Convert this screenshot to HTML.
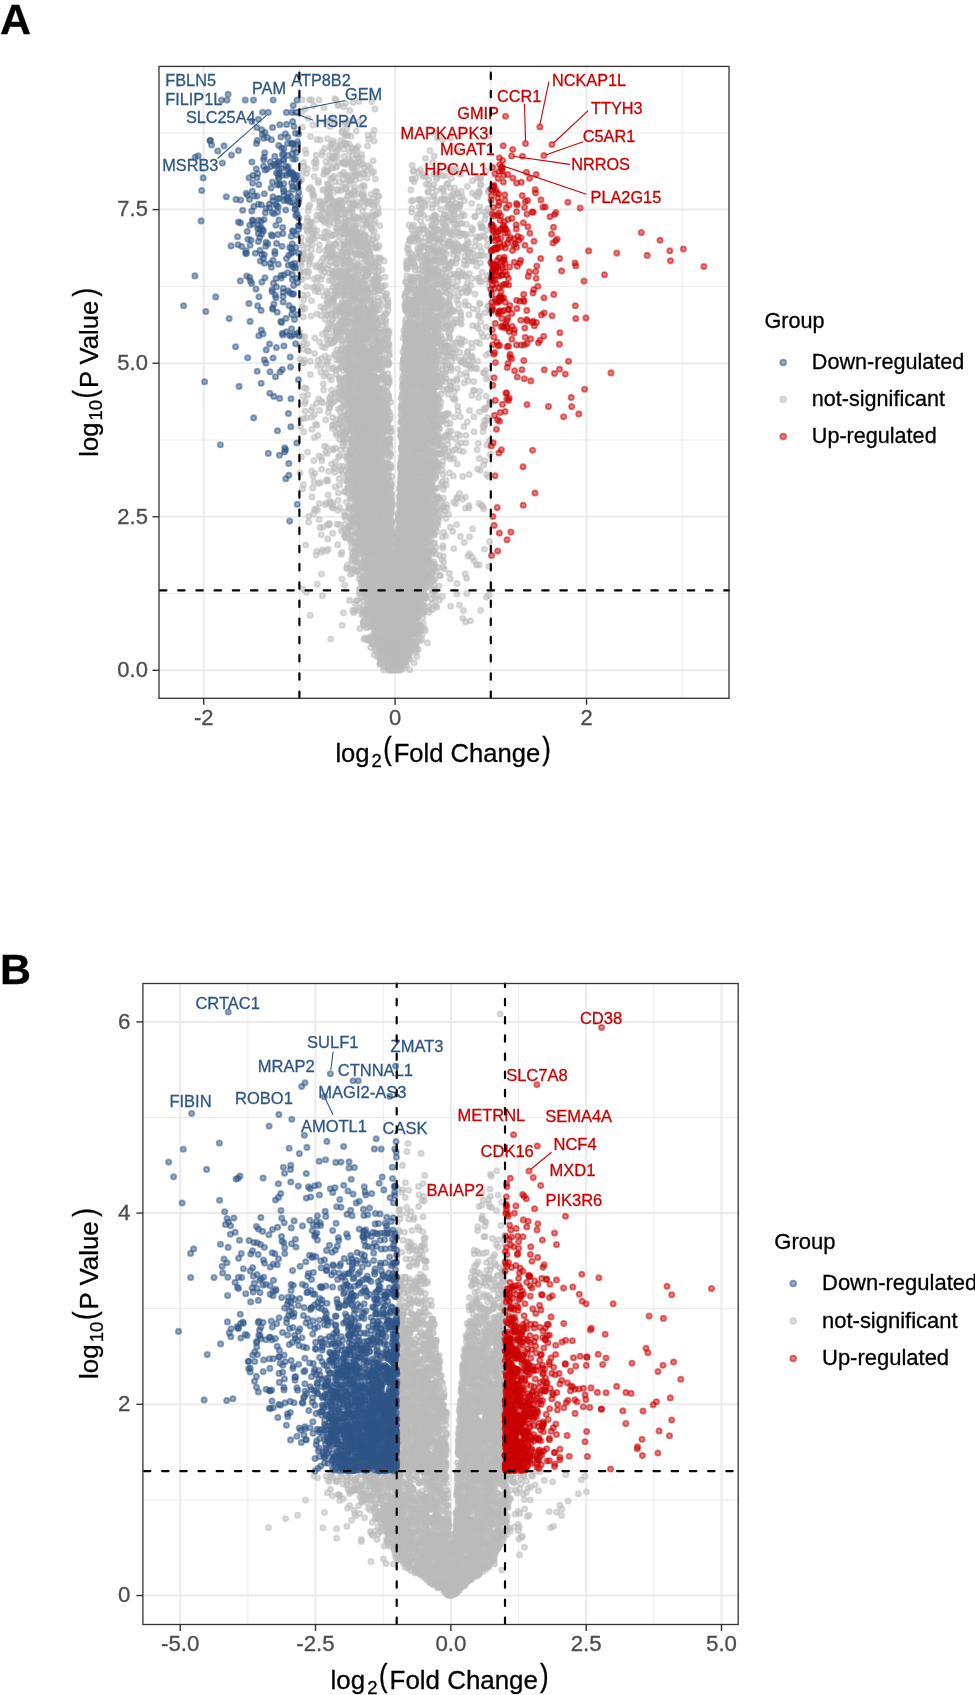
<!DOCTYPE html><html><head><meta charset="utf-8"><title>Volcano plots</title><style>html,body{margin:0;padding:0;background:#fff;}svg{display:block;will-change:transform;}text{font-family:"Liberation Sans", sans-serif;stroke-width:0.3px;}</style></head><body>
<svg width="975" height="1695" viewBox="0 0 975 1695">
<defs>
<marker id="mb" markerUnits="userSpaceOnUse" markerWidth="10" markerHeight="10" refX="5" refY="5" viewBox="0 0 10 10" overflow="visible"><circle cx="5" cy="5" r="2.65" fill="#2f5688" fill-opacity="0.5" stroke="#2f5688" stroke-opacity="0.5" stroke-width="1.8"/></marker>
<marker id="mg" markerUnits="userSpaceOnUse" markerWidth="10" markerHeight="10" refX="5" refY="5" viewBox="0 0 10 10" overflow="visible"><circle cx="5" cy="5" r="2.65" fill="#BBBBBB" fill-opacity="0.5" stroke="#BBBBBB" stroke-opacity="0.5" stroke-width="1.8"/></marker>
<marker id="mr" markerUnits="userSpaceOnUse" markerWidth="10" markerHeight="10" refX="5" refY="5" viewBox="0 0 10 10" overflow="visible"><circle cx="5" cy="5" r="2.65" fill="#CC0000" fill-opacity="0.5" stroke="#CC0000" stroke-opacity="0.5" stroke-width="1.8"/></marker>
</defs>
<clipPath id="ca"><rect x="159.0" y="66.4" width="570" height="631.9"/></clipPath>
<clipPath id="cb"><rect x="142.9" y="983.45" width="595.3" height="641"/></clipPath>
<line x1="299.4" y1="66.4" x2="299.4" y2="698.3" stroke="#EBEBEB" stroke-width="1"/>
<line x1="490.8" y1="66.4" x2="490.8" y2="698.3" stroke="#EBEBEB" stroke-width="1"/>
<line x1="682.2" y1="66.4" x2="682.2" y2="698.3" stroke="#EBEBEB" stroke-width="1"/>
<line x1="159" y1="593.5" x2="729" y2="593.5" stroke="#EBEBEB" stroke-width="1"/>
<line x1="159" y1="440" x2="729" y2="440" stroke="#EBEBEB" stroke-width="1"/>
<line x1="159" y1="286.4" x2="729" y2="286.4" stroke="#EBEBEB" stroke-width="1"/>
<line x1="159" y1="132.9" x2="729" y2="132.9" stroke="#EBEBEB" stroke-width="1"/>
<line x1="203.7" y1="66.4" x2="203.7" y2="698.3" stroke="#EBEBEB" stroke-width="2"/>
<line x1="395.1" y1="66.4" x2="395.1" y2="698.3" stroke="#EBEBEB" stroke-width="2"/>
<line x1="586.5" y1="66.4" x2="586.5" y2="698.3" stroke="#EBEBEB" stroke-width="2"/>
<line x1="159" y1="670.3" x2="729" y2="670.3" stroke="#EBEBEB" stroke-width="2"/>
<line x1="159" y1="516.8" x2="729" y2="516.8" stroke="#EBEBEB" stroke-width="2"/>
<line x1="159" y1="363.2" x2="729" y2="363.2" stroke="#EBEBEB" stroke-width="2"/>
<line x1="159" y1="209.6" x2="729" y2="209.6" stroke="#EBEBEB" stroke-width="2"/>
<g clip-path="url(#ca)"><path d="M334.8 98.7l-32.8 1.1 7.5 0 2.3 0 7.3 0 17.1 0.4 2.3 4.1 7.2-1 7.3-0.8 5.7-1 13 0.1 -66.6 7.3 8.7-3.3 10.1 2.1 14-2 6 1 5.7 3.7 25.3-1.5 -73.1 3.7 6.2 5.6 17.8 3.2 4.3-0.8 3-2.1 1.6 2.8 9.6 1.6 1.7-0.3 4.8-2.3 1.9 0.2 5.8 1 -56.1 5.8 10.5-2.4 17.1 1.5 16.4-2.3 0.5 4.1 -5.1 4 0.6-1.6 3.1 3.9 2.1 0.1 8.6-3.6 16.7 4 1.3-4.8 60.4 2 -124.1 4.4 6.4 3 3.3 0.3 7.5-1.1 5.7 2.1 7.4-0.4 4.4-5.4 2.1 0.6 3.7 0.5 17-1.1 0.7 4.1 68.7-1.3 5.3 1.8 8-1.6 38.6-2.5 -158.3 8.6 1.7-1 5.1 2.3 2.9-0.2 3.2-3.2 1.1 1.6 1.3 0.1 0.3 1.7 2.4-1.8 9.1 2.6 9.4-0.4 6.6-4.9 -68.9 9 17.4 1.8 2.1-3.4 5.9-1.3 1.1 2.1 4.6 2.5 1.3-1.9 1.3-2.6 4.7 2.1 5.8 2.6 2.6-2.3 0.4-1.8 3.5 0.8 0.9 1.9 73.1 0.1 27.6-0.2 -151.5 3.1 10.3 1.5 5.6 0.1 7.4 0.3 2.9 2.1 0.2 1 0-2 1.4 1.7 1.1-1.7 2.3-0.5 7 0.6 4.6 2.1 3.8-3.5 3.7-0.1 1.4 3.3 1-1.6 2.9-2.4 0.2 3.3 63.7 0.6 8.7-2.2 -130.7 6.4 10.6-0.1 1.6-2.2 0.5 2.7 9.7-1.5 4.9 0.2 7.3 0.6 4.3 0.8 0.8-0.8 0.7 1.1 0.4-0.2 1.5 1.4 1.8-1.3 2.8-2.7 0.1 2.1 1.7 0.6 2.9 0.6 0.8-1.6 2.9-0.4 2.4 2.7 1.9-0.8 10-2.9 59.5 1.5 -128.5 4 3.2 2.4 8-0.6 9 2 2.7-3.7 5.3 1.7 0.2-0.3 3.7-0.6 0.6-1.3 14.9 1.3 0.7 1.7 1.8-0.8 3.1-1.5 7.1 1.4 2.5 2.6 1.2-4.9 2 1.8 42-2.2 1.9 5.3 6.4-0.8 28.3-0.9 1.6 1.4 1.2-0.5 4.7-0.4 30 1.6 -183.6 1.3 3.9 1.3 7.6 3 9.6-2.2 1.6-1.6 1.3-1.7 0.1 0.4 0.9 0 6.4 4.9 6-1.7 2.8-0.4 0.9-2.1 2.7 3.4 2.7-0.4 4.5 0.9 0.9-3.1 0.9 1.8 1.5-0.5 1.6-1.4 4 0.3 1.8 1 7.7-1.1 1.6-1.3 39.3-0.6 5.3 1 4 2 1.3 2.3 2.3-0.2 7.9-2 3.6 2.4 1.2-2.8 3.9 1.7 2.8 0.1 11.3-3.8 4 2.4 -161 4.2 0.5 3.1 1.6-2.2 16.7 3.3 0.2-1.9 12.1-2.5 2-0.4 2.2 3.7 4.3 0.4 4.2-2.2 2 3.2 2.3-5.7 2.1 3.8 0.9-1 1-0.3 3.4 0.6 5.3-2 6.7-0.5 8.4 1.1 36.8 0.3 0.1-0.6 1.7 3.1 1.8-3.8 13.1 1.7 7.7-0.7 14.8-0.7 21.1 2.5 4.9-2.5 2-0.2 1.6 0.2 -170.6 9.1 16.9-3.7 1 0.3 0.9 2.5 2.2 0.7 11.4-0.1 2.8 1.3 0.6 0.3 3.6-4.4 5 2.8 6.3-0.2 2.1-1.4 1.1 0.7 61.9-2.1 2.5 1.1 3.6 2.7 1.4-3.1 7.7 3.6 2 0.4 3.4-4.8 1.2-0.4 2.2 4.4 4.6 0 12.6-1.6 13.2-2.2 0.5 1.1 -172.3 3.8 3.3 0.1 0.4 2.4 0.2 3.1 10-4.8 1.3-0.2 2.8 3.6 0.7 1 0.4-5.2 0.8 0.7 0.4 3.7 1-4.1 3.7 2.5 3-2.7 1.8 1.4 2.6-0.3 6.8 2 2.2 1.8 2.1 0.7 1.5-3.1 0.6-1.2 0.7 4.4 3.2-1.5 3.4 1.1 0.9 0.4 0.8-2.3 7.6 1.8 4.2-2.7 1.5-0.4 34.2-1.4 17 2.1 0.4 0 8.2-1 6.7 0 10.5 2.8 3-0.3 0.8-0.2 3.7-2.1 11.3 1.9 6 0.6 0.3-2.3 0.8 1.2 8.8-2.6 0.1 2 -188.4 4.3 13.5 2.7 0.3-3.5 11.2 5.3 1.8-1 0.7-1.1 1.5-2.3 1.2 1.7 0.6 0 1.8 2.8 6.7-0.4 0.5 0 5.8-1 2-3.5 4.1 4.8 11.2-1.7 1.1-2.1 0.5 2.7 8.6-1.2 4.6-2.2 1.1-0.1 34.1 4.2 5.7-0.7 0.8-0.2 1.5-0.1 6.2 0.5 5.7-2.7 1.1-1.2 2.5 4.9 4.6-1.9 0.7 1.1 2.5-5 0.2 4.1 2.7 1.7 0.2-0.6 3.9-4.8 0.8 1.5 0.4 2.7 7.1-2.8 2.6 0.2 2.1 3.8 11.2-5.7 2.2 1.8 -169.2 9.8 1.4-1.7 9.6-4 0.4 0.9 0.6 3 1.2-0.8 1 0.1 6-0.3 1.2 2.5 2.6-1.3 0.7-2.2 1.3 2.3 0.5-0.4 0.8-1.6 0.7-1.8 0.3 5.2 0.4-0.7 0.3-1.6 0.1 0.5 0.3 1.4 0.5-2.2 0.9-1.1 1.6 1.1 1.3-0.9 2.4-2.1 5 2.4 2.4-0.3 0.4 2 1.6-0.3 0.9-1 1.8 1.2 0.4-3.2 1.3 4 4.2-4.6 1.4 5.1 4.1-2.8 0.9-2.2 0.3 0.5 2.8 2.8 1.9 1 0.7-3.4 2.1-0.7 34.4-0.5 7.7 5.6 2.3-5 2.9 1.8 1.5 2.1 6.8-1.1 4.3-0.8 12.9 0.3 0.5 0.7 4 1.4 1.9-2.9 0 3.5 3.3-0.3 0.3-1.7 0.6 0.2 11.5-1.4 8 3.2 -171.6 4.3 11.1-3.6 2.9 2.5 1.7 1.8 1.7-2.8 3.7 3.7 2.1-5 3.1 2.3 1.2 0.3 0.2 1 1.6-0.7 1-1.6 0.1-1.8 2.9 1.8 0-1.1 1.9 0.6 1.8 3.5 0.4-1.7 4 2.3 0.3-3.1 1.3-1.1 0.8 3.7 0.3-2.7 10.4 1.9 10.2 1.1 5.3-4.6 33.6 4.6 0.1-3.9 9.3 1 0.6-1.5 10.6 0.2 8.5 1.2 6-2.1 1.7 0 2.9 0 0.3 3.1 0.2 2 1.2-4.2 0.9 1.1 0.4 2.2 4.1-2.6 20 2.8 6.1 0.8 3.4-3.9 2.7 2.7 -183.3 6.5 9.5-2.7 2.5 0.2 1.4 1.6 0.5 2.2 0.7-1.2 5.7-1.6 1.5-2.7 0.3 0.3 4 2.9 1.3 0.5 1.2-3.7 0.9 4.6 0.5 0.1 0.4-2.5 0.3-1.7 3.4 0.4 2.9 3.6 0.3-4.3 1.6 4.9 5.7-0.9 0.8 1 1.1-2.8 1.9 1.1 2.8 0.6 3.7-0.6 3.2 0 1.5-1.7 5.5 0.5 0.2 0.1 2.6-0.4 1.6-1.7 1.8-0.6 37.9 4.3 1.8-3.6 2.2-0.4 2.9 1.6 4.6 3.2 5.2-1.8 1.1-0.8 0.2-0.6 1.2 0.4 3.1 2.9 4.5 0.1 0.9-4.5 0.1 1.4 1.6 2 0.8-0.4 3.2-3.6 2.4 5.4 2.1-4 1.7 3 4.8-1.3 1.1-2.4 2.2 1.3 10.4 1.4 0.4-0.6 11.1-1.3 -178.9 6.1 2.7 2.9 0.4-2.2 1 1 4.6-2.6 6.6-0.4 0.8 1 1.6 2.1 0.1-3.7 3.9 5.7 0-5.6 0.3 2.8 5.2 1 2.6-1.6 3.2 2.2 2.2-0.6 3.3 0.5 2-2.8 0.5 3.3 0.8-3.6 5.2-1.1 1.2 4.8 3.7-5 2.6 5.2 2.1-4.7 3 4.4 0.1-4.6 1 4.1 1.4-2.4 4.7 2.8 0.7-2.7 38.8 3.8 7-3.9 11.9-1.1 2-0.9 1.6 1.9 0 1.7 6.5-0.5 0.8 2.2 0.4-0.8 4.9-1.9 1.6-1.4 3.3-0.6 1 4.5 2.2-0.2 3-0.2 1.9-0.5 4.5 0.9 13.9-0.5 4.8-4.3 -182.3 7 4.6 3.6 1.5-3.9 1.6 3.1 3-1.3 3.5 2.5 19.2-2.3 1 0.3 1.1 1.6 4.8-2.2 0.2-0.1 1.8-2.5 0.1 2.5 0.1 0.7 1.2 0.7 1.7 1.7 1.1-3.7 2.4 2.5 1.1 0.5 0.6-4.5 0.2 3.1 1.3-0.3 1.1-2.6 0.2 4.9 6.6-1.1 3.8-4 4.1 0.7 0.9 2.1 0.4 1.6 2.3 1 5.8-5.2 29.1-0.7 2.6 4.7 0.5-2.8 5.8 3.6 0.5-0.7 1.2-1.1 3.2 0.4 0.2-3.1 0.9 3 2.8 1.4 4.5-5 0.8-0.1 0.8 1.3 1 1.7 0.3-1 2.5 1.9 1.7-0.2 2.7 1.6 4.5-3.2 0.2-1.2 1.1 2.1 7.5 0.3 3-0.8 14.4-0.1 1.1 2 8.4-2.1 0.5-1.7 0.7 1.7 4.1 2.6 -179 1.7 4.8 0.5 0.3 0.5 1.6-1.9 2.9 5.2 7.6-4.1 2.5-0.9 2.5 2.4 1.6 2.3 2.1-0.9 1.8-0.9 4.2 1.5 1.4-2.7 0.8-1.5 2.1 2.2 0.1 0.7 1.4-0.6 3.2-2 1.6 0.4 0.3 1.7 1.3 0.9 0.1-1.4 1.7 1.2 1.2-2.1 1.9-0.1 1.3 1.7 0.6 2.4 1.4-0.6 0.9-2.9 2.3 2.4 1.8-0.1 0.2-0.8 0.6 1.6 7.1 0.1 4.3 0.6 36.2-2.4 1.7 0.5 5.2-2.4 7.9 1.9 0.5-1.4 2.6 2 0.8 1.8 0-0.6 0.2 0.1 0-3 0.8 0.9 2.9 0.7 0.2-3.5 6.5 4.2 0.3-3.8 1-0.5 1.7 1.3 4.2 0.7 1-2 0.4 3.6 2.5 0.5 3.6-2.4 2.1 0.1 0.4 3.2 1.2-3 2.3 0.4 2.1 1.6 0.2-1.1 5.4-0.2 6 2.9 5-1 2.6 0.5 -183.6 6.5 0.4-5.5 7.2 1.5 2.3 1.4 1.5-2.6 2 1.3 8.3-2 1.8 1.1 2.4 0 11.3 3.1 5.4 0.2 4.5-2.1 0.6-1.3 0.2 3.8 3.7-1.4 0.2-3.3 1.5 2.6 0.5-2.3 1.8 1.9 1.2-0.6 0.1 1.9 2.5-0.9 1-2.3 2.6 3.2 0.6-0.6 2.2 2.2 2.2-2.8 0.9 3.3 3.3-3.1 2.5 2.5 33.9-2.6 0.7 0.5 0.2 1 0.8-2.9 1.6 1.9 1.8 1.6 0.5-3.6 1.3-0.7 1.1-0.2 1 2.3 3.3 2.6 3.2-4.5 3.9 2.2 0.4 1 2.1-2.3 2.5-0.2 0.1-1.1 3.9 2.3 0 0.5 0.7 0.9 0.9-2.2 1.2 1.8 2.2 2.4 0.2-5.2 4.9 5.3 0.8-2 1.6 0.7 4.9 0.6 11.8-1.4 1.7 2.1 6.9-2.1 3-3.1 1.2-0.6 6.8 2.5 -184.2 5.8 4.7 2.7 1.5-5 3.7 1.5 7 0.1 8.6 2.7 0.3 0 0.9-3.5 4.1 1.8 1.6-1.5 0.4-0.4 4.7 3.8 4.3-3.6 0 3.8 0-3.7 0.2 0.9 0.7-0.1 2.3-1.2 0.6 2.2 0 0.4 3.6-2.8 0.4 1.4 1.4 1.7 4.3-1 0.7-2.2 0.1 0.4 0.7 3.2 1.1-0.9 0.5 1.2 1-3.7 0.9 1.9 4-1 0.2 3.4 0.3-3.3 4.5-0.2 1.4 3.8 2.8-1.3 0.2 0.7 1.5 0.5 1.5-2.4 28.1 2.8 1-4.2 9.4 4.1 1.8-4.6 1.9 2.5 3 0.6 0.7-0.4 2.7 2.4 0.3-0.4 0-4.4 3.6 4.5 2-5.6 0.4 3.3 2.5 0.6 5.1 0.5 3.2 0.9 3.2-2.1 0-2.1 0.8-0.8 0.4 0.5 0.8 0.7 0.6 1 0.4 0.2 2.7 0.8 0.7-2.1 0.8 3.2 2.4-3.4 0.7 2.3 0.8 1.5 3.5-1.2 0.5 1.1 0.2-0.5 2.2-1 1.2-1.9 8.1 1.9 4.7-0.1 7.5-0.6 3.4 3.3 -187.7 3.4 0.5 1.5 8.1-3.8 7.7 0.1 6.2 0.1 2.6-0.3 2.5 2.5 0.2 1.7 0.8-3.6 0.2 4.3 0.3-3.2 1.2-2.6 4.3 5.3 4.2-1.9 1.2-1.2 1.4 0.8 0.2 1.1 3.4-0.6 0.5-0.2 1.6-0.7 0.6-0.6 4.3-0.9 1.1 3.9 0-0.5 0.1 0 2.6-0.1 0.4-0.7 0.6 1.4 1.6 0.5 0.7-3.8 1.2 0.3 2.9 2.8 0.6-4.1 0.9-0.1 2.1 1 0.3 3.4 38.6-4.7 0 3.9 2.1 0 5.9 0.3 2.5-4.1 0.3 2.4 1.1-1.8 6.3 4.5 0.2 0.1 1.8-1.7 2.3-2.9 0.4-1.1 1.8 1.7 1.7-0.9 0.3 1.7 0.3 1.5 1.9-0.8 0.2-0.3 1.4-1.4 0.6-0.6 2.6 1.6 0.6-0.2 1.7 1.4 1.8 1 6.5-3.8 0.3 4.4 1.6-5.2 0.4 2.9 2.5-1.7 0.5-0.2 0.1 2.7 6.3-3.1 2.5 0.3 0.9 3.9 0.4-1.8 1.1-2.5 1 2.7 3.1 0.9 7.9-2.1 -181 8.8 2.1-0.7 0.1-1.5 2.7 1.2 3.8-3.3 1.1 3.1 1-2.6 11.9 1.8 2.9-2.9 1.4 4.5 0.6-3.8 1.3-0.5 0.7 2.1 1-1.7 0.4-0.2 2.2 1.3 1.5-1.3 1 2.8 2.2 0.7 2.9-0.8 0.1-2.8 1.1 1 0.4 4 1.6-1.8 0.5 1.7 2.8-4.6 0.9 3.4 0.6 0.9 2.4-2.4 5.7 1.8 4.6-4.4 1.9 1 2.1 0.9 0.3 1.8 0.1 0.6 3.2-4.3 1.2 0.9 1.8 4.9 2.8-2.7 2.9-0.5 1.7 1.5 1-0.9 25.8 2.7 3.6-1.6 1-1.1 0.3-0.9 0.7 3.1 4.6-3.6 0.5 1.4 3.8-2.7 1.5 2.9 1.5-2.6 0.9 4.4 2.2 0.2 0.5-2.7 4 1.1 1.3 2.1 0.7-5 0.8 1.8 0.4 2 1.2-0.4 1.8-2.8 1 4.2 2-5.3 1.2 2.4 0.8 2.5 1.1-2.1 0-0.5 0.3 1.5 12.4-0.3 0.3-0.7 7.3 2.6 0.5-4.4 2.7 2.6 3.3-1 4.8 1.8 2-4.3 2.8 0.1 2.1-0.2 5.3 0.4 -187.3 7.3 0.7 1.9 7.9-0.4 0.7-2.8 6.2 3.5 4.8-3.4 2.2 2.9 5.7 0.7 2.1-3.3 4 0.4 0.9 1.6 1.2-0.5 2.9 2.4 3.4-2.5 1.2 0 0.3-2.4 0.1 3.8 2.3-2.3 2.8 0.5 1.2 3.4 0-5.4 1.2 4.5 4.7 0.1 0.1-0.5 0.3-0.8 1.9 1.7 4.2-4.1 2.6-0.8 2.5 1.8 1.5 2.2 1-1.9 0.5-1.4 1.6 4.4 0.8-1.9 1 2.4 1.1-2.8 2 2 0.3-3.1 5.6-2 22.3 2.9 1.4-1.4 0.2 3.5 3.1 0.4 0.9-5.3 2.1 2.9 0.1 0.2 0.8 2.7 6.6-5.6 0.6 4.4 0.1-0.1 2.1-1.8 0.6-1.8 2.8 2.2 0.4-3 0.4 0.7 0.4 5.1 1.7-4.8 4-1.1 0.3 4.1 3.7-3.5 1.3 1.7 1.6-2 2.1 0 0.8 0.3 0.7 4.6 2.5-1.6 1.6 0 0.7 0.4 1-3.4 0.6 1.2 1.2-0.4 3.2 0.8 8.1 1.5 2.4 0.4 2.2-4.1 3.3-0.1 1.9 0.3 3 5 3.6-3.5 -180.3 8.9 0.7 0.3 3.3-0.1 2.9-1.2 1.6 1.4 7.5-5.1 4.5 2.7 0.4-2.7 1.6 1.7 1.8 3.4 2.6-3.5 5.3 2.4 0.9 0.8 2.7-1.9 1.9 1.8 0.8 1 2.1-1.4 1.5-0.2 3 0 2 0 0.5-2 1.1 2.4 0.8-2.6 2.8-0.1 1.5 1.1 1.1-2.9 1.1 3.7 2.2 0.7 0.4-0.8 3.7-1 0.3-1 2.1 0.7 0.7-0.4 0.1 1.8 1.6-2.3 0.4 2.3 0.7 1.8 1-2.5 4.6 1.4 1.4 0.7 3.5-1.2 3-1.1 24.9-2.7 0.2 1.5 0.2 0.2 8.2 1.5 3.4-0.6 3.8 1 2.2-0.5 1.1-1 1.2 2.1 1.4-3 0.3 2.5 1.7-0.4 0.1-0.8 0.1 2.3 2.8-2.2 0.8 0.5 0.2-1.6 1.1 0.9 0.1 2.3 1.5-1.4 0.4-1.8 0.4 3.9 6.2-3 2.2-0.2 2.6-2 0.4 0.9 9.6 2.7 3.7 1.7 19.4-0.4 -181.5 5.6 7.2-1.2 6.4 2.2 3.3-1.5 4.8-1.5 7.2-2.3 2.9 1.1 1.8 2.2 0.9-3.4 0.3 2.6 1 2.3 2.6-1.9 0.1 1.7 1.2-4.5 0.7 0.6 0.5 1.3 1.7 1.5 1.4-0.8 1.3-1.7 0.4 4 0.7-2.7 0.2-0.7 2.5 2.8 0.6 0.4 3.2-1.8 0.4 0.5 0.1-0.6 0.1 1.4 0.3-2 2.3 1 0.1 0.8 5.3-4.3 0.5 3.8 2.2-0.6 0.5-0.4 1.2-1.8 0.5 1 0.8 0.9 0.2-2.5 7.8 3.9 1 0.1 0.1 0.3 1.2-2 1.4 2.9 5.5-1.8 21.8-1.4 3.3 1.9 1.8 0.8 0.1-1.6 2 2.2 1.7-2 3.2 0.7 0.3-0.3 0.6-2.3 5.5-1.8 0.7 5.6 0.7-2.7 1.2 0 0 0.5 1-2.6 0.3 1.1 1.3 3.4 2-5.4 0.9 0.3 0.2 3.1 1.3 1.8 1.2-2.5 0.1-1.6 0-1.1 0.3 4.4 2.2-4.6 0.2 3.1 2.6-3.1 0.4 5.5 3.4-2.6 0.5 1.7 4.7-3.2 2.1 3.3 1.7-3.7 2.6 0.5 0.9-0.1 1 1.8 1.9 0 1.2-2.1 3.2 1.7 1.2 1.2 2.9-3.4 2.7 5 5.9-0.4 1.5-0.2 8.3-2.5 2.9-1 -188.4 5 14.4 2.6 4.3-2.9 8.2 1.3 2.9-0.3 2.4 3.6 6.1-3.7 0.6 3.6 0.2 0.2 3.7-2.7 0.5 2.4 0.2-1.2 0.3 2.2 1-0.5 1-2.1 2.2 1.9 0.4-4.6 0.5 1.3 2.2 2.9 0.2-2.7 1.5 2 0.5 0.9 2.8-2.6 0.7 2.6 1-2.2 0.6 1.3 1.7-1.4 1.1 2.4 0-0.4 1.1-3.2 0.3 4.1 5.2-1.9 3.1 0.5 0.2-3.9 0.9 0.9 0.6 2.2 1.7-0.3 0.8 2 0.4-1.1 0.5-3.2 27.7 2.9 0-0.9 4.6-0.5 0.8-1.5 0.2 4.6 1.5-2.6 1.1 0.7 4.5 1.9 2.7-0.3 0.1-4.1 0.2 1.3 0.8 3 1.1-2.4 1.2 1.3 0-2.8 0.1 4.3 0.8-4.3 0.1-0.2 0.6-0.6 0.7 2.3 0.2-0.6 3.6 1.1 2.6-2 3.2 4.1 1.1 0.1 0.1 0.2 0.3-3 3.2-2.4 0.4 4.8 1.3-0.5 0.3-1.3 2.6 2.3 1.3 0.5 0.1-4.8 1.2 1.8 3.7 2.4 5.6-3.1 9.8 2.2 11.7-2 2 0.7 4.9-2.1 3.3 0.7 -183 6 6.3 0.5 2.2 0.5 2.5 1.3 3.1-2.3 5.5 4.2 4.7 0 2.2-4.3 2.8 4.1 0.6-5.4 1 2.5 0 0.8 0.4-2.9 0.2 1.2 3.7-1.8 1.5 4.2 0.9-3.4 0.2 0.9 1.5-0.1 1.8 2.6 1.2-2.2 2.3-0.9 0.6 3.1 0-1.9 0.3 0.8 1.1-1.1 3.5 3 0.7-0.3 1.1-4.4 0.5 5.4 1.1-3 1.2-0.3 1.2 0.6 0.1 1.2 0.5-0.8 0 0.2 2.5 0.4 1.1-0.3 1-0.3 0.2 1.5 0.4-0.8 2.4-0.5 4.1-3.4 0.4 0.6 0.3 0.2 0.4 2.2 1.3-1.7 1.1 3.9 0.9-0.3 1.5-0.1 1.1-4.2 0.5 1.1 2.9-1.6 22.5 3 0.1 0.7 0.1-3 1.3 1.7 0.1 2.2 0.8-1.2 4.1-2.6 0.6 3.2 1.4-0.6 0.4 2 2.2-2.5 1.3-0.5 0.9 3.1 1.4-4.5 0.1 0.1 1.1-0.6 1.4 3 3.6-0.1 1.1-0.8 0.9 2.4 0.4-4.1 1.9 2.4 0.2 0.3 0.2-3.4 3.6 3.6 5.9-4.1 1 1.8 1.9 0.7 1.7-1 1.3 3.8 3.9-3.2 4.1-0.6 2.9 2.6 6.2-2.1 0.5 3.4 2.2-1.1 2.6-4.2 18.1 0.8 -186.8 8.8 5.1 0.3 7.9-3.8 3.3 0.6 5.3 4.1 3.3-2.3 7.5 0.6 1.3-0.4 1.5 0 0 1.8 3.7-4.3 1.5 4.4 0.3-4 1 2.7 0.5 0.2 0.7 0.1 2.6-0.8 1.1 1.7 0-4.2 1.7 1.3 0.1 2.9 1.3 1.1 1.4-4.8 0.4 3.3 0.4-2 0.5 3.5 0.6-0.3 0.6-5.2 2.3 1.8 2.2-1.7 0 1.6 0.3-0.7 1.5 1.7 0.1-0.8 1.6 0.7 3.8-1.6 0.1 4 0.5-1.8 0.1-2.2 2.4 4.6 3.5-4.9 0.6 0.2 7.7-0.8 2.1 5.2 1.2-1 1-2 17.9 3 0.7-3.4 0.8-0.4 1.9 2.3 6.3-2.1 0.8 3 0.2-3.1 0.9-0.4 0.2 2.8 1.9 1.5 1.9-0.4 0.1-0.6 0.9-4.4 1.3-0.3 0.4 0.7 0.1 4.2 0.7-2 1.4-0.1 0.5-2.2 0.6 0.2 0.3 3.2 1 1.3 1.7-2.1 1.1 0.3 4.1-1.6 0.3-0.9 0.9 0.9 2.1 0.2 1.4 0.1 0.2 1.7 1.8-2.9 5 0.3 0.1 0.1 4.2 3.6 3.4-2.8 4.5 2.9 3.5-3.8 4.9 0.4 2.4-1.5 5.8 2.8 -171.3 6 7.9 0.6 15.3 0.6 1.4-4.3 1 1.7 2.3 1.3 1.2 0.5 0.7-1.9 0.1 1.9 0.3-2.7 8.1 4.1 3.1-2.2 3.4 2 3-0.5 0.5-1.1 0.8-0.8 0.3 0.7 1-0.3 1.2-1.6 0.1 0 1.8 4.6 2.7-0.7 0.1-2 0.2-2.9 1.3 2.9 0.3 1.6 0.5-0.8 1.2-1.1 2.2-0.3 0.4 1.6 1.5-2 2.9 1.8 0.4 1.4 1.6 0.6 0.9-3.6 4.5-1.4 0.6 3.7 4.1-2.2 5 0.3 0.6 2.9 17.1-4.9 0.2 5.1 2.4-3.3 0 3.2 0.9 0 0.5-3.1 3.1 0.5 0.5 2.1 0.7-1.4 0.3 0.6 1.3 1.4 1.9-2.8 0.6 0.6 0.2-2.8 1.9 2.5 0.8 2.2 1.8-5.2 0.9 5.4 1.9-0.3 0.1-4.9 1.5 0.3 0.8 2.6 0.6 0.6 0.8-2.7 1.2 3.9 1.8-1.7 0.7-2.1 0-1.1 0 4.5 2.3-1.4 0.8-1.1 0.1 1.9 0.2-0.6 1-0.6 2.3 1.7 0.4-2.9 0 1.4 0.4-0.3 1.1 1 0.8-1.9 5.7 3.2 0.9 0 0.5-3.8 7.4 1.6 8.6 2 -162.9 4.6 2.5 2.1 16-1.9 2.9 1.5 3.4-4.9 1.1 3.6 0.7-2.2 4.3-1.6 2.6 2.6 2.5 1.1 0.6 1.8 2.2-0.3 0.4-2.3 0.1-2 2.6 0.7 1 0.4 0.3-2 1.7 0.7 0.3 4.9 0.1-4.7 0.3 2.2 0.3 1.5 0.7-3.6 0.5 1.5 1.5-2.1 1.1 5.5 0.8-4.4 2.9 3.6 1.7 0.5 0.6-5 0.6 5 4.5-3.9 0.6 2.8 0.1 0 0.1 1.3 0.1-1.2 0.7 0.2 3.1-4.7 3.8 2.9 0 1.9 1.8-1.4 0-2.6 1.5 4 1.5-0.3 2.5-3 2.6 0.5 5.7 0.8 0.5-0.8 17 1.9 0.1-3.1 0.8 4.6 1-3.5 0.3-0.9 1.1 4.7 0.2-2.8 1.1 1.8 3.8-3.7 0 1.4 0.3 1.2 0.7-1.7 0.9-1.4 0.7 2.7 0.6-0.5 0.4 0.1 3.9 0.7 0.2-3.1 2.9 4 1.7 0.6 0.3-4.3 2.5 1.6 0.7 1.3 2.7-2.6 1.3-1.2 0.3 2.8 1.3 1 0.2-0.7 0.4-0.2 0.2 3 0.8-1 0.6-3.2 0.5 3.1 3.1 1 1.2-3.4 0.1-2.4 0.2 1.4 0.5 2.2 0.2-1.7 2.7 2.5 0.9-3.1 3.3 0.5 0.2 0.1 8.8-1 6.9 1.2 3.2 0.4 4.4 3.2 6.6-5.1 0.4 0.1 7.8 2.5 1-0.1 -186.7 3.5 15 4.3 7.3-3.2 2.8 4.3 3.6-1.8 0.9 1 2.3-4 2.1 1.4 0.2-1.2 0.2 4.4 1-2.9 3-2.8 1 2.9 0.9 0.4 1-1.1 0.7 1.8 1.4-0.3 2 1.1 0.5-2.4 0.3 2.6 0.3 0.3 0.3-2.5 0.8-1.5 0.3 1.2 1 1.1 0.9-0.3 1.6 0.9 0.7 0.1 0.1 1.4 0.7-4.3 0.9 2.7 0.2-2.1 0.1 0.1 0.9 2.8 0.4-4.2 0 1.9 0.1-0.4 0.2 3.6 0.1-3.2 0-1.3 0.8-0.2 1.5 4.7 0.4-5.2 0 4.8 0.1-4.6 0.7-0.4 0 4.4 3 0.8 1.6-5.1 0.3 2.7 0.5-1.5 0.1 2.2 1.2-0.2 0.1-0.5 0.6-1.2 0 3.5 0.1-4.3 0.2 1.6 0.3-2 0.8 1.8 0.8 0.7 0.7-2.1 0.4 4.2 1.1-0.4 0.1-0.6 0-1.8 1.7 0.4 1.9-1.4 2.5-1 5.8 4.2 1.2-0.1 1.7-3.4 17.5-0.3 0.9 1.5 1.4 1.6 0.6 1.2 1.3-3.4 0.4-1.9 0.8 1.3 0.2 3.2 1 0.6 0.3 0.8 0.2-1.6 0.9-4 1 0.6 1.2 3.1 0.8-1.7 0.1-0.8 0.1-0.8 0.1 5 0.2-1 3.7-3 0.7 3.2 0.5-3.7 2.1 1.4 3.1 0.3 1.5-2.9 1.3 4.4 0.3-0.9 0.6-1.9 0 0 1.4-0.2 7.2 1 1.5 3.4 0.3-2.4 4.1 1.6 0.5-3 2.8-0.2 0.2 3.6 0.1-1.1 2.6-2.2 0.5-1.8 0.6 1.1 1.5 1.1 4.8-2 1.7 3 8.4 2.1 8.5-5 7.3 3 5.2-3.5 0.7 3.4 0.1-3 -187.5 7.3 7.7-0.8 10.1-0.3 4.3 3.6 1.8-4.1 5.2 5.2 0.2-1.7 3.2-2.8 6.1 2.3 0.8 2.2 0.6-0.8 0.5 0.1 0.4-3.9 1.4 3.4 0.1-0.3 1.1 0.8 5.1-1.7 0.8 2.4 0.7 0.3 2.5-0.9 0.2-2.2 0.6 1.7 0.3-1.9 1.5 0.8 1.9-1.7 0-0.2 1.3 1 0.2 1.4 0-0.3 0.3-1.5 2.2-1 0.5-0.6 0.2 1.5 0.5 0.3 2.4 0.3 0.8 3 1.7-2.2 0.8 2.2 0.9-0.8 3.5-1.4 0.5 1 0.2-0.4 3.6-1.2 3.2-1.3 2.7 3.7 19.7-0.9 4.7-2.4 0.1 1.8 4 1.3 3.3-4.1 0.6 1.5 0.3 3.3 3.2 0.4 1.8-2.3 0.4-3.5 1 1 0.6-0.8 0.2-0.4 0.2 1 0.3 1.8 0.4 0.9 0.2-1.3 0.3-1.1 0.2 2 0.6-2 1.6 1 1.9 2.5 2-3.5 0.3 3.9 0.1-4.9 0.4 3.3 1.2 2.1 0.9-1.1 1.4-3.2 1 0.2 2.2 2.8 1.2 0.2 2.6-2.4 0.5-0.7 1 1.9 4.7 0.5 5.2 0.6 4.6-4.1 0.4 3.3 17.3-2.8 1.1 0.4 -151.1 6.9 2.3 0.8 1.9 2.7 2.7 0 2.5-0.5 0.3-0.6 1-3.6 1.8 2.4 0-0.4 0.1-0.1 0.7-1.4 1.3-0.5 2.1-0.4 0 0.9 0.5 1.1 0.3 0.1 0.7-1.7 1.6-0.3 1.7 0.8 0.6-0.2 3.5 0.8 0.6 3.1 0.7-4.8 0.3 2.7 0.9 0 1 2.6 0.7-3.8 0 1.8 0.8-2.3 1.1 2.2 0.3-2.3 0.6 0.1 1.2-1.2 1.7 3.8 1.7-1 0.5 1.8 1.7-2.8 0.4 0.2 0.2-0.8 0.3 4.5 0.6-1.3 0.2-4.6 0.1 4.2 0 0.2 1.9-2.5 0.4-1.1 0.7 0.7 2.4-1.3 2.1 1.7 0.4 1.8 0.2 0.8 0.1-2.2 5 1.4 0-3.3 2.7 1.5 19.7 0.2 1 3 0.6-2.5 1 3.2 0.1-3.6 0.3-0.7 0.6 1.7 0.2-2.9 0.4 2.8 1.8 0.3 0.5 0.7 0.1 1.7 0.4-3.4 0.9 0.5 1.4 2.5 0.4 0.4 0.1-3.3 0.2-1.6 0.6 1.1 0.3 1.4 0.3 2.5 0.2-0.8 0.5-0.1 0.9-1.9 2 2.7 0.6-2.6 1.4 0.1 0.4 0.2 0.6-1.4 0.3 3.8 0.3-4.1 0.1 1 1.4-1.3 0.5-1.2 0.3 0.9 0.8 1 0.4 0.9 0.2-2.6 1.2 1.2 0.3 2 0.1-0.6 0.5-0.7 0.4-1.8 0.5 1.5 0-0.7 1.1 4.4 1.5-1.8 0.1 1.8 0.2-5.1 3.6 0.7 0.5 4.4 0.6-5 0.1 1.9 2.9 0.6 1.5 1.8 3.7-0.1 0.2-1.8 1.2 1.3 0.4 0.9 0.4-1.7 5-1.8 0 2.2 2.7-2.6 4.3-0.2 0.8 2 11.4 1.2 3.9 0.6 4.1-4.1 5.3 5 -186.5 4.9 26.6 0.2 0.8-2.9 1.4-0.2 8.2 3.1 0.1-1 0.3 1.7 1-2.3 0.5 2.4 2.5-1.1 0.8 0.1 1-2.4 0-0.4 2.3 0.7 1.4 1.7 2.9-3.6 0.6 1.1 2.6 3.1 0.8 0.2 2.2-4.2 0.1 0.3 1.1 2.2 1.9 0.3 0.3-0.1 0.5-1.1 1.9 0.3 1.8 1.2 1.1-4 0.5 1 1 0.1 2.7 2.3 0.4-0.7 0-1.5 0.2 0.3 0.8 2.5 0 0.6 0.4-3.6 0.3 0.8 0.6 0.2 1.1 0.7 1.3-0.8 0.1 2.6 0.5-1.9 0.2-2.8 0.4 3.1 0.7-0.5 0.6 0.8 0.9 1.4 2.4 0.1 1.3-2.2 0.7 2.5 1.6-0.6 1.8-0.9 1.5-2.3 1 2.7 1.8-0.1 14.9-0.8 1.5-2.5 0.6 4.3 0.6 0.5 0.3-1.6 1.9 0.5 1.8-4.3 1.8 5 1.2-4.7 0.2 3.1 1.6-3.3 0.3 5.6 0.6-3 0.8-2.6 0.6 5.2 0.7-2.2 1.3-1.3 0.6 2.2 0.8-0.2 0.3-2.6 1 2.9 0.2-3.4 4 0.2 0.8 0.8 0.1 1.3 0.7-0.2 4.2-2.6 0.2 2.7 1.7-2.7 0.4 0.4 1.2 4.2 0.1-1 1.7-2.5 0.1-0.7 0.5 1.4 0.1 1.3 0.3-2.6 5 0.7 2.1-0.2 3 4.4 2-2.8 0.1-1.2 27.4-0.2 3.2 4.5 -179.2 3.6 2.6 0.1 10.1 1.3 7.6-3.9 5.2 2.5 5.7-3.5 1.2 5.3 2.2-1.1 2.8-0.8 0.2-2.3 5.5 0.9 2.8 2.6 0.5-3.6 0.3 4.7 0.9-5.6 0.2 4.8 1.1-1 0.9-0.9 1.6-2.3 0.1 1.8 0.4 1.5 0.3-3.1 0.8 2.2 0.1 2.7 0.3-2.4 1.8 1.9 0.5-0.8 0.1-1.6 0.1-1.2 1.1 0.3 0.2-1.3 1.5 2.4 0.1-2.3 0.4-0.1 0.9 4 0.1-1 2.5-0.2 0.9-1.1 0.2 2.1 0-3.5 1.5 4.4 0.4-2.3 0 0.7 0.7 0.2 0.4-1.4 0-2.1 0.6 1.4 5.2 1.5 0.2 0.4 0.4 1.5 0.5-3 3.4 2.6 0.1-0.5 2.9 0.3 3.3 0.5 0.5-3.9 0.1 1.3 0.8 2.4 0.2-2 0.8 2.6 1-4.8 14.1 4.2 1.7-4.5 0.2 1 0.8 0.8 0.3 1.6 0.3 0.6 0.1-3 2.2 3.1 0.4-2.8 0.5-1 0.7 3.6 0.6-0.5 0.1 1.2 0.3-2.7 0.4 0.7 1.1-0.9 0.7 0.5 0.1-1 2.4 3 0.2 0.4 0.3 0.5 0.8-2.5 0.3 0 0.9-2 0 4.4 0.5-3.4 0.5 0 1.2 0.2 1 2.1 0.5 0.6 0-3.3 0.1 2.4 0.5-3 0.5-1.1 2.7 4.4 0.2 0 0.3-2.8 0.4-0.6 0.4 3 0.2 1.6 2.1-2.7 0.9 2.6 0.1-2.9 0.5 2.4 1.2 0.8 1.1-4.4 0.7 0.5 0.3-0.5 0 2.1 0.2-0.8 0.4-2.6 0.6 2.1 2.8 0.4 0.2 0.8 2.6-1.3 7.8-0.6 0.5 3.2 0.4 0 8.9 0.7 24.1-1.7 4.7-0.1 -183.5 5.8 2.7 1.5 12.9-2 7.3-2.7 0.7 5 2.4-0.9 0.7-3.4 1.8 3.1 1.4-1.1 0.6-1.1 0.3-1.2 6.3 0.4 0.7 3.8 0.4-3.3 3 3.3 2.2-3.7 2.5 1.5 0.1-0.4 0.3 0.6 0.3-0.8 1.1-1.4 0 3.1 0.3-3 0.5 2 0.8 2.5 0.5-0.3 0.5-2.3 0.5-1.8 0.2 3 0.1 0.1 1.4 0.7 0-3.6 1.8 3.7 0.2 1 0.1-3.1 0.3-2.1 0-0.1 0.2 0.6 0-0.3 0 1.3 1.2-0.8 0.2 3 0.4-2.9 0.1 1 0.1 2.9 0-2.6 1.1 1.2 0 0.6 2.3-3.5 0.4 0.1 0.8-0.9 3.8 3.4 0.1-1.3 0.6 1.2 5.1-2.2 0.8 3.8 0.9-1.9 1.2 1.5 0.5-0.9 1.6-1.6 1.2 0.4 0.2 0.7 0.6-1.3 2 2.9 2.9 1.1 1.3-1.4 0.5 1.3 16.4-1.8 0.3-3.2 0.1-0.2 0.6 2 0.8 0.5 0.4 0.8 2.3-3.6 1.3 2 0.1 3 0.1-3.6 0.7 2.9 0.5-4.3 0.8 0.1 0.2 2.1 0.5 1.9 0.2-0.2 0.5-1 1.1-1.9 0.1 1 0.4 0 1.1-0.6 2.1 0.7 0.1 1.2 1.3-2.8 2 3 0.1-1.9 0.9 3.2 0.1-4.5 0.6 1.9 0.8 3.1 2.9-3.2 0.1 2.3 0.7-2.8 1 3 0.7-2.8 0.3-1.3 0.9 3.9 1.1-3 0.7 1.1 1.2 1 1-3.7 0 0.4 0.3 1.6 0.9 1.9 1.5-3.9 0 2.3 0.9 2.8 1.5-3.1 1.6-2 2.4 3.3 7.3 0.6 3.3-0.2 3.5 0.4 1.8-1.1 0 2.6 0.9-5.6 2.8 1.8 6.5 2 5.5-0.9 2.7 1.3 -179.6 2.6 3.1 3.2 4.6 1.6 14.6-4.1 2.6 1.1 12.1 1.7 4.6-0.6 0.8 0.1 3.2 1.8 1.8-2.5 0.8 0.4 0.1-0.8 0.6 0.5 0.2-1.8 1.9 0.9 0.3 2.3 1.1-4.4 0.6 3.5 0.4-2.5 0.3 0.4 0.1 0.4 0.5 0.3 0.4 1.6 1.2 0.8 0.2-1.6 0.1 1.5 0.6-4.1 0.8 1.7 1 0.7 0.2 1 0.2-1.5 0.7-1.2 0.3 4.6 0.5-1.8 0.1-3.2 1.2 2.8 0.3-0.6 0.4-2.9 0 1.8 0.7-1.1 0.2-0.4 1.5 3.7 0.5-1.6 0.1 2.2 2.2-2.3 4.3 0.9 0.7-3 0.1 2.6 1.3 1.9 1.1-2.3 0.6 0.7 1.4-0.8 0 2.6 0.2 0.1 0.5 0.7 1.5-3.2 0.3-1.7 0.2 2.4 0.4-2.6 1.3 2.7 0.3-0.4 1 0.6 1.4 0.8 2.6 0.2 1.2-2.6 1.1 2.9 15.5-3.3 0.1 1.5 0.6 0 0.9 0.7 0.7 1.1 2-0.5 1-0.5 0.2-0.8 0.7-0.6 0.8 2.7 2-2.4 1.1 0.8 1-1.7 1.6-0.6 0.1-0.7 0.1 1.1 0.3 1.1 0.8 1.8 0.3-4.1 0.6 4.2 0.6-0.5 0.3-0.1 0.4-3.1 0.7 0.7 0.6 0 2.5 2.9 0.6 0.6 0.7-5 0.3 3.1 0.2-1.9 0.2 0.4 0.5 2.5 0.2-1.6 1.5 2 0.3-3.7 0.5 0.8 0.4 1.7 1.4 1.4 0.3-3.4 1-1.3 1.3 0.9 0.3 4.5 0.4-0.3 6-0.7 0.6-3.2 1.6 4.1 1.4-5.2 1.2 1.4 0-0.9 1.9 0 1.4 3 0.6-2.3 4.5 2 1.8 1.1 16.5-2 -163.7 3.2 5.9 2.5 10.5 2.6 9.9-1.2 0-0.6 3.9-1.9 2.3 1.8 0-3.1 0.6 4.4 3.4 1.5 1.5-1.2 0.4-1.2 0.2 0.3 2.1-2.6 0.4 3 0.1-3.9 1.4 4.8 0.7-3.1 1.5-0.5 0.6 0.5 0.9 1 1.1-1.4 0.1-1.4 1.9-0.2 0.1 4.1 2.9 1.2 0.7-4.7 0.1 3.6 0.2-0.4 0-0.2 0.1-1.9 0.7 2.6 0.2-2.2 0.8 3.4 0.5-3.3 0.5 3.1 0.2-0.2 0.7-2.8 0 3.2 0.6-2.8 0.8-0.7 0.6 3.5 1.4-1.8 1 0.1 0.5 0.1 0.1-2.4 0 2.4 0.8-2.7 0.7-0.5 0.2 2.1 0.8 1 0.5-3.1 0.5 4.5 0.3-0.6 0.3-0.7 0.2-1.1 0.3 2.9 0-3.1 0.6 0.9 0.6-2 0.7-0.8 2.6-0.5 0.1 4.1 2.4 0.1 6.5-1.6 0.6 1.6 13.4-3.7 1.4 5.1 0.1-1.8 0.5-3.6 0.1 5.1 1.6-1.4 0.3-3.4 0.9 4.9 0.9-4.5 0.1 4.8 0.7-5.1 0.1-0.1 0.1 1.5 3 3.3 0.3-1.5 0.2 0 0.2-1.1 0.8 2.7 0.4-5.2 0.3 4.6 0.2-0.1 2.1-1.8 0.1-0.3 0.9 1 0.4 0.9 0-2 0.4 2.2 0-4.5 0.8 3.3 0.4-1.3 0 1.4 1.6-3.7 1 2.4 0.3-1.6 0.6 1.9 0.9 2.8 0.1-1.4 0.1-1.8 0.2 0 0.7 3.4 0.6-5.6 0.2 2.5 0-2.5 0.9 3.6 0.6-0.8 1.1-0.7 0.4-2.2 0.1 5.7 0.5-2.8 0.2 0.4 0.3 1 0.3 1.4 0-4.1 0.6 1.1 1 0.4 0-2.6 1.1 1.5 0.5-0.1 3.9-1.8 1 4.2 0.9-0.1 5.4-3.7 0.4 0.7 2.1 0.8 0.1 3 2-3.6 0.5 3.5 2.5-3.2 1.8 2.9 5-3.4 5.8 4.5 1.9-4.6 0.6-1 3.6 4.4 14.8-0.7 2.9-1.9 -189.2 6 2.8 3.8 0.8-0.1 0.7-2.9 6.1 1.3 7.7-0.9 3.3-1.8 5.7 3 1.8-3.6 7.6 1.6 2.6 0.6 0.2-1.3 2.6 2.1 0.3-0.8 3.4-0.3 2.5 2.3 0.7 0.2 0.2-2.3 0.9-0.8 0-0.9 0.2 4.3 1-2.9 5.5-2.1 0.4 0.7 0.3 3.5 0.2-2.3 0.5 2.2 0.1-2.5 2.2-0.4 0.1-1.2 0.6 0.5 0.6 0.9 0.4-1 1.4 1.4 0 1.3 0.4 0.9 1.6-4.1 0.1 1 0.5 0.3 0.4 3.3 0.4-0.4 2.1-1.1 0.3-3.1 0.7 0.3 1.5 1.9 0.2-2.5 0.1 3.6 0 1.4 0.1-1.2 0.2-3.9 1.2 3.5 1.4-1.8 0.1 2.6 0.5-0.8 0.1-2.2 0.1 0.9 0 1.4 1-1.9 0.9 1.4 1.5-1.2 0.5 3.6 1.2 0.1 3.5-3.7 0.3 0.3 1.6 0.9 1.5 0.9 1.5 1.2 14.4-2.5 0 2.8 0.4-0.9 0-1.6 0-0.2 0.3-0.6 0.6 0.2 0.1 0.3 0.4 2.9 0.5-0.4 0.1-1.8 0.5 2 0.5-0.4 0-1.4 1.5 1.2 0.6 0.1 0-4.6 0.3 1.2 0 0.8 1.6-0.9 0.1-1.2 0.5 1.6 0.7 2.8 2.9-3.9 0 0.7 0.1 3.8 0.4-1.3 0.4-0.6 0.2-0.6 0.1-0.1 0.2-1.5 2.7 3.5 1.2-1.7 0.6-1.3 1.1 2.7 0.1-0.5 0.8 0.8 0.3 1.2 2.9-4.4 0.9 2.3 0.2-2.7 2.7 2.7 0.6-0.5 0.9 0.2 0 0.9 1.1-2.2 0.7 3.1 0.1-0.6 0 0.8 0.3-5.3 1.8 4 0.3-3.9 0.7 0.8 0.6 4 0.2-4.4 0.3 3.5 5.9-0.3 1.8 0 0.8-2.8 5.7 3 3.4-3.4 5.2 2.2 1.1 2.6 0.5-1.6 1.3 1 2.1-2.3 6.3-2.3 0.6 0.2 0.4 3.6 5.1 0 -159.9 4.8 3.3-1.3 6.5-0.9 3.7 4.9 2.5-0.7 4.9 0.9 2.1-1.4 0.4-0.8 1.8-2.9 2.3 3.5 1.3 0.2 1.5-2.3 0.6 0.9 1.9 1 1-3.4 1 0.9 1.3-0.7 0.4 4.6 0.6-2.4 0.3-0.8 0.4 1.9 0.1-0.2 0.2 0.5 0.2-3.5 1.1 0.7 0.6-0.2 0.1-0.6 0.5 1.3 0 1.7 0.5-3.4 0.1 2.1 1-1.7 1 3.9 0.8-2.1 0.7 2.9 0.4-1.5 0.3 1 0.4 0.8 0.3-4.5 0.4 0.2 0.1 2.9 0.3-3.4 1.1-0.5 3.2 3.6 0.7 1.4 0.2-5 0 0.1 2 3.1 0.8 2 0.2-0.3 1.1-3.2 0.3 2.5 1.6-4.4 0.5 5.4 0.5-3 1.2 0.1 1.2-1.3 0.3-1.1 1 4.6 1.4-1.5 1.2-2 4.3 0.7 0.8-0.4 0.6-1.2 13.8 3.2 0.2 2.2 0-5.3 1.5 4.1 0.3-3.1 2.9 1.6 1.2-3 0.4 4.8 0.7-1.3 0.2-2.2 0 1.2 0.8 3 1-4 0.3 0.6 0.2-0.8 0.1-1.2 0.3 4.5 2.2-3.8 0.7 1.2 0.7-1.7 0.1 0.7 0.1 1.1 0.2 2 0.5-2.2 1.4 3.4 0.2 0.3 0-2.2 0.7-3.1 0.5 1.2 1.1 0.4 0.4 2.7 0.7-4.6 0.3 4.9 0.9-0.2 0.8-4.2 2.1-0.4 0 5.4 2.4-2 0.6-1.4 0.4 3.4 0-1.8 0.5-1 0.8 1.4 0.3-1.8 0.1 0.4 1.9-0.6 2.2 3.6 0-1.1 0-1.1 0.5-2.1 6.3 1.3 3.6-0.9 2.5-0.3 2.1 1.5 0.6 1.5 6.5 1 8-4.4 1-0.4 2.6 1.9 0.9 0 0.9-1.5 0.1 4.2 4.2-0.7 1.7 0.8 -166.7 5.9 10.6-2.6 3.8-2.9 1.5 4.6 9.7-3.3 0.1 4 7.6-3.4 2.7-0.7 1.1-0.7 2 2.1 0.2 0.3 0.6-1.5 1.5 2.5 0.6 1 0.1-1 0.3 0.8 2.4 0 0.2-0.4 1 1.4 0.3-3.4 0.1 1.7 0.7-2.7 0-0.4 0.8 2.1 0.1 0.2 1.4 0.5 0.4-0.9 1.3-1.4 0.1 4.3 0-2.1 0.1-0.3 0.8-2.1 0.8 1.9 0.3 1.4 0-0.5 0.1-0.7 0.1-1.7 0.5 1.6 1.1-1.5 1.1-0.5 0.2 2.1 0.8 2.1 0.2-3.9 0.1-0.7 0.6 1.4 0.3-0.5 0.1 2.8 0.1 0.1 0.8 1.2 0-0.7 0-4.2 0.6 3.6 1.9-1.5 5.4-2.4 2.5-0.1 2.1 0.1 1.9 4.6 3.7-0.6 16.9-3.1 0.1 2.9 0.3-1.5 0.6 0.5 0.5-0.1 0.2 1.7 0.5-1 0.5-3.6 2.9 4.1 0.4-2.6 0.4 0.2 0.5 2.1 0.7-1.6 0.4-2.1 0.3 0.6 0.1 0 0.1 3.3 1.1 0.3 3.7-0.3 0.5 0.6 0 0.6 0.1-3.3 0.7-0.2 0-1.8 2.8 3.2 0.1 0.9 0.2 1.4 0.4-3.1 1.1-2.7 0.3-0.1 0 5.2 0.7-4.4 0.2 1.5 0 0.1 0.3 1.7 0.8-3 1.6 4.1 0.1-3 0.7 1.7 0.2 1.8 0.1-4.8 0.5 4 0.7-4.1 2.1 1.5 0 0.7 0.9 1.5 1.9 0.6 3.1-1.5 0.7-0.9 3.6-2.3 2.7 5.5 0.2-2.6 1.3-2.9 4.4 1 9.3 3.8 5.9-1.4 17.2 0 1.3 0.4 1-2.8 -161.6 5.8 5.5 0.3 1.7 3.4 8.1-0.5 0.1-1.9 0.6 1.4 1 2 2.8-2.3 2.1-1.4 0.6 1.5 0.2-0.9 1.8 2.9 0.4-1.9 0.2-3.5 0.2 4.7 0.1-0.1 0.3-3 0.3 2.1 0.2-1.3 0.3-1.8 0 3.5 0.7-3.6 0.7 0.8 0.2-0.2 2.1-0.4 0.4-0.4 0.6 4.8 0.7-1.4 0.7 1.3 0.7-0.6 1.4 1.1 0.2-3.4 0.8 0.2 0.1 0.7 0.8 2.5 1.1-1.7 0.2-3 0.4 3.1 0.3 0.5 0.4-4.1 2.7 2 0.1 1.3 0.2-2 0-0.3 0.6 1.3 0.7 1.8 0.2-0.6 0 0.1 0.3-2.4 0.7 1.6 1.3-1.5 0.4 1.6 1.1-0.7 0.1 0.1 0.4-0.6 0.3-0.7 0.1 0.4 0.7 3.5 1-0.6 0.3-4.2 0.1 0.8 0.1-1.4 0.6 1.7 0.2 3.5 1.2-2.6 0.9 1.8 0.9-1.4 1.9 1.4 1.3-2.3 0.7-1.6 0.3 2.5 0.6 0.1 1.4-0.2 1.6 2.1 2.2-1.1 0.6 0.7 0.1-2 13.1 1.5 1-3.7 0.3 2.6 2.4 1.7 0.6-3.5 0.2 3.2 0.9-3.3 0.3-0.7 0.7 1.7 0.2-0.8 0.2-1.3 0.1 4.2 0.3-3.2 0.2-0.8 0.2 0.7 0-0.1 0.1 2.5 1.4 0.7 0.1-3 0.9 3.3 0.5-4.3 0.4 0.8 0.1 3.4 0.8-1.3 0.1-1.2 1 1.1 1.2-1.2 0.6 1.5 0-0.4 0.4 2.5 0.5-4.1 1.1 4.4 0.4-3.4 0-2.1 0.4 3.3 0.2 1.7 0.3-1.3 0.8-0.9 0.1-2.1 0.6 1.8 0.7 0.1 0.1 0.6 2 0.3 0.4-2.7 0.4 3.4 0-3.2 0 2.2 0.3 1.1 0 1.5 1.1-1.2 0.1-2.1 0.6 2.4 0.1-0.7 1.4-1.7 0.4-1.3 0.1 0.7 1.2 2 1.2 0.8 0.7 0.2 0.4-1.8 0.2-0.1 0.9 2 0.7-2.8 2.3 2.9 0.2-4.5 0.3 4.3 0.3-0.8 3.1-1.5 1.2-2.4 4.5 3.4 10.3 0.2 0.1 1.6 9.7-4.1 19.6 2.5 2.9-1.2 -165.9 6.1 16.9 1.6 1-2.7 2.5 1.4 1.8-0.7 0.2-0.2 0.4-1.7 2 5.3 0.7-2.5 0.9-2 0 2 0.2-0.5 0.4 1.3 1.8 1.6 2.2-4.4 0.1 2.9 1.7-2.7 0.5 0.2 0.2 0 0.3-1.1 0.4 3.1 1.5 0.8 0.7-1.2 0.5-2 1.1 0.9 0.3-0.9 1 3.4 0.7-2.4 0.5 3.4 0.5-0.8 0.5 1 1.9-4.6 0.3-0.6 0.3 3.5 0.2 0 0.6-0.7 0.3-2.7 0.5 1.7 0.3-1.2 0.1 4.7 0.7-3.7 0.9-0.1 0 1 0.5-0.3 0.6-1.3 0.7-0.3 0.9 2.5 0.8 1.8 0.2-2.6 0.5-1.6 1.7 3.5 0-3.1 0.2-0.5 6.7 0.6 2.4-1.1 1.8 4.1 0.4-3.5 0.7 0.6 0.3-1.2 13.3 3.2 0.6-1.7 0 0.9 1.5-1.9 0 2.1 0.3-1.8 0.4 2.7 0-3.3 0.2 0.4 0.8-1.3 0.1 4.8 0.6-1.2 0.4-1.8 1.4 2.6 0.6-0.1 0.2-0.2 0.9-0.1 0.3-2.8 0 1.3 0.6-1 0.4-1.2 1.1 5.1 0.9-4.4 0.2 2.8 0.3 2 0.3-4.6 2.3 0 0.4 3 0.3-1 0.6 0.8 1.7 0.6 0.3-4.4 0.6 3.5 0.1 1.2 4.2-2.9 0.1 1.4 1-2.2 0.4 1.9 2.5 2 0.1-4.1 0.5 4.9 0.6-3.8 0.2 1.7 2.8-0.7 0.8-0.3 0 2.4 0.4-1.4 0.3-2.8 0.1 4.4 0-1.8 1.1 1 0.1 1 0.8-5.1 0.9 1.1 0.5 2.9 0.5-4.2 0.6 5.3 0.6-3 2.1-2.7 3.3 0.7 4.7-0.5 0.4 5 0.2 0.4 1.9-4.5 11.4 0.8 4.3-1.8 5.5 0.4 -169.5 6.2 1.8 0.8 17.6 1.4 7.9 0.1 6.8-1.7 0.1 4.6 2.1 0.1 0.3-5.7 0.9-0.3 2 2.8 1.4 0.2 1.4-0.5 0.5-1.5 0.7 3.9 0.6-0.3 0.3-2.9 2.2 0.6 0.8 1.9 0.3-0.4 0.6 0.5 0.7-3.4 1 2.4 0.3-0.6 0.3-1.1 3.3 0.9 0 2.8 0.5-1.3 1-1.4 0 2.4 0.2-3.8 0.8 3.5 0-0.9 0.9-0.4 0.4-1.1 0.5 1 0.4-1.2 0.1 2.1 2 0 0-0.9 0.3 2.1 1.8-0.7 0.9 0.8 0.5-2.7 0.4-0.1 1.4-1.9 1.2 1.6 0.3 0.1 0.5-1.9 0.4 0.7 0.5 1.7 3.1-2.3 0 1.6 0.2-1.3 0.9 2.4 0.2-2.3 0.3 1.5 0.1-1 1.3 0.5 0.4-0.5 1.9 4.3 0.2-4.1 0.1 2.9 1.6-0.3 0.6-2.2 2.7 1.8 0.1 1.9 15.5-5.6 0.2 1.3 1.1 1 0.5 3 0.8-0.1 1-3.8 0.7-1 0.1 2.4 2.6-0.6 0.1 0.3 0.2 0.4 2.2-2.6 3.8-0.3 1 1.2 1.2 3.6 0.8-4.3 0.7 0.2 2.3-0.6 0.4 2.1 1.6-0.5 0.4 0.8 0 1 1.5-1.2 0.9-1 0.8 3.6 0.9-2 0.9-0.2 0.2-1.9 1.9-0.1 0.2 0.8 0.5 1.9 0.5-0.9 0-0.7 0.9-1.5 0.1 1.9 0-0.1 0.6-1.7 9.7 1.9 3.1-0.6 1.8 0.3 2.5 0 3.4 2.3 2.7-3.7 16.1 2.5 1.2 0.1 5.3 0.8 -176.6 4.8 4.6-1.4 11.1 4.2 10.4-0.9 1.8-2.8 3.3-2 0.7 0.5 4.2 4.3 0.1 0.8 1.7-4.4 1.3 0.4 0.4-0.5 2.8 2.4 0.1-2.6 0.3 3.4 0.4-0.4 1.4-0.9 0.2 2.7 1.1-3.7 0.1 1.3 0.7-0.5 0.8 2.5 0.1-4.8 0.2 4.2 0-2.1 0.3-2.2 0.7 4.1 2.5-0.5 0.4-4 0.4 1.3 2.3 3.6 0.3-4.3 0.4 3.7 0.3-2.5 1.3 1.4 0.3-2.3 0.5-0.7 0.3-0.3 0.3 3.7 0.2-3.1 1.3 4.8 0.4-1.7 0.3-0.1 0.2 0.4 1.2-3.7 0.4 2.7 1.5 0.7 2.1-1.1 0.4-1.7 0.4 0.4 0.4-1.2 0.6 0.3 0.1 2 0.1 1.3 0.3-3.2 1.1 2.7 1.2-1.8 0.3-1.2 1.6 0.6 1.9 1.7 0.4 1.8 0.9-1.2 0.3-0.8 0.7-2.3 0.8 5.6 0.7-0.4 1.7-3.2 0.8 1.9 4.9-1.5 0.2 0.8 12.6 1.5 0.4 0 0.3 0.7 0.4-4.5 0.3-0.8 0.4 1.7 0.5 0.7 0.3-0.5 0.2-1.8 0.2 5.6 0.8-5.1 0.6 2 0.1-1.9 0.6-0.5 1.2 4.8 0.1-0.7 0.9 0.4 0.2-2.8 0.1 0.9 0.5 0.5 0.3 0.7 0.5-2.3 0 2.2 0.2-1.6 1.1-2.5 0 4.4 0.4-3.1 0.1 0.9 0.3 3.1 1.1-4.6 0.2 3.5 0.8-3.3 0.5 0.7 1.2 0.4 0.3 1.2 0.3-0.5 0.3 3.2 0.4-2.5 0.1 2.5 0.9-3.5 0.2 0.8 2-1.3 0.2 2.8 0.5-4.2 0.2 0.8 0.8-1.2 0.1 4.6 0.3 0.8 0-1.6 2-1.7 1.3-1.6 0.2 4.5 0.5-0.6 0.2 0.6 0.8-2 0.8 0.1 1.7-0.7 0-1.7 0.7 3 0.1 0.7 0.5-1.7 0.2-0.8 1 2.8 0.3-3.5 0.1 0.3 0.6 0 0.6 3.5 0-3.5 2.3 2.4 0.7-2 1.3 3.7 2.4-4.6 7 0.2 4.8 3.8 2.1 0.2 16.9-2.9 6.8 2.1 7.5-1.2 -181.7 7.2 1.2-2.2 10.9 1.8 5.1-1.8 0.7 1.4 6.4 1.2 1.3-2.7 1.7 2.2 2.1-1.4 0.6-2.1 5.8-0.4 3.3 5.3 1.5-0.7 1.2-3.5 1.2 3.9 0.9-3.5 0 3.8 1-3.4 0.6-0.6 0.1-0.7 0-0.6 0.7 5 0-1.2 2.3-3.2 0.4 3.4 1.4-1.4 0.7-0.3 0.5-1.1 0.7 1.3 0.1 0.6 0.4 2.3 0.5-1.5 0.7-3.1 0.1 2.9 0.8-4.2 0.2 1.9 0.6 2.3 0.4 0 0.1 1 0.3 0.5 1.1-0.2 0.3-0.1 0.7-0.4 0.7 0.5 0.2 0.4 0.3-2.4 0.1-1.2 1.9 3.7 0-3.5 0.1 1.4 0.4 1.7 1.5-4.7 0.3 0.2 0.3 3.7 0.1-0.9 2.4 2 0.4-4.8 1 0.8 0.8 3.6 1.2-2.7 0.1-0.9 0.1 3.8 0.2-2.3 0.7-0.5 0 1.4 0.6-1 1.2-2.4 0.5 4.2 0.9-3.2 1.1 1.3 0.1 0.8 0.1-0.4 0.6-1.4 0.2-1.1 0.7 2.6 0.3-2.3 0.6-0.5 0.2 2.2 1.4 2.5 0.9-0.7 0.8-1.8 1-2.2 0.7 4.7 1-5.6 1.9 3 11.7 1.6 1.5-0.1 1.4-1.9 0-1.3 0.5 2.3 0.7-1.4 0.3-0.5 0.6 4.2 1.7-5 1.2 2.1 0.6 0.9 0.6 1.1 1.4 0.1 0.7-2 0.6-0.8 0.4-1.7 0.1 2.5 1.5 0.9 0.1 1.5 0-3.9 0 0.5 0.4 1.3 0.6 1.7 0-4.5 0.7 3 0.7-3.6 0.1 2.8 0.9 2.4 0.5-2 1-2.7 0.8 2.1 0.1 2.8 2.4 0.2 0.4-3.1 0.2-1 0.5 0.7 0.5-2.2 1 5.3 0.8 0.4 0.3-4.2 1.7 0.5 0.5-0.2 0.2-0.5 0 1.9 0-3.2 0.5 4.9 0.7-4.4 1.5 1.9 1.3-0.3 0.2 0.5 0.2 3.1 0.1-5 0.8 4.9 2.7-5.1 0.3 0 2.1 2.5 13.9-2 34.7 4.4 0.3-2.6 0.6 0.5 0 0.9 -179.3 7.6 1.7-3.4 6.7 3 9.6-2.6 0.8-0.4 8.5 1.5 3.1-1.6 2.7-2.3 4 5 2.2 0.3 0.6-4 0.1 4.1 0.7-5 0.1 2.8 0.4 1.2 1.2-3.4 0.9 3.1 0.4-3.2 0.3 2.9 0.4 0.1 0.1-0.1 1.1-0.2 0.7-0.9 1.3 2.8 0-2.3 1.3-0.2 0.7 2.5 0.5-4.9 0.3 4.9 0.6-4.4 0.4 4.7 1-4.2 0.3 3.2 0 0.8 0.2-4.6 0.8 1.6 0.3-2.6 0.1 5.5 0.8-5.4 0.6 4.9 1 0.4 0.9-3.8 0 1.9 0.2 1.2 0.1 1 0.2-1.6 0.6-2.5 0.5-0.7 0.6 1.5 1.2 1.3 0.2-1.5 1.9 3.5 0 0.3 1.3-1 1.8-0.3 1.3 0.5 0.4-0.4 0.4-3.7 1.3 3.4 1.7-2.4 0.9 0.4 0.6 2.3 0.9-1.5 0.7-1.2 1 1.7 0.9-0.8 0.6 2.3 13.1-2.7 0.2 2 0.3-4.5 0.4 4.3 0.3-3.6 0.1 2.1 0.3 0.1 0.1-0.1 0.2 0.2 0.9 1 0.4-1.4 0.4 1.1 0.7-0.7 0.5-2.4 0.2 1.6 1 1 1.3 0.3 0.3 1.9 0.2-2.9 1.7-0.8 1.2 0.2 0.3 3.8 0-2.5 0.2 2.5 0.3-4.7 0.6 2.3 2.5-2 0 1.6 0.4-0.5 0.1-0.1 0.6 3 0.2-2.9 1.2 0.3 0.2 0.1 1.3-0.7 0.5-2 0.5 2.5 0.4-1.8 0.2 5.1 0.4-4.5 1 3.3 0.4-3.8 0.3 3.4 0.5 1.6 0.2-0.9 0.7-4.2 0.9-0.3 0.5 2.2 0.1-1.6 1.6 0.2 0.1 3.3 0.2 0.6 0.3-1 0.1-1.1 0.3 2.2 0.6 0.5 1.6-2.4 0.5-1.5 2.2 1.1 0.1 0.6 0-1.7 0.3-1.4 0.1 3.1 1.6-3.4 0.2 4 0.3-1.2 0.3 2.5 1.2-5.3 0.6 0.9 1.9 0.9 17.5-0.7 0.5 4.6 11.3-0.5 14.5-1.5 1 0.5 0.9-1.6 -180.8 3.3 9.4 3.5 13.8-2.1 11.8-1.2 1.3 4.8 2.9 0.6 0.1-5.6 1.6 3.9 0.7-0.4 1.5-1.2 0.9 1 0.1 2 0.8-0.8 0.1-1.4 1.6-1 0.1 0.8 1.3 1.7 0.1-3.7 1.7 3.3 0.3-3.3 0.1 1.1 0 1 0.6 0.1 0.5 1.9 1.2 0.4 0.5-2.3 0.6-2 0.1 1.1 0.3 0.8 0.4-0.6 0.1-2 0.3 3.4 0.3-2.9 0.2 2.9 0.4-3.9 0.1 2.7 0.6-1.8 0.1 4.1 0-0.7 0-2.9 0.3 2.9 0.4 1 1.2-1.9 0.9-2.9 0.7-0.4 0.1 0.8 0.6-0.2 0.8 1.8 0.2-0.3 0.9-1.7 0 1.9 0.1 1.7 0.7-3.4 1.6 1.4 0.3 2.6 2.5-3.1 0.2 1.7 0 0 0.4 2.2 1.1-4.2 0.2 1.1 0-0.9 0.2 2.3 1.1-0.1 1.9-1.8 0.1 3.6 0.7-2.5 0.6 0 0.1 0.4 1.6 0.7 2.1 0.6 2.3 0.6 0.1-4.6 0.4 0.9 3.1-0.8 1.4 3.4 10.6-0.1 0.1-0.9 1.9 2.3 0.7-2.9 0.5 1.6 0.4-2.4 0.3-0.2 0 2.3 0.6 0 1 1.3 1-0.1 0.4-1.9 0-2 0.3-0.6 0.9 1.6 0.5 3.3 0.3-3.4 0.2 3.5 0.5-1.6 0.9-2.8 0 1.6 0.3 2.4 0.1-3.4 0-1 0.8 2.3 1.3 2.4 0.3-2.4 0.1 1.5 0.3-1.2 0.2-0.1 0.2 0.3 1.1 0.4 0.7-0.8 0-0.1 0.5-1.6 0.9 3.9 0.2 0.2 1-1.6 0.8 1.3 0-4.4 0.2 4.8 0.4-3.4 0.6 0.2 0.1 0.8 0.1-2.2 1.1 1.7 0.5-2.7 1 4.8 0.3 0 1-2 0.1 0.8 0.7-2.7 1.3 4.7 0.3-4 0.2 0.5 0.2 0.3 0 0.2 0.4 3 0-3.3 0.8-0.7 0.3 4 1.2-2.3 0.1-0.6 0.4 0.2 0.7 1.4 0.9-3.4 0.2 4.5 0.6-2.9 0.3 0.1 0.7 1.9 0.2-2.6 0.1-0.2 1.1 2.6 0.3-1.4 1.3-1.5 1.6 3 0.5 0.6 1.9-1.6 2.5 0.6 1.5-1.2 1.6-0.6 1 0.8 5.7 2.8 6-0.2 13.4 0 5.6-5.1 -179.2 7.9 3.3-1 3.1-0.9 5-0.5 14.1 2.7 7-2.4 3.5 1.8 3.8 0.9 1.7-2.9 0.4 5.5 5-0.2 0.6-2.9 0.7-2.3 0.6 4.4 0.6-2.2 2.3 2.9 0.3-1.1 0-3.3 0.8 2 0.1-1.1 0.8-1.5 0.6 3.6 0.7-1.5 0.4-0.3 0.2-1.1 0.3 3.6 0.6 0.7 0.1-0.9 0.4-4.1 0.7-0.3 0.3 0.7 1.4 4.1 0.6-5 1 4.3 1.2-1 0.3-1.4 0.2 1.4 0.8-1 0.3-1.3 0.1 4.5 0.4-5 0.2 5.5 0.4-0.4 0.5-5 0.9 0.5 0.1 3.6 0.6-3.8 0.3 4.8 0.2-1 0.6-0.8 0.6-0.6 1.2 2.4 0.1-2.1 0.5 1.9 0.6-1.1 0.4-1.5 0.1 0.1 0.3-0.9 0.1-1.7 1.3 5.4 0.4-1.4 0.3-3.9 0.3 3.8 0.4-2.2 1.3 3.1 0.8-2.8 0 3.6 0.1-2.1 0.5-1.3 0.6 1.7 0.4-2.3 0.5 1.7 0.1 1.2 0.6-3.8 0 2.6 0.8-0.5 4.7-3 0.3 3.8 0 0 1.1-3.6 0 4.1 0.7-0.6 1 1.1 0.4-3.2 1.2-0.1 10.7 3.6 0.7-0.7 0.6-0.6 0 0.5 0-0.1 0 0.6 0.6-3.8 0.1-0.1 0.2 0.1 0.8 3.2 0.8 0.9 0-1 0.5-2.3 0 1.5 0.5 0.1 0.6 0.1 0.1-1.5 0.8 1.6 0-1.2 0.3-1.5 0.2-0.4 2 0.1 0-0.6 0.3 2.7 0 0.6 0.1-0.1 0.1-3.3 0.2 0 0.5 3.8 0.1-3.6 1.8 0.8 1.2 4.2 0.5-2.5 1 2.1 0.9-2.6 0.3-0.5 0.2 2.8 0.1 0.1 1-0.3 1-3.3 0.5 4.1 0.4 0.7 0.6-1.3 0.2-1.5 0.2-0.1 0.9 1 0.9 1.8 0.6 0.1 2.1-4.5 1.1-1.2 0.6 5.3 3.2-3.6 0.4-0.2 0 4.2 0.2-3.3 0.5-0.7 0.4 3 1.1-1.9 1.4 0 1.5 2.4 0.6-1.4 4.2 1.6 0.6-2.2 1.9-1.3 0 2.2 3.1-1.7 21.4 2.2 17.2-1.3 2.1 0 0.8-3 -187.1 9.1 15.2-2.4 1.2 0.9 15.6 3.2 0.2-3.1 0.5-0.7 1.8 1.9 3.3-2.9 0.3 5.1 1.4-4.4 2.5 3.2 0.2 0.3 3-4.4 1.2 5.4 3.4-0.4 0.6-1.6 0.5-0.1 1.1 2.3 0.9-5.1 0.3 4.2 0.4-3 0.2 2.2 0.3 1.1 0.4 0 0.1-3.8 2.5 2.6 0.6-0.1 0.1-3.2 0.1 1.7 0.9 0.4 0.1-2 0.1 0.4 0.1 1.1 0.4 1.4 1.4 1.7 0.5-0.9 0.8-2.9 0.5 1.9 0.7-3 0.5 0.6 0 4.3 1.9-0.7 0.1 0.6 0-2.7 1 0.9 0.7 2 0.1-3.6 0-1.9 0.4 1.3 0.9-1.2 0.5 3.3 0.2-2.9 0.1 1.9 0.1-2.1 0.4 5.2 0.4-5.4 0.6 5.4 0.1 0.2 0.6-3.3 0.3-0.5 0.1 1.9 0.5 2 0.1-1.5 0.4-0.2 0.2-3.5 0.1 1.4 0.6-0.6 0 1.7 0.2 1.6 0.9-1.3 1.5-1.6 2.4-0.8 1.8 2.6 0.4-1.3 0.6 3.6 0.4-5.3 0.5 4.7 2.6-1.4 0.1-3 2 2.7 0.8 2 1.6-1 13-1.8 0.3-2.1 0 0.4 0.1-0.9 0.2 5.2 0-4.5 0.1 1.8 0-1.1 0.2 3.9 1.2-2.1 1.6-1.3 0.2-0.1 2.2 1.8 0.5 1.3 0-4 0.5 0 0.3 3.8 0 0.1 0.2-3.8 0.2 0.6 0.3 2.7 1.3-1.6 0 2.1 0.7-4.1 0.1 3.6 0.6 0 1.2-3.3 0.1-0.6 0.1 5.2 0.2-1 0.1-4.5 1 1.8 0.6 3.6 0.3-2.4 0.6-2.6 0.1 5 1-2 0.1-2.9 0.2 3.5 0.8-2.4 0.1 1.7 1.3-2.5 0.1 1.7 1 0.9 0.2-0.1 0.2-1 0.3-2.7 0 0.9 0.1 0.7 2.8 3.5 0.1 0.6 1.4-1 0.2 0.2 1.1-2.6 1.3-1.3 1.4 4.5 0.3-4.3 0.1 4.3 0.8-2 2.3-2.2 0.8 1.9 0.8 0.8 0.4 1.4 0.1-2.7 1.1 2.5 8.1-4 3-0.8 13.9 3 19.2-0.7 0.7 1.6 0.9-2.6 -180.9 7.1 8-2.5 24 3.4 4 1.1 1.9 1.1 1.1-0.3 0.2-2.9 0.8 3 0.9-1.1 0.5-1.9 0.5 0.3 3.2-2 0.2 0.5 0.9 4.3 1.7-4.2 1.3-1.1 0.1 0.1 0.3 3 0.8 1.7 1.2 0.2 1.8-2.7 0.1 2.4 0.2-1.4 0.7 1.4 0.4-0.4 1.4-4.5 0.2-0.2 0.4 4.7 0.3-4 0.1 1.4 0.9-0.1 0.2-0.4 0.8 2.8 0.4-1.3 0.3 1 0.5 0 1.7 1.2 0.1-3.2 0.3-1.6 0.6 3.5 0.3-2.6 0.2 4.4 0.1-3.4 0.5 1.4 0.1 1.2 0.1-5.1 0.9 5.6 0.2-0.1 0.6-4 0 0.8 0.2 3 0.3-3.5 0.5 1.4 0.1-0.9 0.6 2.4 0.8 0.4 0.4-3.9 1.3 2.1 0.7 2.6 0.2-3.7 0 3.4 0.6-1.5 0-0.4 0.3 0.4 0.1 0.4 0.6 0.4 0.8-3.9 0.5 4.3 0.6-5 0 4.2 0.9-0.1 0.3-2.1 0.8-1.6 0.2 0.4 0.3 2 0.2-2.5 0.9 2.8 0.3 1.5 1.4 0.3 2.3-3.8 0.6 0.4 1-0.9 0.1 1.7 0.4-1.7 2.5 1.9 0.4-0.3 9.4-1.9 0.1 0.1 0.1 3.5 0.9-0.6 0.4-2.7 0.4 2.1 0.5-0.7 0.6 1 0 1.3 0.5-0.3 0.9 0.3 1.2 1.3 0.1-5.2 0.6 3.6 0.7-3.8 0.5 1.2 0.2-0.1 0.1-0.7 1 0.9 1.2-1.6 0.9 2.6 1.4 2.2 0.1-2.8 0.2 2.4 0.2-0.6 0.4-1.5 0.2-2.1 0.4 1.4 0.1 1.2 2.1-1.4 0.8 1.8 0.3 2 0.1-3.7 0 2.3 0.4 0.6 0 0.9 0.5 0.1 0.3-2.9 0.4-0.6 2.4-0.5 0.3 3.1 0.4-4.1 1.6 5.3 0-0.7 0.1-1.4 0.1 1.6 0.4-1.1 0.4-4 0.9 3 0.4 0.4 2.3-2.4 3.4-0.4 0.4 4.9 0.8-5.7 0.8 0.2 0 0.3 2 0.7 3.7-1.2 8.7 5.9 0.2-3.6 2.4-0.3 6.4 2.9 16.6-2.2 9-0.2 -168.6 6 3.6-2 18.5-0.5 3.3 4.3 2.9 0 1.1 0.8 1.2-5.1 0.2 4 0.9-3.5 1.1 3.2 4.1 0.6 1.6-1.6 0.3 2.7 4-5.2 0.7 1.4 0 0.2 0.8 3.9 0.4-2.3 2-2.2 1.2 1.1 0.3-1.1 0.1 4.3 0.2-4.7 0.4-0.6 0.3-0.2 2.4 2.2 0.1-0.3 0.9-0.8 0 2 0.1-2.4 0.8 0.9 0.3-0.3 0 3.7 2-1.9 0.5 2.5 0.6-2.6 0.1-2.5 0.1 0.1 0.5-0.2 0.6 1.6 0.3 2.8 0.1-4.6 0.1 3.8 0.3-2.8 0.6 0.9 0.6 1.6 0.6 2.1 0-2.8 0.9 2.6 0.3-1.4 0.5-1 0.1-1.1 0 1.8 0.3-2.9 1.2 2.8 1.4-1.3 1.8-0.7 2.5 3.7 0.6-0.5 0.4 0.8 3.2-1.2 0.9 0.2 0.1-1.9 0.9 0.7 10.4-2.3 0.4-0.6 0.1-0.3 0.7 2.4 0.1-1.1 0.1 0.1 0.8 2.1 0.1 1.3 0.8-1.1 1.1 1.7 0.1-3 0.3 0.9 0.7 0 1.2 2.2 0.5-2.4 0.4-0.3 0.4-2.1 0.8 2.6 0.2-2.3 0.1 0.9 0.4 2.6 0.5-3.5 0 2.4 0.5 2 1-1.8 0.4-0.2 0.3-2.4 0.5 1.7 0-0.3 0.5 1 0.7 0.9 2.3 1.1 0-4.3 0.8 2.2 0.1 0.3 0.3 1.3 0.7-4.5 1 4.4 0.5 0.3 0.3-2.9 0.1-0.3 0.1-2.4 0.6 5.2 0.1-3.9 1.1 3.9 0.3-2 0-0.8 0.1-1.4 0.1 0.1 0.4-0.8 0.1-0.3 0 0.3 0.3 5.2 0.4-1 0.2-3.4 0.5 0.1 0.5 0 2.8 3.4 0.4-4.1 0-0.1 1.2 4.6 0.6-2.1 0.1 0.1 0.5-0.7 0.7 1.9 0.2 1.5 1-0.9 0-3 0.6-1 2.8-0.1 0.7 4.1 0.4-4.4 0.6-0.2 0.2 1.1 1 2.5 0.2 0.6 2.1-0.4 3.1-2.4 1.2-1.5 1.3 5.2 3.3-3.1 5.3 1.9 4.2-3.9 6.2 0.1 23.6 4.9 -165 5.9 18.4-0.7 0.1-2.4 5.7 0.4 2.9-0.2 0.4-1.6 0.4 2.1 0.9-0.6 0.1 0.4 1.1-0.7 0.6 3.5 0.1-4.1 0.1 0.6 0.3-1.7 0.6 5.8 0.3-3.5 0.3-1.6 0.1 3.9 0.1-1.4 0.8 0.9 0.2 0.1 0.1-1.3 0 0.1 0.4-2.3 0.2 0 1.2 0.4 0.9 3.2 0.4-0.7 0.3-3.2 0.1 4 0.2 1 1-2.7 0.3-1.2 0.9-1.5 0.3 1.7 0.1 2.4 0.4 0.5 0.1 0.6 0.1-5.3 0.2 2.8 0.3 2.8 0.1-2.1 0.1 0.8 0.5 0.4 0.8-1.1 0.1-2.6 0.2 4.1 0.2-0.3 0.4 1 0.1-2.3 0.2-1.6 0.2-0.2 0.9 3.8 0-1.4 0.1 0.7 0.2-3.1 0 0.8 0.1 3.3 1-1.2 0.6-0.8 1.3-3.4 0.5 2.7 0.1 0.5 0.4 2 0.3 0 0.9-5.2 0.6 1.6 0.6-0.9 0.3 3 0.1-2.1 0.4 1.5 0.1 0.5 0.2 0.3 0-3.9 4.9 1.4 0.5 0.3 1.6 0.4 0.5 0.6 0.1-2.1 3.6 2.6 0.1-1.7 0.7 1.8 0.3-2 0 1.9 12.3 2.3 0.6-5.7 0.2 1.3 0 0.1 0.5-0.2 0.7 3.9 0.5-1.2 0-3.4 0.8 1.5 0.3 3.5 0.9-3.1 0.1-1.3 0.5-1.3 0.5 5.4 1.4-0.6 0.2-2.5 0.3 1.2 0.7-0.6 0.2 0 0.4-1.4 0.6-0.7 0.8 0.8 0 2.3 0.3 0 0.6-0.8 0.2 1.9 1-0.1 0.1 0.9 0.4-0.3 0.1-4 0.3 3.3 0.3-0.4 0.6-2.6 0.9 2.7 0.5-1.5 0.1 2 0-1.1 0.3 0.5 0.8-2.9 0.4-1.2 0.2 0.9 0.4 0 0.2 0.3 0.8-1.2 1 2.3 0.7 1.8 0.2-1.7 2.3-1.9 0.3 1.3 0.5-1.3 0.1 0.1 1.2 4.7 3.5-5 1.5-0.4 0.8 1 0.3 0.4 0.6-1.1 1 5.2 0.1-4.2 0.2-1 0.3 0.7 0.7-0.4 0.1 4.4 0.1-4.6 1.6 0.6 0.7 3.5 3-1 0 0.9 1.3 1 5.4-2.2 9.9 1.2 3.1-2.6 4.8 0.1 12.5 0.3 8.7 1.5 -179.4 7.1 18.1 0 1.1-4.7 5.7 1.8 0.8 0.6 2.3-1.5 5.2 1.8 4.9-0.7 4.5 3.6 0.3-2.6 0-0.4 0.5 2.7 0-2.3 0.3 2.2 2.5-2.3 0.8-2.3 0.3 2.2 0.2-3 1.9 3.6 0.2-1.6 0.5 2.6 0.5-3.2 0.9 3 0.3-3.3 0.4 1.6 0.6 1.1 0.5-2.7 0.2 3.1 0-2.5 0.1 2.4 0.9-3.8 0.9 3.2 0.6-3.4 2.6 3.4 0.4-0.9 1.1 1.3 0.6-3.1 0.8 2.2 0.5-1.3 1.5 0.4 0.4 2.9 1.1-2.8 0.4 0.8 0.1-2.6 0.2 5.3 0.3-0.1 0.1-1.9 0 2.1 0.6-3.7 0-0.4 0.4 1.5 0.8 1.8 1-2.9 0.1 0.1 0.1 1.3 0.4 0.7 2.1-3.1 0.4 0.6 0.9 1 0.5 2.4 0-0.3 0.5-2.4 0.8 3.2 0.6-0.1 0.2-1.3 0.9-1.8 0-2.5 0.5 1.7 0.5-1.5 0 2.6 0.3-1.4 1.1-0.6 1.5 2.9 2.4-3.4 10.9 1 0.1-1.2 0.4 2.7 0 1.3 0.5-3 0.3 2.8 0-2.1 0.3 1.3 0.6 1.2 0.1 1.5 0.5-2.3 0-0.6 0.1 1.1 1.8-1.8 0.6 1.4 0.1 0.1 0.9-2.7 0.1 3.4 0.3 0.5 2-3.4 0 3.2 0.2-1.2 0.5-2.1 0.4-1.4 0.4 0.9 1.4 3.5 0.2 0.3 1.2 0.2 0.6-1.5 0.2 2.1 0.2-3.8 0-0.2 0.3 0.1 1.1-1.5 0.1 5.5 0.6-1.8 0.2 1.1 1-0.5 0.4 0.5 0.8-4.5 0.9 3.3 0.5-0.2 0.3-1.9 0.3 2.6 0 0.8 0.2-4.7 0.2 2.1 0.7 1.4 0.2-2.3 0.4 0.9 0.1 2.2 0.8-2 0.1-1.1 0 3.9 0.3-1.4 0.3-2 0.7 2.8 0-3.8 1.4-0.4 0.6 3.2 1.4 1.6 0.3-3.7 0.2-1.1 1 4.4 0.9-1.3 0.9 2.1 0 0.1 2-0.4 4.9-0.1 1.8 0.5 3.6-4 0.1 0.4 3.7 1.9 4.5-0.6 2.3-1.4 4.3 1.5 3.7 0.9 13.7-1.9 -175.6 7 17.6-0.7 2.8 1.3 5.6-3.8 11.1 3.6 1.1-1.4 5.7 0 2.3 0.5 0.1 1.1 0.8-1.4 3.9 1.4 0.7-0.4 0.2-0.5 2.9-0.9 0.3 0.2 1.3 3.3 0.2-1 0.1 0.6 0.1-1 1.8-1.2 1.4 1.8 0.1-2.6 0.3 2.8 0.1-0.1 0.2-3.7 0.5 1.4 1.5-0.4 0.4-1.5 0.3 4.6 0.2-2.1 0.3 0.6 0.5-3.4 0.7 5.2 0.4-1.3 0.1-3.9 0.7 3.8 0.2-1 0.5 2.1 0.1-5.1 0.3 1.4 0.5 0.9 1.2 3 0.8-5.2 0.2 3 1.1-3.3 1.4 3.4 1.3-2.4 0.2 1.5 1.3 0.1 0.6-2 0 4.6 0.5-2.1 0.3-2.1 0.4 4.5 0.2-3.3 0.7 1.4 0.4 0.6 0.5 0.2 0.1-0.1 0.6 0.7 3.2-3.8 0.7-0.4 2.7 0.7 0.8 2.7 1.2-3.2 0.9-1.2 0.1 2.8 10.3 0.5 1.5-2.3 0 0.4 0.4 3.8 1.8-2.9 1.2 1.5 1.1-1 0.7-2.5 0.1 2.8 1.2-2.8 0.1 4.6 0.5-1.8 0 1.7 2.1-3.1 0.1 2.6 0.1-4.1 0.2 2.2 1.8-0.3 0.2 3 0.1-2.6 0.4 3.1 0.3-2.5 0.5 1.1 0.5-1.6 1.1-1.5 0.7 3.1 0-1.4 0.2 0.7 0.2-1.4 0.4 0.3 0.7-1.1 0.1-0.5 1.1 4.6 0.7-1.6 0.3-2.9 1.1-0.2 0.6 4.8 0.9-4.7 0.3 3.1 0.1-2.9 1.4 3 0.1 0.3 1.2-0.9 0.5-3.6 1 5.8 2.3-5.2 2.2 5 0-3.8 2.7-1.7 1.8 1 1.2 0.8 2.6-1.1 0.1 0.1 4.4 3 0.7-1.7 4 0.8 3.1 2.8 25.7-0.4 10.8-4 -176.3 6.2 7.8 0.1 9.9 3.4 3.6-2.1 11.9-2.6 2.1 3.7 1.2 1.5 0-3.1 0.8 0.3 0 0.5 0.5-1.6 0.5 1.8 0-2.9 0.4 2 1.1 1.6 0.6-0.9 0.5 2.3 0.2 0 0.7-2.2 0.1-0.2 0-3.1 0.3 5.5 0.5-0.3 0.1-2 0.2 2.5 1.3-3.6 0.3-0.2 0.3 3.8 1.1-3.6 0.8 2.2 0.1-2.7 0.3 0.6 0.1-0.8 0.1 1.7 0.5 0.2 0.3 0.5 0.2 0.1 0-1.3 0.7 1.4 0.1-0.8 0.4 1.3 0.3 1.3 0.1-5.4 0.3 4.6 1.2-1.3 1.2 1.5 0.3-0.9 0-4.2 0.2 4.4 1.9-1.6 0.2-1.1 0.7 0.9 0.5 2.2 0.4 0.8 1.4-1.6 0.3-2.8 0.1 3.4 0.3-2.1 0.8 0.3 0.2-3 0.1 1.4 0.3-1 1.5 4.6 0.7 0.9 1-3.9 0.1 3.5 0.7-2.5 0.3-2.1 1.1 1.5 0.5 1.9 0.4 0.3 0.3-1.4 0.2-2.7 0-0.2 0.2 4.9 0.5-2.6 1 3 0.1-2.2 3.3 2 0.5-1.1 1.2-0.3 2.7 1.8 9.8-0.8 0.7-0.6 0 0.7 0.2-3.3 0.1-1.3 0.4 3.5 0.3-1.3 0.2 3.3 0.3-3.8 0.5 1.7 1.3 1 0.3-1 0 0.3 0.7 0.1 0.2 1 4.2-3.9 1.3 2.2 0.2-1.9 0.5 2.1 0.5-1.7 0.6-0.1 0.3-0.9 1 3.6 0.6-1.9 0.3 1.1 0.4-3.1 0.9 3.1 0.1 0.2 0.3 0.6 0.1 0.4 0-2.4 0.6 3 0.3-4.8 0.3 0.4 0.8 2.7 0.2-0.3 0.3 0.1 0.4-0.8 0.4-1.3 0.7-1.1 1 3.3 0.5-2 0 4.1 1.2-1.5 0.5-3.9 1.5 3.9 0.2-2.8 1.6 2 0.5 0.3 0.7 1.7 0.1-3.6 0.3 1.7 0.6-2.7 0.3 3.2 2.1-0.8 0.7-1.5 0.8-0.3 0.1 1 0.5 2.4 0.3 0.4 0.4-2.8 0.1-2.2 1.7 2.9 0.3 0.1 0.4 0.3 0.9 2 0.8-0.5 4-3.1 7.3-2.1 6.9 4.9 26.4 0.9 1.3-4.1 -163.2 8.4 12.5-0.5 0.4-1.1 5.4-1.4 1.4 2.9 2.1-2.7 3.6 1 1.9 1.9 1.1 0 1-1.5 0.3-2.5 1.1 0.3 0 4.5 0.2 0.2 1.3-0.7 1.1-3.9 0.2 1.5 0.7 1.7 0.7 0 0.1-2.9 1.3 0.8 0.3 1.7 2.2-3.4 0 0.4 0.5 5.5 0.3-2.7 0.3-0.9 0.8-1.6 0.2 1.6 0.2 1.4 0.4-3.7 0.5 5 1.5-3.9 0.2 2.7 0.4 1.6 0.7-3.1 0.1 0.6 0.4 1.1 0.5-1.4 0.1 0.4 0.2 2 2-3.7 0.1 2.8 0.4-1 0.6-2.5 0.3 2.7 0.1-0.3 0.2 0.2 0.1 0.1 1.1-2.8 0.4 5.1 0-0.3 0.1-3.1 0.6 1.5 1-2.3 1.1 2.3 0.3-1.4 0.4 2 2.5-3.2 0.8 4.6 0.3-4 0.5-0.8 0.2 0.3 1 0 0.7-0.7 0.8 0.4 0.2 1.4 1.9 1.9 0.7-3.6 1.3 1.3 1.2-0.7 0.8 2.3 0.7-2.1 0.9 1 9 0.7 0.4-0.5 0.3-2.4 0.4 2.7 0.4 1 0.5-2.3 0.8 2.5 0.1-0.2 0.2-2.5 1.6 0.8 0.4 1.6 0.6-3.4 0.9-0.2 0.2 2.5 0.2 1 0.5-3.3 1.2 3.7 1-2 1.3 1.4 0 2.2 0.1-3.1 1.5-0.2 0.4-0.8 0.1 2.9 0.3-1.8 0 1.4 1.7-3.4 0.2 1.1 0.7-0.8 0.4 2.5 0.2 0.4 0 0.3 0.7-3 0.6-0.8 0.3 3 0.4-0.8 0.7 2.3 0.2 0.4 1 0.3 0.2-2.6 0.1-1.4 0.3 0.2 0.3-1.4 0.1 0.5 0 1.4 0.1-0.6 1.2 3.4 0.2-0.4 0.8-0.5 0.4 0.1 0.2 0.3 0.6-0.6 0.5-0.7 0.6-3.2 0.4-0.2 0.4 1.3 0.1 0.3 0.1 1.1 0.3 0.4 1.4 1.6 0.4-0.6 0.6 0.2 1.5-0.7 0 1.6 0.9-0.5 0.4-1 3.4 0.5 0.8-2.5 0.2 4.2 1.6-4.9 3.1 4 0.3-4.9 35.5 3.8 2.6 1.4 -180.3 2.6 11.7-1.8 1.2 5.2 1.9-3.1 13.9-2 6.1 1 6-1.2 2.2 2.7 4.4 1.1 0-0.6 1.3-2.2 2.8-0.9 0.9 2.5 1.3 1.1 1.4 1.5 0.6-2.2 0.7-1.7 0-0.8 0.3 0.8 2.4 4.7 0.4-3.7 1.3 0.3 0 1.9 1.6-1.9 1.1 0.7 0.6-1.3 0.5 3.2 1-1.2 0-1.9 1.9 2 0-2 0 0.1 0.1 3.1 0-1.7 0.5 2.2 0.6-3.5 0.6 2 0.1-3.9 0.1-0.3 0.6 3.7 0.7-2 0.2-1.6 0.3 5.8 0.4-4.2 0 2.4 1.8 1.5 0.3-4.1 0.1 3.8 0.2-3.5 1.2 4 1-0.1 0.1-0.5 0.7-1.2 0.2-3.7 0.3 4.8 0-4.7 0 5.3 0.8-1.8 0.6 0.5 0.1-1.7 0.4 0.4 1.1-2.1 0.1-0.4 0.3 5.2 0.1-1.9 1.5-3.4 0.6 1.7 0.8 1.5 0.3-1.4 2.7 0.5 1.5-2.1 0.1 4 3.1 0.6 9-5.3 0.4 3.3 0.1 2.5 0.3-3.5 0.4 2.7 0.1-2.1 0.1 2.5 0.3-4.1 0-1.3 0.2 2.6 0.3 1 0.5 0.8 0.9-0.8 0.1-0.1 0.1 0.8 0.8 0.9 1-4.5 0.6 1.2 0.6 2.5 0-0.5 1.6-3.3 0.1 0.8 0.2-1.2 0.3 0.7 0.8 3.6 0.1-4.1 0.4 1.7 0.2-0.7 0.1 0.6 0.4 1.1 1.9-0.4 0.5-0.5 0.1 2.1 3.3 0.8 0.5-3.4 0.6-0.7 0.8 4.7 0.6-0.6 0.5-1.5 0.5 2.1 1-4.5 0.4 3.4 0.1-2.7 0.4-1.8 0.6-0.2 0.3 2.1 0.5 1.9 0.1-4 0 1.1 0.2 0.7 0.7 3.4 3-5.1 0.1 0.5 0.2 2.9 0.3 1.8 1.1-4.9 0 4.6 0.4-4.3 0.7 4.2 1.4-3.2 3.1 2.2 0.3 1.8 1.2-5.4 5.8 3.3 6.3-1.7 4.1 3 9.5 0.6 6.4-2 17.6-0.1 1.7 2.3 -174.3 5.3 6.3 0.6 6.3-2.7 0.5 0.2 0.1 1.1 11.7-2.5 5.1 1.6 3.1 0.5 0.7 1.2 0.3-1.6 0.3-1.5 1.9 3.7 0.6-5 1.5 2.1 1.4 2.1 0.4-0.5 0-4.2 0.3 3.4 0.6 2.2 0.7-3.8 0.1-0.8 0.8 2.8 0.6-2.5 0.5-1.2 0.8 3.6 0.4 0.2 0.8-2 0.5 1.1 0.8-0.1 0.6-1.7 0.1 2.9 0.7-2.3 0.1 2.3 0.4-1.7 0.2-1.3 1.1 0.9 0.4 0.6 0.3-1.7 0.2-0.9 1 0.3 0.7 3 0.5 0.5 0.1 0.7 0.2 1.3 1.2-5.6 0.6 4.1 0-3.2 0.2 1.1 0.1-1.7 0.2 1.9 2 1 0.2 0.6 0 1.2 1-1.8 0.1 0.2 0.6-0.2 0.3 0.2 0 1.3 1-2.6 3.6 0.1 0.5 2.1 0.6-4.1 0.2 4.8 0.3-1 1-0.6 0.5-3.4 1 2 0.4 0.6 0.1-0.4 0 1 0.3 2.4 1.5-2.2 0.7-0.8 0.4-0.2 0.4 2.8 1.6-3.7 2.2 2.9 9.8-0.3 0.2-4.4 0.1 5.8 0.1-1.5 0.4-2 0 2 0.5 0.9 0.7-0.8 0.1 1.4 0-4 0.2 4 0.3-5.3 0.8 1.4 0.3 0.2 0.3 0.9 1.1 1.7 0.1-1.8 0.3-1.6 0.1 2.6 0.4-0.1 0.7-1.3 0.2 3.2 0.2-3 0.1 2.6 1.1-1.9 0.1-2.8 0.9 2.3 1.2 1.2 0.1-2.8 1.1 3.8 0.7-3.4 0.3 2 0.5 1.4 0.9-0.7 0.7-2 0.1 0.5 0.2-0.2 2.1-1.5 0.4 4.2 0.4-3.3 0.4 1 0.4-2 1.7 2.6 0.2 0.4 0.1-0.4 0.7-1.9 0.5-0.1 1 3 0.5-0.7 0.6 1.2 1-2.7 0.5-1.9 0.1 4.4 0.3-1.3 0.3 0.9 0.3-2 0-0.6 1.6 1.8 0.1-0.8 0.7-1.3 0.3-0.6 0 2.7 0.3-2.2 0.2 4.1 0.8-4.9 1.5 3.3 2.5-2.6 7.2 3 3.7-1.4 -142.6 4.5 9.4 3.4 5.7-4.5 16.8 3.6 4.2-2 8.1 2.7 0.4 0 3.2-1.1 2-0.8 0.3 2.8 0.6 0 2.6-1.7 0.4-2.8 0.2 2.5 0.8-3.1 1.3 3.4 0.6-3.8 0.8 4.9 0.1-2.2 0.8-1.5 0.9 1.2 0.1 2.5 0.1 0.3 0.9-4.4 1.6-0.6 0.7 0.7 0.5-0.8 0.6 2.4 2.8-0.8 0.4-1.1 0.8-0.7 0.1 2.3 0 0.6 0.7 0.6 0.3-1.8 0.5 3 0.3 0.5 0.4-1 1.5 0.1 0.7-3.4 0 2.2 0.4-2.4 0.3 1.1 0.6 0.4 0.1 1.3 0.1-2.5 0.2 1.3 0.4 2.2 0 0.4 2-1.4 1.3 0.9 0.5-2.5 0.4 3.7 0.4-0.2 0.2-0.3 1.1-0.7 0.4 0.5 0.6-3 1.3 3.6 0.4 0.3 1-2.7 0.4 0.7 1.3 1.7 1.1-2.3 0.1 0.5 0.3 1 0.1 0 0.1-4.2 0.3 1.2 0.2 1.5 8.3 1.4 0.9 0.4 0 0.5 0-4.2 0.6-1.4 0.1 1.6 1.3-0.1 0.9 0.7 0.1-0.5 0.3 3.6 0.2-3.6 0.5 3.3 0.6-2.8 0.7 3.5 1.4-2.9 0 2.4 1-4.4 0.1 1.7 0.5-2 0 4.7 1.3-2.9 1.4 0.7 0.1-2.1 0.3 4.7 0.5-1.4 0-3.9 1.1 3 0.2-2.4 0.4 1.7 0.8-0.1 0.2-0.8 0.6-1 0.1 1.3 0.2-0.1 0.4 0.3 0.2-0.3 0 3.5 0.1-1.4 0.9 1.1 0.3-3.1 1.2 2.3 0.1-0.5 0.5-2.7 0.6-0.8 0.9 3.1 0.2-0.7 0.1-2.3 0.6 1.7 0.3 1.7 0-2.2 0.5-1 1.7 3.9 0 0.3 0.2-3.3 0.6 0.2 0.1 2 0.1-3.4 0.2 4.8 0.4-4.1 0.1 0.6 0.3-1 0 3 1 0.2 0.7-1 2.3-2.6 1 1.9 0.2 2.7 0.5-4.2 3.9 4.7 0.6 0 4.6-4.3 1.9 2.1 2.9-1 -143.5 4 35.8 3.9 5.8-1.4 1.2-0.1 1.9 1.7 1.2-3.9 3.1 1.4 0.5-0.1 2.5 2.2 0.4 1.4 1.6-1 0.4-3.1 0.3 1.6 1.5 3.3 0.6-6 0.3 1.8 0.6-1.4 1.1 4.6 0.7 0.3 0.6-0.2 0-3.7 0.1 0.8 0.4 0.6 1.7-0.3 0.9-1 0.3 4.5 0.2-4.7 0.1 4.4 0-3.5 0.3 3.1 0.1-0.2 0.2-1.4 0.2 0.5 0.3-0.2 0.5-3.2 1.6 4.9 0.8-3.5 0.4 3 0.2-2.7 0.7-0.3 1.2 2.6 0.4-1.8 0.8 0.7 0.2 1.9 0.1-2.2 0.3-2.2 0.5 4.4 0.2 0.4 1.1-4.4 1.6 2.3 0.6 0.1 0.4-2.6 0.6 4.3 0.6-5.5 0.4 5.5 3.3 0 0.4-5.1 0.8 0.4 0.9-0.8 0.4 5.6 0-2.8 0.8 2.1 0.6-4.1 0.1 3.5 0.3 0.4 0.2-3.1 1.9 0 1 2.9 8.2-3.7 0.8 3.8 0.6 0.2 0.8-4.5 0.2-0.4 0.1 4.5 0.1 0.5 0-2.1 0.8-2.8 0.7-0.2 0.3 1.1 0.2 0.7 1.5-1.1 0.2 2.9 2-2.5 0.1 2.2 0.1-0.5 0.2-2 0.4 2.6 0.4-2.8 0.8 5.1 0.8-5.7 0.3 4.4 1.9 0.4 0.2-4.7 0.6 5.8 0-3.5 4.2 1.7 1-4.1 0.1 3.5 0.3-3.4 0 3 0.1 1.3 0.5 0.9 0.5-2.3 0.2-2.7 0.6 1.2 1.2 0.9 1 3.6 0.8-2.1 0.7 1 0-3 0.8 2.2 0.2 0.8 0.7-1.2 0.6 1.7 0.4-0.9 0.2-2.9 0.4 1.7 0.1-0.5 0.7-0.8 0.2-0.9 1.3 1 0.8-1.8 0.1 1.5 0.3-1.1 1 5.3 1.3-5.5 9.3-0.3 16.1 4.4 -147.4 3.3 16.1-1.9 10.1 5.4 11.8-4.1 0.4 3 0.9-1.3 1.9-2.3 1.7 0.7 0.3 0.9 0.4 2 0.8-1.9 0.3-2.1 0.5 1 1.2 3 0.1-0.4 0.5 0.1 0.7 1.2 0.8-4.7 0.1 1.2 0.2 2.7 0.3-0.5 0.8 0 1.1-3.6 1.8 1.7 0 1.3 0.4 1.5 0.1-0.3 0.3-4.1 0.2 5.4 0-4.4 0.8 4.4 0.3-1.2 0.2-3.2 0.2 2.1 0.1-1.6 0.2-1.1 0.1 3.8 0.3-4.2 0.3 2.7 0.4 2.1 0.1-5 0.5 3.2 0.6-0.2 1.3 0.3 1.7-3.2 0.2 0.8 0.4-0.1 0.3 0.8 0-0.5 0.7 0.1 0.3 0.2 0 3.6 0.8 0 0.1-0.2 0-1.7 0.1 2.5 0.2-0.1 0.3-3.3 2.2 0.4 0.2-1.8 0.3 4.1 0.5-4.1 2.9 2.4 1.2-2.2 1.4 4.3 0.1-1.4 0-3 0.6 4.5 1.5 0.1 0.4-4.2 0.3 0.9 0.1-0.8 1.6 1.8 1.2 1.9 0.1-5.2 0.7 2.5 0 3.1 7.5-4.1 0.6 1.9 0.9-0.8 0.4-2 0.1 3 1.2-1.8 0.2-0.1 0-0.6 0.5 2.2 0.7-0.1 0.2-2.7 0.5 4.1 0-0.5 0.5 1.7 0.5-3.8 0.1 1.4 0.4 1.8 1.9-0.3 0.1-4.9 0.4 2.8 2.1 1.6 0.1-1 0.1-2 0.8 3.8 0.4-1.1 0.7 1.3 0.1-0.7 0.3-2.7 2.4 0.9 0-2.2 0.2 2.7 0 0.7 0.7-3.2 0.1 1.1 2 0.2 0.6 2.8 0.1-3.7 0.7 3.1 0.6-4.2 0.9 3.5 1.5 1.5 0.3-3.8 0.1-0.4 0-0.5 0.4 2.7 2.4 1.2 0.4-1.8 0.1 2.8 1.1-4.4 0.5-0.3 0 1.2 1 0.9 2.1-1.5 0.9-0.9 1.9 0 1.5 5.2 1.8-2.3 0.1-1.9 0.2 2.2 0.7-1.4 0.8 1.2 0.2-0.1 1.9 2.6 2.3-2.9 13.3 0.3 1.1-1 4.6 2 2.9-2.4 -146 6.5 5.8 1.1 1.4-1.5 3.3 0.3 0.2-2.2 2.5 4.2 0.4-2.5 13.4-0.8 2.9 3.7 4.9 0.1 1.3-4 0.3 1.3 2.7-1.1 0.1-0.6 0.1 4.6 0.2-1.4 0.4 1.8 0.2-1.7 1.2-1.6 0.9 2.8 0.5-4.2 0 0.1 0.3 3.7 0.4-2.2 0.9-2.3 1.2 2.6 0.5 2.8 0.4-1.9 0.9 0.4 0.1-3.1 0.9 3.5 0.2 0.3 0.1-1.2 0.8 1.2 0.4-3.1 0.1 3.2 0.6 0 0.1-0.6 0.4 1.2 0.7-3.8 0.1 2.5 0.4-2.1 0.7-0.5 0.1 1.1 0.3-1.4 0.1 3.5 0.1 1.1 0.3-2.9 0.3-2.3 0.1-0.5 1.3 2.3 0.1-0.5 0.4-1.7 1.8 4.8 0.5-4.1 0.3 3.5 0.7 1 0.8-2.3 0.5 1.2 0.1-0.8 0.9 0.2 0.3-1.5 0.3 2.7 0.8-4.7 0.5 1.9 1.4 0.8 1.2 3.1 0.2-2.6 0.2 0.6 0-3.6 0 0.4 0.6 4.8 0.2-0.1 0.5-5.3 0.6 0.6 0.7 2.7 1.9-1.2 0.2-1.2 0.4 1.7 0.2 2 0.9-2.2 0.1 2.4 6.9-2.7 0.3 1.9 0.1-0.6 0.7-2.8 0.5 1.3 0.2 2.1 0.2-2.8 0.7 4.6 0.8-5.7 0.3 2.4 0.1-0.8 0.8 2.4 0.6-4.2 0.7 4 1 0.1 0.6-2.3 0.9 1.1 0.8 2.4 1.1 0.5 1.5-5.1 0.9 2.8 0.2 1.3 0.2 0.8 1.6-3.4 0.2 0.5 1.3-1.6 0.2 3.8 0.5-3.4 0.7 4 0.6-0.3 0.2-3 0.6 1.5 0.9-2 0.9 1.4 0.6-0.6 0.1 0.3 0.4 2.8 0.6-5.7 0.2 2.2 0.2 3.5 0.2-2.6 0.1 2.7 0.1-3.8 0.4-1.9 0.3 5.8 1.7-0.2 1-5.2 0.1-0.3 2.5 2.6 1.6 3.2 0.4-3 0.1-1.7 0.1 0 0.2 4.7 1.2-1.4 0.2 1.1 1.5 0.2 0.1-1.5 1.8-1.7 0.7-0.5 7.5 3.3 2.3-2.2 7.6-2.3 2 1.5 13.2 2.1 10.3-2.2 2.5 2 0.9 1 -168.1 3.7 1.2-1.4 1.9 1.3 14.3-2.9 1.4 1 4.6 2.1 1.6-2.7 4.7 4.3 4.8-3.4 0-0.7 2 2.3 1.5-2.4 1.2 0.8 0.3 3 0.5-3.5 0.3 0 2.3-0.5 0.3 1.8 0.2-0.9 0.7 4.2 0-0.4 0.2-1.3 0.2-2.4 0.4 1.2 0.4 0.2 0.2 1.9 1.1-1.2 0.1-0.3 0.5 2.2 0.5-4.3 1 1.9 0.7-0.1 4.4-1.9 1.5 0.5 0.3 2.2 0-0.8 0 2.3 0.4 0.1 2.3-4.1 0.3 2.5 1.8-1.6 4 1.9 0-1.4 0.1 0.4 0.2 0.4 0.9-2.4 3.1 1.7 0.2 0.9 2.5-2.2 0.6 4.5 0.8-2.7 1.2-2.4 0.9 3.7 1.2-0.4 0.2 1.1 0.4-4 0.8 3.8 8-1 0.5-2.1 0.5 1.1 0.4 1.6 0.7 0.1 0.4 1.1 0.2-5.4 0.3 1.4 0.3 2.2 1-2.1 0.4 1 0-2.1 0 0.3 0.3 4.5 0-4.6 0.3 1.9 0.6-1.7 0.4 0.1 2.3 3.5 0-4.5 0 3 0.5 1.8 0.2-1.5 0.2-2.9 0.4 5.2 0.4-2.7 1.8-3.1 0.8 2.2 0.6-0.9 0.1-1.3 0.1 3.5 0 0.1 0.5-0.4 0.2 1.1 0.1 1 0.4-0.3 1.3-1.6 1-0.9 0.4-2.2 0.2 4.2 0.5-2.8 0.4 4.1 0.6-4.5 0.1 0.7 0.2 2 1-0.3 0.6 0.7 1.2-2.9 0.1 1.7 2-0.7 0.7-1.8 0.4 3.8 1-3.8 0.9 0.2 0.3-0.5 0.1 1.5 1.2 2.1 1-1.7 0.4-2.2 0.5 1.9 0.8 2.3 0.6-2.7 0.1 0.4 1 3.3 1.9 0.2 0-1.4 0.6-0.8 1.4 0.9 2.5-1.7 1.3-2.6 1.2 1.1 2.8 2.6 2.2-2.9 18.3 0.4 3.6-0.3 14.8 1 -175 7.3 4.8-2.3 31.3 1.9 0.1 1.8 0.1-2.5 5 2.9 0.2-1.9 0.2 2.9 3-5.2 0.1 4.5 0 0.6 1.2-1.6 0.6 0.9 0.5-1.1 0.2 1.5 0.5-0.7 0.1-0.2 0.4-3.2 1 2.8 0.3-4.3 0.1 5.9 2.4-0.4 0.4 0.4 0.5-1.8 1.5-1.6 0-0.8 0.3 0.7 0.3-1.1 1-0.4 0.3 0.6 0.3 2.3 0.5 0.3 0.3-4.1 1.1 1.2 0.1 0.7 0.8-0.7 0.2 2.5 1.5-0.2 1.7-2.7 0.2 5.1 0-5.4 0.7 5.4 0-1.8 1.3-2.6 0.5-1.1 0.2 5.4 0.9-4.9 0.1 0.5 0.2 3.1 0.5 0.9 0.9-5.2 0.1 5.6 0.1-2.7 0.4-0.6 0.5 1.8 0.7-2.7 0.3-0.1 0-0.8 1.2 4.8 0.5-4.5 0.3 2.2 0.1-0.2 1.5 1.9 0.2-2 0.2 0.6 0.6-2.8 1.3 1.5 1.8-1.2 0.6 1.6 2.2 0.3 0.4 1.3 1-3.9 6.9 1.1 0.3-0.6 0 2.3 0.3 2.2 0.3-2.6 0.3 1.9 1-0.7 0 1.4 0.3-2.5 0.2 0.7 0.2 0.8 0.3-3.2 0.1 0.5 0.1 0 0.1 3.6 2.1-4.4 0.6 3.6 0.9-1.5 0.1-0.5 0.8-2.2 0.2 1.8 0 3.2 0.4-3.9 0-0.2 0.9 0.6 0.8-0.1 0.2 2 0.2 0.2 0.9 1.8 2.2-2.8 3.1-0.2 0 1.3 0.2 0.4 0.2-0.4 0.5 0.1 0.6-3.5 0.7 4.6 0.2-0.8 1.2-2.9 0.6-1.2 0.5 4.4 0.1-3.3 0.5 2.9 0.5 0.3 0.1 0.4 0.6-3.9 0.1 3.6 0.2-2.2 0.5 1 0.1-2.7 0.3-0.3 0.6 1.3 1.2 2.8 2.4-2.5 0.2 2 0.2 0.4 0.8-3.2 0.2 2.7 0.8-0.3 1-0.8 0.9-0.9 2.2-1.2 0.2 3.8 3.3-1.4 0.6 2.1 1.8-1.7 3.9-2.3 3 4.4 2.5-4.4 -139.9 7.7 10.5-2.4 8.3 5.4 1.8-1.5 0 1.4 7.8-0.5 2.2-0.1 6-0.1 6.6-2.4 0.2-1.2 1.4 2.5 1.8-1.5 0.4-0.7 0.8 2.2 0.5-1.3 0-2 0.2 1 0.3-0.7 1.1 2.8 1.7-1.8 0-1.3 0.6 1.5 0.2-1.2 0.2 2.4 1.4-1.2 0.5 2.6 0-4.2 0.4 4.9 0-3.2 0.4 0.5 0.4 3 1.3-4.8 0.3 0 0.2 3.7 0.1-3.1 0.2-0.3 0.2-0.9 0.1 0.8 2.1 1.5 0.2-0.4 1.2-2.1 0.2 4.3 2.6-0.6 0.6-1 0-0.6 1.2-0.8 0.2 3.5 0 0.4 0.3-4.2 0.3 3.3 1.5 0.6 0.6-2.5 0.4-1.4 0.2-0.8 0.3 3.6 0.3-0.2 1.5 1.2 0.7-1.4 0.4-3.2 0.2 3.9 0.1 0.8 0.5-1.7 1.4-0.7 0.4-0.1 0.3 2.1 1.4-0.3 0.2-4.3 0.5 0.8 3 0.4 0.1-0.4 0.3 1.7 0.5 0 0.4 2.3 0.6 0.3 0.2-2.5 0.1 1.1 0.7-1.3 5.8-1.2 0.4-1.2 0.1 0.3 0.6 4.9 0.8-1.7 0.6 0.9 0.5-4.5 0 2.9 0.4 1.3 0.3-1.3 0.5-1.7 0.8 4 0.2-2.2 1.2-1.5 1.8 2.5 0.3 0.1 0.9-3.6 0.2 0.5 0.4 2 1-2.3 0.6 4.6 1.2-2.9 0.6 1 0.1-1.9 0.2 3.9 0.7-0.2 0 0.2 0.4-1.4 1.4 2 0.2-1.5 0.2-1.7 0.1 0.4 0.1 1.6 0.3 0.2 1.7-3 1.4 3.5 0.2-4.1 0.6-0.8 0.2 1.1 1.5-0.5 0.7 1.7 0.3 1.7 0-3.8 0.7 5.1 0-4.9 0.5-0.7 0.4 0.1 1.1 0.3 0.6 4.7 3.8-3.1 0.4 2.3 0.2-3.9 0.9 4.4 1.5-3.4 0.8 2.2 1.7-1.2 1.6 1.4 1.6 0.2 0.9-3.7 18 4.9 -136.5 3 2.8-0.2 18.6 3.4 2.1-1.8 2.4 0.2 2.1 1.2 1-4.6 0 1.4 2.2-2.1 0.8 5.8 0.3-4 2-0.6 4.2 1.4 0.9 2.3 0.7-1.8 0.2 2.1 0.5-3 0.2 2.2 0.1 0.8 0.5 0.1 0.6-3.5 1 1.3 0.4-0.3 2.1-1 0.1 2.4 0.6-2.8 0.5 0.8 0.5 2.3 0-2.7 0.5 1.8 0.2 2 0.5-2.5 0.8 1.8 1.1 0.6 0.2-3.7 0.2 1.1 2-2.8 0.3 2 0.2 1.5 0.1-1 0.2 2.5 0.7-2.8 0.3 0.6 0.1 1.7 2.1-4 0.2 4.6 0.1-2 1.2 2.4 0.2-3 0 1.7 0.3 1 0.2-3.3 0.7 3.1 0.2-4.9 0.5 2 1.2 3.6 0.4-0.8 0.1-0.6 0.2-2 0.2-0.5 0.7 0.1 0.5 0.7 0.3 1.6 0.6-3.9 0.5 1.5 0.7 0.4 0.5 3.7 0.1-2.6 0.8-0.1 0.3 2 0.2-2.5 0.6 0.8 0.6-2.8 0.1 4.9 0.2-1.5 0.2 1.2 0.4-1.8 0.3-2.5 0 1 1.6 3.1 0.3 0 6.4-0.6 0.1-1.4 0.1-1.4 0.3 4 0.4-5.3 0.8 4.7 0.5-4.9 0.6 0.6 1 2.2 0.1 2.9 0.2-4.5 0.3 0.4 0 1.8 0.1 1.7 0.6-0.1 1-3.5 0.8 2 0.4 0.7 0.5-0.4 1 0.1 1.6-4 0.8 4.1 0.5-1.9 0.6 0.8 0.3-1.9 0.4 2.6 0.3 0.4 0.3 0 0.1-0.6 0.1 2 0.3-2.7 0.2 1.3 0.1-1.3 0.2-2 0 2.3 0.3-2.9 0.1 0 0-0.1 0.4 4 2.2-1.2 2.7 0.2 1.2-0.6 0.2-1 1.3-1.4 0.9 2.6 0.5 2.9 0.3-5.3 0.1 0 0.5 2.4 0.8-1.2 0.2 0.1 0.9-1.4 0.5 5.5 0.2-5.2 0.2 2.1 0.2-2.1 1.2-0.5 1.1 5.1 0-2 0.2-2 2.2 2.5 1.1 1.4 0.3-2.9 1.1 0.6 1.2 0.4 2.3-2.7 12.8 1.6 22.2 1.6 -151.3 6 11.4-1.5 11.9 2.7 0.2-0.6 2.3-1.5 0.5-1.4 3.4 3.3 1.9 0 2.4-3.1 2.2 1.3 0.6-0.5 0.2-0.1 0.3-1.5 0 3.4 0.5-3.4 0.1 0.2 0.1 0.8 1-1.7 1.1 4.8 2 0.3 0.8-2 0.1 2.6 0.5-3.4 0.8-1.2 0.4 4.2 0.2-2 1.2-0.2 0.8-2.9 0.3 3.8 1.7-1.4 0.4-2.6 0.8 3.1 0.5-3.1 0.1 2.6 0.6 2.4 0.2-2.2 0.3 2.8 0.5 0.1 1.2-3.8 1.6 1.5 0.7-1.8 0.2 0.8 1 2 0.1 0.6 0.7-4.1 0.5 0.9 0.2 3.7 0.5-1.5 2-3.3 2 4 0.2-1.2 0.1-1.5 0.9 2.7 0.3-4.6 0.1 2.6 0.1-2.6 0.4 1.3 1.4 2.6 1.2 0 0.5-1.4 1.7-0.8 0.1-1.5 0.1-0.3 0.3 4.6 0.5-2.3 0.1 3.1 0.6-0.5 4.3-2.6 0.4 3.4 0.7-0.7 1.4-4 3 1.8 0.1 2.1 0.2-2.4 0.2-2.6 0.6 4.8 0.2-1.4 0.9-1.3 0.3 0.6 0-2 0.3 0.2 0.1 0.7 0.1 0.7 0.6 1.9 0.1 1.5 1.7-1.1 1.1 0.1 0.3-1.8 0.8 3 0.2-4.4 0.6 3.6 0.2-4.6 0.4-0.5 1.3 1.3 0.4 2.7 0.2-3.1 0.1 0.6 0.8 3.1 0.3-2.3 0.1 0.3 0-1.3 1.7 1.9 0.3 1.5 0.3-1.4 0 1 0.4-3.2 1.9 0.2 0.4 3.6 1.3-1.4 1.5-3 1.6 3.1 0.3 1.3 0.5 0.1 0.1-2 0.4 1.7 0.4-2.3 2.7-0.8 0.3 0.8 2.3-0.6 0.1 0.6 0.4 1.5 2-2.4 0.3 2.3 0-0.1 2.8-3.1 5.5 5.3 1.2-4.7 2 3.7 7.1-4.5 7.7 5 9.1 0.2 -141.7 2.2 18.3-0.9 0.1-0.6 4 1.4 0.4 3.4 2.1-0.8 1 1.4 1.4-1.1 1.1 0.6 1.9-2.2 1.2 0.8 0.6-2.1 0.2-1.2 1.6-0.5 2.7 5.7 0.1-2.7 0.4 0.7 0.4-1.6 0.2 1.9 0.3-3.1 0.3 4.8 0.7-4 0.1 0.3 1.1-1.3 1.3 1.6 0.1-0.7 0.3 0.9 0.7-0.9 0.3 1.2 0.1-1.5 0.3-1.2 0 3.1 0.4 0.8 0.7-0.8 1.2-1.3 0.8 3.1 0.6-1.9 0.9 2 0.4 0 0.2-3.1 0.2-1.8 0.6 0.2 1.4 0.5 0.3-0.1 0.6 4.3 0.2-1.2 0.5-0.2 0.5-1 0 0.9 0.5-1.6 1.4-2 0.4 2.7 0.5 0.1 0.6-2.7 0.5 3.7 0.7-3.1 0.1 1.7 1.5 1.6 1.3 1.7 0.2-2.9 1.7 1.4 0 0.1 0.1 0.8 0-2.7 0.7-2.2 2.2 2.1 4.5 1.2 0.5-3.5 0.5 5.3 0.1-2.6 0-0.2 0.3 3.2 0.2-3.2 0.2-1.2 0.3-0.3 0.1 2.1 1.1-1.1 0.4 3.1 0.1-3 0.8 3.4 0.6-5 0.1 0.1 0.6 1.2 1.7 2 0 0 0.1 0.7 0.2-0.2 0.4-1.1 0.7-0.6 0 3.1 0.4-5.4 0-0.3 0.1 3.3 0 2 0.7-4.8 1.6 0.7 0.1 2.6 0.8-1.3 0.2 2 1.3 1 0.1-3.8 0.3 4.2 0.2-0.2 1.6-4.3 0.1 2.9 0.5 0.5 0.1-4.8 0.4 1.5 0.2 3.6 0.3-2 0.6 1.4 0.1-1.6 0.1-1.4 0.9 3.3 0.1 0.1 0.5-3 0.3 0.4 0.4 2.4 0.5-0.1 0.4 0.4 0.1-1.8 1 0.2 0.5 0.8 0.6-4.1 0.2 4.1 0 0.8 0.6-3.1 1.7-1.1 0.2 4.1 0.4-3.1 0.5-1.7 0.4 5.3 0.1-2.5 0.1-2.6 0.9 2.4 0.1-0.1 0.3 0 0.5 0.5 0 1.7 0.2-1.9 0.3-2.8 1.5 4.4 0.7-1 4.2 2.3 29.7-0.4 25.4-0.9 -183.9 3.4 32-0.1 13.8 3.1 3.7-0.3 0.2-4.6 2.8 0.4 0.3 1.8 0.2 0.8 0.5-2.1 0.5 1.4 0.7-0.7 0.2 3.1 0.1-1.1 1.8-2.6 1 4.6 0.2-4.5 0.2 3.5 0.7-0.1 0.2-2.1 0.8-1.6 0.1-0.4 0.1 1.9 0.1-0.1 0.2 0.4 1.1 3.2 0.2-5.2 0.1 1.2 0-0.1 0.7 1.9 0.1-2.3 1 2.7 0.3-1.5 0.1 2.8 1.4-0.7 0.2 1.2 1.1-1.2 1-3.6 0.2 3.6 1.3-2.3 0.5-1 0.2-0.4 0.1 2.6 1-1.1 0.8 1.5 0.2 1.3 1.9-3.6 0.4-0.6 0 1.3 0.8 1.6 0.2 1.5 0.6-4.4 1.5-0.1 0.1 0 0.4 2.8 1.6 1.2 1.3-1.2 2.8 0.8 0-3.9 0.8 1.1 0.3-1.3 0.1 2.1 0.1 2.3 1.5-4.8 0.4 0.6 0.7 1.2 4.1-0.7 0.7 4.8 0.1-3.4 0.1-2.1 0.3 4.6 1.4-1.3 0.8 0.4 0-1.8 0.3 1.3 0.3-3.1 0.4 2.6 1.4 0.4 0.2-0.7 0.1-0.3 0.7 3.1 0.2-1.6 0.5 0.4 0.2-1.6 0.4-0.5 0.7-1.9 0.1 0.8 1.7 3.8 1.1-0.3 1.7-4.8 0.6 4.1 0.7 0.1 0.2-1.8 0.3-0.4 1.8 3.1 0-2.2 0 1.7 0.6-2.2 0.1 0.5 0.6 2.2 0.4-0.5 0.8-1.3 0.5 0.7 1.3 1.8 2.4-0.3 1.1 0.2 0.9-4.4 0.8-0.2 0.8-0.9 0 1.2 3.2 0.8 1.2 3.3 1.3-0.9 3.3-4 2.5 3.7 6.8-1.6 0.1 2.4 10.7 0.5 -137 2.6 4.7 0.9 1-2.4 4.1 1.3 1.5-1.7 13 5.1 0.8-2.1 10.7 0.7 2.4-3 0.2 1.4 0.2 1.4 0.6 2.2 1.6-5.9 2.5 1.5 0.1 3.6 1.2-4.9 0.3 2.7 2-1.1 1.8 1.8 1 1.4 0.4-2.3 0 1.1 0-0.3 0-3.2 0.4 5.4 1.5-0.7 0.1 0.7 0.3-2.2 1-2.4 0.7 3.9 0.2-3.6 0.2-1 0 4.5 0.3 0.1 0.3-4.9 0.6 0.6 0.4 2.8 1.3-2.1 0.4 0.9 1.9-1.1 0.3 2.2 0-0.2 1.3 1.2 0.1-4.2 0.6-0.3 0.3 0.7 0.1 2.9 0.2-3.3 0.7 0.6 0.6 0 0.5 2.7 0.4-3 0.9-0.6 0.8 4.2 0.1-2.4 1.3 3.2 0.4-1.8 1.4 0.7 0.3 0.1 0-1.9 0.2 1.6 0.1-0.1 0.2-2.8 0.5-0.2 1.6 1.6 0.4 2.4 2.2-1.2 0.7 2.5 0.3-2.1 0.1 0.8 0.1 1.3 0.4-3.1 3-1.2 0 0.4 1.1 3.5 0.2-2.3 0.3-2.7 0-0.5 0.1 4.4 0 0.9 0.2-5.2 0.8 3.5 0 1 0.3-3.7 0.3 0.8 0.3 3 0.3-3.7 0.7-0.1 0.2 1.6 0.1-2.2 0.1 5.5 1-2 0.6 1.5 0.9-0.6 0.5 0.4 1 0.3 1.4-1.9 0.2 0.3 0.4 2.1 0.1-0.4 0-5.2 1 0.1 0.9 3.5 0.2-1.8 0.1 0.8 0.1-0.3 0-0.9 0.1 3.3 0.7-2.4 0.3 3 0.1-3.4 0 1.6 2 1.7 0.4-1.1 0.1 1.2 0.2-4.3 0 0.2 0.3 4 0.1-3 1-1 0.1 1.5 0.2 1.5 0.2-3.4 0.1 1 0.2-0.1 0.6 2.8 0-1.3 0.8 0 0.4 0.4 1.3-0.1 0-1 0.1-0.1 0.7-1.8 0.2 4.7 1.3 0.1 0.5-5.5 0.6 4.5 0.4-1.8 0-1.4 0.8 1.5 0.1-1 0.3 2.3 0.1-1.6 0 2.4 0.1-2.3 0.2 1.8 1.7-2.1 0.4 0.8 1.3-1.5 1.2 0.2 2.2 0.4 1.1 1.8 0.7-1.1 0.7-1.7 2.2 3.5 33.6 0 15-4.6 -168.5 6 35.3 4.4 1.2-3.7 1.5-0.4 0.1 0.9 0.7 3.6 1.9 0.9 0.8-4.7 6.4 4.1 0.1-5.4 0.3 1.7 0.1 3.5 2.9-3.9 0 2.3 3 1.5 0.8-5 3.2 5.4 1.3-3.7 0.5-1.3 0.9 5.4 0.1-3.2 1-2.1 0.1 0.1 0.6 3.6 0.9-1.6 0-2.3 1.8-0.2 0.5 0.4 1.8 1.5 0.1 1.6 0.3-1.1 0.3 1.6 0.1-2.9 0.6 2.4 0-3 0.2 4.2 0.1-4.3 1.2 0.1 0 3.2 0.4-3.2 1 2 0.1 1.8 0.8-0.3 0.1 0.8 0.2-2.4 0.3-1.1 0.4 1.9 0.9 2.2 0-3.4 0.1 0.8 0.2-0.8 0.1 1.4 0 2 0.6-1.5 0.8-2.3 0.4-0.4 0.1 0.5 3.2 2.3 0 0.9 0.3-2.2 0-1.5 0.2 3.7 0.6-1.8 0.4 2.5 0.1-5.7 0.4 5.7 0.1-0.6 1.8-1.1 1.3 0.5 0.2-4.4 1.2 4.1 0.4 1 0.1-1.3 0.2-3.9 0.2 3.4 1.5-3.4 0.2 5 0.6-3.8 0 2.8 0.3-3.4 0 5.3 0.5-1.1 0.1-3.1 0.9 1.2 0 1.5 0.8-1.6 1.9-2.6 0.5 2.5 1-0.7 0-1.8 0.7 1.5 0.1 2.7 2.3-1.6 0.9 0.4 0.2-0.5 0.9-1.8 0.6 4.5 0-1.9 2.3-2.9 0.1 2.9 0.5-2.3 0.1-0.6 0.3 3.3 0.2 1.6 0.8-5 0.3 4.8 1.5-4.2 0.4 3.6 0.6-3.4 0.4 3.2 1.7 0.3 0.4-2.2 0.2 2.9 0.3-2 0.9-3 0.1 2.7 10.5-2.8 2.3 4.2 1.4-3.7 24.6 0.1 4.3 1.2 -124.8 7.7 5.1-3.3 2.4-0.2 1.9 5 0.6-4.5 3.2 2.6 0.9-0.6 1.2-0.4 0.5-2.4 0.3 5.8 2.7-0.7 0.2-5.2 0.4 3.8 0.6-1.6 0.6 3.1 0.2-5.2 0.7 2.9 1.7 0.8 1.6-3 0.3 1 0.3 1.1 0.2-1.8 0.2 2.9 0-1.3 0.1 2.2 1-2 0.1-0.3 0.2 2.6 0.5-2.2 0.6 2.9 0-3.4 0.6 3.2 0.6-4.7 0.1 2.9 0.1-0.7 0.1 2.2 1.6-1.8 0.2-1.6 0.2-0.7 0.6 2.3 0.1-0.2 0-3.5 0.8 4.9 0.1-2.4 0.9 2.3 0.1-4.3 0.8 2.9 0.2 1.1 0.1-0.4 0.7-1.9 0.7 3.6 0-4.6 1.1-0.2 0 0.2 0.3 4.1 1.7-1.7 0.3 2 0.1-1.4 0.5 0.5 0.4-3.1 0.9-0.6 0.2 3.1 1.3-0.2 0.2-1.4 0.2 0.5 0.4 1.9 0.6-0.3 0.1 0.6 0.3-2.3 0.5 2.2 0.3 0.4 2.3-2.9 0.1 2.4 0.2-0.2 0.1-3.2 0.1-0.2 0.9-0.5 0.1 0.5 1.1 2.7 0.9-0.1 0 0 0.6 1.4 1-0.2 0-3.5 0.1-1 0.3 1.4 0.3-1.3 0.3 2.9 0.2 0.3 0.6-3.1 0.8 4.8 0.1-1.2 0.7-0.2 0.2-0.7 0.1 0.9 0.8 1.4 1.7-4.5 1.4-1 1.4 1.2 0.6 0.6 0.2 3.1 0.5-1.7 0.1 2.2 0.8-3.7 0.1 3.1 0-3.5 0.1 0.4 0.1-0.6 0-0.1 0.9 3.1 0.7-0.7 1.3 1.2 1.1-3.4 0.2-0.7 1 2.2 0.6 1.7 0.2-2.1 0.3-0.3 0.4 0.8 0.1-1 0.5-1.9 0.7 1.9 0.3 0.1 0.7 2.9 0.7 0.6 0.2-0.6 1.1-3.6 2 1.4 0.4-0.6 0.2 0.2 1.3 1.8 0.2-3.8 0.6 1.1 0.1 0.9 0.7-1.5 2.4 1.4 1.5 1 0.4 0.1 0.3-2.9 1.2 3 8.7-2.9 30.5-0.8 2.3 3.9 2.7 0.1 9.8 1.3 -142.2 2.2 0.4-0.8 3.4 0.8 2.6 1.3 1.1-1 2.5 2.4 0.3-0.5 1.3 0.2 3.8-3.8 0.5 0.4 1 0.2 1 1.3 2.2 3.6 1.8-0.8 1.2-4.7 0.3 2.5 0.4 1.2 0.1 1.5 0.9-5 0 4.3 1.3-0.7 0.4 1.8 0.1-3.9 0 1.8 0.1-2.3 1.5-0.2 0.1 4 0.7 0.1 0.1 0 0.6-1 0.1 1.1 0.4 0.2 0.3-0.6 0.1-0.6 0.1-2.1 0.1-2.1 1.3 2.3 0.4 1.1 0.7-2.9 0.2 1.3 0.3 2 0-2.6 0.1 4.5 2.2-4.9 0 2.6 0 1.6 0.2 0.7 0.6-4.7 0.3 1 1.3 1.9 0.1-2.9 0.1 3.8 0.1 1 0.1-5.1 0.1 0.1 0.2 4.8 1.2-5 0.3-0.2 1 3.2 0.7 0.9 0.2-2 0.3 1.4 0.1-1.7 0.2 0.8 0.1-2.2 0.1 3.6 0.1-1.8 0.2 3.1 0.5-2.5 0.6-2.8 0.7 0.7 0.1 4.3 0-1 0.3-0.2 0.2 1.3 0.3-4.5 0.4 4.3 0.5-2.3 2.5 2.4 0.2-2.1 0.1 2.2 0.4-5.3 0.3 1.9 0-1.1 0.4 1.1 0.1 3.4 0-2.5 1.5 1.8 0-4.8 0.2 1.4 0.2 0.9 0-1.1 0.2-1.3 0.6 2.1 0.2-0.8 0 3.4 0.2 0.4 1.8-4.6 2.1 0.6 1 3.5 0.7-3.1 0.7 0.6 0.2 1.2 1.1-0.3 0-0.7 1.4-0.3 0.7 1.4 1.1-2.9 0.6 2.3 0.4-0.9 0.4-0.2 0.2 2.1 0.7-2.2 0.8 2.6 1.5-0.2 0.1 0.9 1.3-1.2 3.3-0.4 0.3-2.3 0.7 1.3 0.3-2 0.3 3.8 0.9 0.6 0-2.4 0.6 3.5 0.3-2.2 4.2-0.3 0.6 1.8 1.2-3.1 0.2-1.2 2.6 2.1 1.7-2.2 1.8 4.2 1-4.3 5.2-0.6 1.1 1.8 -122.6 5.3 28.7 0.1 2.3-1 7 5.6 0.2-4 2.6 2.2 0.7-0.1 1.1-2.7 1.3 2.9 0.5 1.2 1.4-5.2 1.2 5.6 0.4-3.2 0.4 0.3 0.1 2.9 1.2-2.8 0.2-0.3 0 1 0.2 2.2 0.1-0.2 0.7-1.2 2.8-2.6 0.3-1.7 0.5 5.1 0.7-3.4 0 0.3 0.3-1.3 0.1 3 0.4-1.6 0.4 3.2 0-5.2 0.1 3.1 0.7 1 0.2-2.7 2.5 0.1 0.3 0 0.6 1.9 0.9-2.8 0.2 0.1 1.6-0.1 1.3 1.2 2 0.6 0.3-1.8 1.2 1.1 0.4-1 0.3 3.1 1.1-2.8 0.4 0.2 1.4 2.4 1.4-2.2 1.2 2.3 0.3 1.9 0.1-4.9 0.3 0.9 0.5 1.3 0.4-1.6 0.3 0.1 0.1-1.3 0.1 5.5 0.3-0.2 0.5-1.5 0.2-1.8 0.7-0.9 0.7 0 1.2 2.7 1.7-1.1 0.8-2.8 0.5 1.6 0.5 0.6 0.4 3.2 0.5-2.1 0 0.6 0.1-2.2 1.4 0.9 0.1 1.8 0.8-1.3 0.3 0.7 0.2-1.9 1.4 3.9 0.1-5.8 0 1.8 0.2 2.2 0.2 0.5 0.4-3.2 0 0.6 0.3-0.4 0.1-1.4 0.7 4.4 0.8-0.3 0.3-2.9 1.6 1.9 0.6-3.1 0.6 4.4 0 0.6 0.7-0.3 1.4-3.7 0.2 3.8 0.5-1 0.8-2.5 0.6-1.5 0.5 1 1.3 4 0.2 0.8 0.1-3.8 1.1-1.8 0.7 3.4 0.6-2.4 1.9 1.1 0.6 2 0.1-1.9 0.7-2.3 0.3 2.6 0.5 2 1.8 0.4 0.4-4.8 0.7-0.1 1.6-0.2 7 2.6 0.2-0.2 9.1-2.2 1.1 5.7 14.8-5.1 1.4 4.3 -149.3 5.9 24.6-5 19.2 3.3 0.6-0.3 0.7 0 0.4-2.6 0.5 0.1 0.1-0.3 0.1 2.3 0.5-2 1.3 5.3 1.6-0.5 1.1-4.8 1 2.5 0.8-1.2 0.4 0.5 0.6 2.5 0.1-4.6 1.2 2.6 0.4 0.1 1.4 1.9 0.2-0.5 0.1-1.8 0.2-2.4 0.2 5.7 2.7-4.9 0.1 2.5 0.2 2.3 0.1-3.6 0 2.6 0.4-3.7 1 4.2 0.2 0.6 0.6-4.4 0.1 0.8 0.1 2.3 0.1 0.8 0.3-2.3 0 0.8 0.1-3.4 0.7 0.1 0.8 1.3 0.1-0.3 2.4 2.6 0 1.7 1-4.6 0.2 0.4 0.7 4.2 0.6-3.5 1.1 2.2 0.1-1.7 0.8-1.1 0.5 0.1 0.1-0.6 0.1 0.7 0.3 0 0.6 3.5 0.2-5.4 0 4 0-0.2 2-2.6 0.7 2.8 0.8 0 0.8 0.8 0.1-2.5 1.1-1.7 0.5 1 0.2-1.2 0 2.4 0.1 2.8 1.7-3 0.2-0.9 0.1 1.6 0.2 1.1 0.4-4.1 0.9 1.4 0.9-1.1 0.3-0.5 0.2 3.4 0.4-0.6 0.6 0.8 0.4-3.5 0.7 0.4 0.4 0.7 1.7 2.7 0.3 0.5 0.7 0 0.8-4.4 0.2 1 0.4 2.6 0.3-2.5 0.1 1.6 1.2 0.1 0.4-1.4 0 4.1 0.1-2 0-3.5 0 3.9 0.2 0.2 0.3 0.8 0.5-4.9 0.1 2.1 0-0.1 0.6-2.1 0.1 3 0.4 0.3 0.8 0.4 0 1.7 0.1-4.4 0.1 1.9 0.4-2.8 3.4 2.5 0.8 2.7 0.1-3.9 0.4-1.4 0 4.1 2.3-0.4 0.4 0.5 1.1 1.6 2.2-2 0.5-2.7 0.1 2.7 0.2-3.7 0.6 4.2 0.8 0.9 0.3-5 2.5 5.6 1.1-2.9 1.4-2.1 0.5-0.5 1.9-0.1 22 4.3 -154.6 5.3 42.4-3.8 15.1 4.6 0.1-1.3 3.3-0.6 0.9-1.4 0.7 0.3 2.1 2.2 0-1.8 0.1 0.3 0.2 0.6 0.2-0.7 1.5 1.8 0.4-1.7 0.5 3.4 0.2-0.1 0.4-2.9 0.1 1.3 0.4-2.9 0 0.3 2.1 0.7 0 3.1 1.2-0.3 0-1.3 0.4-3 0.5 4.7 1.3 0.2 0.2-4.6 0 4.4 0.3-3.3 0 2 0.2-0.2 0.4-1.2 0.6 1.6 0.1-1.9 0.2 0.7 0.1-0.5 0.1 1 0.8 1.3 0.7-4.2 0.8 3.1 0.7-1.4 0.3-1.1 0.6 0.6 0.3 1.6 0-0.2 0.7-1.3 0.4 1.9 0.9 0.5 0.8-2.3 0.2 3.7 1.2-5.3 0.3 2.6 0.4 0.9 0.6 1 0.2-3 1.1-0.6 0.1 3.9 0.7-0.7 0.7-1.6 0.4 1.3 0.3-3.6 0 1.7 0.6 1.6 0.4-1.3 0.1-0.3 0.2 2.1 1.5-2.2 0.3 1.7 0.1-1.8 0.8-0.4 0.2 2.1 0.2-0.8 0 1.9 0.3-0.9 0.3-1.5 0 0.3 0.1-2.8 0 3.3 0.8-0.6 0-1.5 0.1 4.6 1-0.4 0 0.3 0.3-4 0.7 2.4 0.7-1.6 0 3.4 0.9-0.9 1.3-2.8 0 2 0.3-3.7 0.2 0.9 0.5 3.4 0.7-2.5 2.4 1.2 1.5-1.7 0.8-0.5 0.5 0 0 2.4 0.5-2.5 0 0.9 0.2 1.1 0.2-2.8 0.4 1.4 0.3 2.9 0.2-3.8 0.6 3.7 0.4 0.7 0.8-4.6 0.6 1.6 0.4-0.7 0.4 0.2 0.3 3.6 0-4.3 0.6 1.3 0.8-1.1 0.4 2.5 0.7 1.2 0.4-5.1 0.1 3.5 0-2.6 0.4 0.5 0.9-0.9 1 5.4 0.4-2.9 0.4 0.8 1.1 0.8 0.3-3.3 1.3 3.3 0.4-3.6 1.7 0.8 1.7 0.8 6.3 2.3 0.2-4.6 0.7 5.3 0.2-0.8 4-3.7 -132.7 6.2 16.1 3.4 36.9-2.3 0.6-1.2 5.4 0.7 0.2 1 1.4 0.8 0.2-3.4 0.1 5.4 0-4.2 0-1.1 0 3.4 0.4-0.3 0.3-1.8 0.5 0 0.3 1.3 0.2-0.1 2.2-1.6 1.5 2.9 0.3-3.1 1.2 1.5 0.1-0.1 0.6-1.2 0.1 1.7 0.2 0.9 0.2-2.7 0.6 4.8 0.4-5.6 2.1 3.6 0.2-3.5 0.4 0.6 0.2-0.1 0.3 1 0.3 1.4 0.5-1.3 0.5-1.8 0.3 0.3 0.1 3.7 0 1.3 0.3-4.7 0.1 3.5 0.2-1.2 1.1 2.2 0.8-2.3 0.8 0.2 0.9 1.2 0.1-2.5 0 1.5 0.5-0.9 1.4-0.7 0.6 2.5 0.1 0.4 1.7-4.7 1.1 0.3 0.1-0.2 0.1 0.4 0.6 1.6 0.1-1.3 0.5 4.4 0.6-4.9 0.1 4 0.2-2.6 0.1-1.6 0.7 2.6 0 1.2 0.2 0.5 1.9-2.2 0-0.2 0.5 3.3 0.1-3.3 0.9 2.4 0 0.7 0.4-0.1 0.1-2.6 1 1.6 0.5-1.3 0.4-2.4 0.2 1.9 0.4 0.1 0.6 0.5 0.3-2.8 0.6 1.9 2.3 1.2 0.3-3 0.8 3.6 0-0.2 0.4-0.5 1.8-1.5 0.1 2.3 0.1-2.2 0.3 4 0.4-2.5 2-2.5 0.3 1.3 0 3 1.1-0.9 1.1-3.5 0.2 2.2 0.6 1.5 0.4-1.8 0-0.2 0.1-1.5 0 1.1 0.5-0.3 0.3 3.9 0.1 0.2 0.3-1.2 0.6-2.2 0.1 1.7 0.1 1.1 1.2-1.8 1.1-0.1 0.7 0 0.3-0.8 1.3-1.7 0.1-0.4 0.3 0.5 0.8 5.2 0.8-0.8 0.4-3 1.5 1 0.4 1.8 6.5-2.5 1.2-2 3.3 3.9 6.1 1 14.4-2.5 10-0.3 22.1 1.4 -139.4 5.4 7.2 0.5 0.3-0.4 4.4-3.4 1.7 3.3 0.2-3.1 4.2 5.2 0.4-2.7 1.2-1.8 0.1 4.8 0.3-3.4 0.1-0.1 0.9 2 1.1-2.8 0.2 3.8 0.3-1.4 1.7 0.5 0.2-3.5 1.3 1.4 0.2 1 0.6 1.2 0.3-2.8 0-0.7 0.5 4.3 0.3-0.2 0 0.2 0.9-1.6 0.3 1.2 0-3.4 0 2.3 0.1 0.1 0.1-0.5 0.1-2.3 0.5 4.1 1.1-1.5 0.3 1.7 0.2-2.4 0.2 1.6 0.6-3.5 0.3 3.3 0.4-3.4 0.7 1.8 0.2-1.8 0.1 2 1.6-2.3 0.1 3.2 0 1.1 0.9-0.6 0.3-3 0.7 3.9 1-0.7 0-2.4 0.5 2.1 0.5-0.9 0.1-0.6 0.1-0.8 1.3-0.1 0.4 2 0.3 1.8 0.3-2.5 0.1-1.3 0.1-0.5 0.2 4.2 0.2-1.5 0.3-3 0.6-0.2 0.7 3.1 2.3 1.9 0.7-5.3 0.1 2.4 0.2 2.3 0.2-4 0 1.5 0 2.6 0.1-4.8 0.5 3.3 0.4-1.8 1.3 1.8 0.1-1.3 1.2-0.5 0.3 1.8 1.7 1.4 0.6-4.2 0.4 2.6 2.1-2.9 0.1 4.3 0.1-2 0-0.3 0.5-2.6 0 0 1.3 4.9 0.4-4.6 0.1 1.9 0.2 1.3 0.8-3 0.4 5 0.3-3 0.1-0.4 0.2-0.1 1.3-1.9 0.3 1.6 0.9 3.2 0.4-0.1 0-3.4 1.7-0.7 0 2.9 1.1-2.9 0 5.1 1.5-1.7 0-3.8 0.6 2.4 0.4-1.9 0 5 0.7-0.7 0.1-5.3 0.5 3.8 0.4 2 0.1-2.5 0.7-2.9 0.2 5.2 1.6-5.1 0.9 4.7 0.3-4.2 1.7-0.7 0.5 0.8 5.2 0.6 4-0.9 3.9 2.4 47.1-3.1 -131.3 6.1 4.4 4.5 3.1-1.5 4.4 2 1-2.2 1.4 1.7 2.4-3.8 0.3 0.1 0.6 4.9 0-3.2 0-2.6 0.4 4.5 0.3 0.7 0 0.3 0.1-4.3 0.6 2.7 0-3.4 0.7 1.4 1.3 3 1.3-4.2 0.3 3.1 1.3-1 0.2-2.6 0.1 5.3 0.3-3.1 0.1 1.8 0.2 1.4 0.2-2.7 0.1-1 0.3-1.6 0.3 3.4 1.7-2.1 0.4 1.5 0-0.7 0 2.2 1.5-0.4 0.3-1 0.6-2.1 0.4 3.1 0.3-1.2 0.2 0.9 0.1 0.6 0.5-1 1-2.4 0.4 1.3 0.2 1.7 0 0.6 0.2-1.4 1.1-0.9 0.4 1.9 0.1-2.3 0 1 1.7 0.4 0.2 2 0.3-3.8 0.2 3.1 0.1-3.6 0.7 0.2 0.2 3 0 1.3 0.4-5.7 1 5.9 0.8-5.2 0 1 0.4-0.4 1.2 2.4 0-1.9 0.4-1.3 0.1 2.5 0.1 3 0.1-1.7 0.6-0.8 0 1.5 0-0.5 0.2-1.2 0 1.1 0.1-3.1 0.9 3.7 0.9-4.4 0.4 4.1 1.1-4.1 0.1 4.3 0.4-1 0.9 1.9 1.6-0.5 0.2-3 1.5 0 0-0.3 0.4 1.9 1.1-0.2 0.5 0.9 0.1-4.4 0.8 4.4 0.7-2.2 0.1-1.9 0.8 5.1 0.3-0.1 0.4-1.6 0.4-0.5 0.4-2 0.4 2.5 0.3-1.1 0.2 0 0.1-2.8 0 4.5 1.2-3.6 0.6 2.8 0.4-0.4 0-0.6 0.3 2 0.1-1.2 1.2-0.3 1.2-1.6 0.7 1.7 0.3 2.3 0.3-4.5 0 0 1.7 4.9 0.2-3.3 1.5 0.5 0.3 1 4.5-0.7 4-3.2 3.3 2.1 1.1 1.8 13.6-0.9 8.9-1.3 -116 7.7 9.3-2.6 0.9 2.7 1-1.7 1.6-1.8 3.3 1.5 3.3 2.5 0.4-0.8 0.5 0.1 0.7 1.2 0.7-4.3 0.6 4.7 0.5 0.7 0.7-5.4 0.2 0.9 0.3-1.4 0.3 4.5 0.9-2.4 0.4 2.6 0.8-2.6 0.6 1.2 0.2 2.3 0.7 0.2 2-3.1 0.8 2.1 0.3-3.2 0.3 4 2-5.3 0.3 1 0.4 1.1 0 3 0.1-1.3 1.1-1 0-0.9 0.4 3.1 0.4-2.2 0.2-1.4 1.1-0.8 1.5 4 0.4-1 0.8-2.2 0.2-1.1 1.1 0.1 0 4.3 1-1.5 0.5-2.6 1 3.3 0.5-2.5 0.2 1 0.5-0.4 0.6 0.1 0.4 1.8 0.1 0.9 0.1-2.3 1.2 2.6 0.1-4.2 0.1 2.6 0.1 2.1 0.3-0.2 0.6-4.4 0.3 3.4 0.2-3.1 1.5 0.4 0.1 1.1 0.8 1.9 0.2-0.2 2.6-0.6 0.4 1.7 0.3-2.3 0-0.3 0 0.2 0.1-3.4 0.1 4.2 1.3-1.2 0.2 0.8 0.2 0 1.5-3.9 0.3 3.7 0-0.5 0.4-3.1 0.1 4.6 0.5 0.4 2-2.4 0.2 2.5 0.3-2.4 1.3 0.2 0.3 2.9 0.1-3.3 0.4 1.1 0.2-0.9 0.3 2.8 1-2.9 0.3-0.1 0-1.1 0.7 2.6 0.2 0.7 0.1-1.7 0.3 1.9 0.9-3.1 0.2-1.5 0.1 0.6 0.2-0.4 0.1 3.1 0 0.4 0.1-1.6 0.2 0.7 0.1-2.4 0.7 2.1 0.4-2.8 0.2 2.3 0.2 2.1 0.2-1.3 0-2.8 0.4 3 0.4 1 0.9-0.3 1-1 1-1.6 0.9-1.4 1.4 0.1 1.6 4.2 1.5-1.4 0.2-1.2 0 2.1 5.3-0.5 0.2-2.8 3.1-0.2 31.1 1.1 17.2-0.2 -170.4 4.9 51.8 0 2 5.7 3.9-2 0.8-2 0.5 1.6 2.3 2.2 0.4-3.8 0.1 1.3 1-0.1 0 0 1.1-1 0 2.5 0.8-2.5 0.2-0.5 0.9 0.3 0.3 0.6 0.1 0.8 0.1 1.8 0.8-4.8 0.1 4.3 1 0.5 0.5-4.6 2.1 3 0.2 0.6 0.1-2.7 2.2 4.5 0.6-2 0.1 0.7 0.7 0.2 0.1-1.1 0.1 0.4 0.2-3.8 0.2 1.7 0.2-1.1 1.9 3.4 0.2 1.6 0.1-0.3 0.2-4.1 0.5 2.7 1.3-2.3 0 0.1 0.2 1.1 0-1.9 0.3 4 0.1-3.7 0.3 2.4 0.1-2.1 1.5 3 0.3-3 0.8-0.9 0.4 4.2 0.1-4.6 1 3.1 0.1 2.1 0.3-3.8 0.6-1.9 0 0.9 0.1-0.4 0.3 3.8 0-3.1 0.5-0.5 1.7 3.8 0.2-2 0 0 0.6 1.8 0.1-4 1.5 2.6 0.3 0.6 0.9 1.9 0.5-0.9 0.1-0.7 0.1-0.8 1.1 2.7 0.3-0.9 0.4 0.1 0.1 0.1 0.3-1.3 0.1-0.3 0-2.5 0.1 0 0.1 4.1 0.3 0.7 1.9-1.3 0.3-2 0.1 3.1 1.1-1 0.4-2.9 0.2 1.7 0.2 0 0.5 0.2 0.4 0.2 0.8-2 0.6 3.3 0.5-2.5 0.9 0.4 0.9 2.7 0.8-1.4 0-3.2 0.8-0.5 0.7 3.5 1.5-2.5 0-0.4 4.3 1.4 40.2 0.8 7.5 2.4 -128.1 4.6 21-2.6 0.3-1.1 0.3 3.6 0-0.4 4.3-0.6 1.6-0.9 1.1 3.2 0.2-2.5 0.5-0.2 0.1 3.1 0.2-1 0.7-3.2 1.7 4 0.7-1.3 0.4-3.4 1.5 4.2 0.2-3.1 0.2 3.5 0.5-2.9 0.2-2.1 1.2 4 0-0.4 1.2-2.4 0.2 2.3 0.2 0.2 0.6-0.7 0.4-0.1 0.4-1 1 0 1.6-0.2 0.7-1.3 0.6 2.2 1-2.9 0.7 0.4 1.2-0.2 0.7 5.2 0.4-1.4 0.3 1.6 0.1 0.1 0.6-3 0.4-1.3 0.2-1.4 0.6 0.9 0 2.5 0.1-0.7 0.1-2.1 0 4.7 0.2-1 0-2 0.1-2.6 0.7 2.8 0.2-0.1 0.3-2.7 0.1 1.2 0.4 1.4 0.1 0.1 0.7-0.9 0.3 1.2 0.4-2.5 1 5.4 0-0.7 0 0.6 0.3-0.3 0.2-3.3 0.2 1 0 2 1.3 0.8 0.2-5 0 1.1 0.5 0.1 0.6-0.4 0.1-1.6 0.3 2.1 1 2.2 0.4-1.4 0.5-1.6 0-0.1 0 3.6 0.5-1.6 0 1.7 0.5 0.2 0.2-2.6 1.7 2.7 0.4-4.6 0.7 4.2 1.1-4.7 0.3 1.3 0-1.4 0.3 4.5 0 1 1 0.2 3.1-2.2 0.2-2.2 0.3 4 0.1-3.5 0.2 0.2 0.8 1.5 0.6-3.3 0-0.3 0.9 3.7 0.2-2.7 1 4.3 0-4.4 0.2 2.7 0.8-0.4 0.3-0.4 0.4 2 1.3-0.1 1.4-0.1 2.2-2.4 42.4-1.4 -105.8 6.6 6.4-0.8 2.4-0.6 5.6 5.4 0.7-3 0.2-2.3 0.9 3.1 0.8-2.7 0.7 3.2 0.5 1.1 0.4 0.8 0.3-1.5 0.2-3.4 0.2 1.2 1.1 2.4 0.4-4.1 0.1 4.7 0.4-3 0.3 3 0.2-1.4 1.9-2.2 0.4 1.8 0.4 1.8 0.3-0.6 1.4-1.2 0-1.8 0.7 1.1 0.4-0.9 0.8 4.4 0.2-5.9 0.3 2 0.4-0.1 0-1.1 0.4 1.3 0 0.9 1 1.5 0.1-3.5 0.1 4.6 0.4-4.9 0.2 4.4 0.3-2.9 0.5 2.9 0.4-1 0.1-4 0.3 2.3 0.3-1.5 0 1 0.3 2.5 0-1.9 0.2-1.1 0.5 1.4 0.1 2 1-2.3 0.3 1.1 1.3 0.5 0.1-0.8 0-1.7 0.4 2.1 0.4-2.6 0.4 3.8 0.1-0.7 0.2-0.6 0.3-3.5 1 3.7 0 1.4 0.2 0.2 0.1-1.6 0.2-3.3 0.2-0.4 0.5 2.9 0.1 2.8 0.2-0.1 0.1-3.9 0.2 3.3 0.2-2.1 0.1-2.8 0.1 5.1 0.5-4.1 0.4 2.4 0 1.5 1.2-1.1 0.6-3 0.2 3.9 0.1 0.2 0-0.2 0.4-0.2 0.1-1.7 0.2-1.6 0.4 0.7 0.3 3 0.4-0.1 0-3.8 0-1.3 0.1 1.6 0.4 1.1 0.2-0.4 0.1 3 0.1-3.9 0.7-0.5 0.8-0.3 0.1 0.1 0.2 2.7 0.3 2.2 0-5 0.6 3.1 0.7-1.7 0.1 1.6 0.5-0.6 0.5-2.3 0.8 4.2 0.5-1.1 0.2-3.4 0.3 0.3 0.3 1.6 1.3 1.3 2.6-2.4 0.3 2.7 0.7-0.7 2.4-0.8 2.9-0.9 1.1 1.9 -60.4 7.7 3.9 0 1.4-1 2.3-1.4 2.4-1.2 1.8-0.3 0.2 4.4 0.1-4 1 2.7 0.4-0.5 0.3-3.6 1.6 3.7 0.3 0.1 0.4-2 0.4 0.3 0.3 0.5 0.7 1.2 0.1-1.3 1 2.8 0.6-1.5 0.1-0.5 0.4-3.2 2.1 4.3 0.6-2.5 0.3 2.6 0.2-1.4 0.1 1.6 0.1-4.1 0.4 4.3 0.1-2.5 0.2-0.9 0.5 3.2 0.2-3.2 0.1-1.5 0.6 5.5 0.1-5.7 0 3.8 0.1-3.7 1.4 1.5 0.6 4.2 0-4.1 0 2 0.1-2.2 0.1 0.9 0.7-1.5 0.4 2.6 2.7 1.2 0.6-1.9 0.3-1.6 0.6-1 0.2 5.5 0.2-1.4 0-1.1 0.5 2 0.2-4.1 1.5 1.1 0.4-1.8 0.8 1.7 0.3 1.8 0.2 1 0.6-2.9 0.1-1.4 0.3 4.1 1.1-4.3 0 2.8 0.3-0.8 0.2-1.6 0.7 1.5 1.2-1.1 0.2 2.7 0.1-3.4 0.5 2.1 0.1 0.7 0.2-3.3 0.3 1.9 0 2.7 0.8-0.6 0.9-1.5 0.6-1 1-1.3 0.2 0.4 2.9 5.1 0.5-5.5 0.5 1.1 1.2 1.3 0.2-1.5 2.7-0.4 2.5 1.1 -91.3 4.2 33.1 0.3 3.7 0 0.5 1.1 0.2-0.4 2.5-0.1 1.2 3.6 0.9 0 0.9 0.9 0.1-1.9 1 0.8 0.3 0.9 0.2-2.7 0.5-2.1 1 3.5 0.5 1.2 0.5-5 0.3 3.9 0.2-1.4 0.1 2.6 1.2-0.2 0.1-1.5 0.2-1.7 0.2 0.2 0.2-0.8 0.5 2.1 0.6-1.6 0 1.7 0.1-0.3 0.4 0.1 0.1 1.5 0.8-1 2.1-1.1 0.8 0.5 0.1-1.2 0.3 0.1 0.4 2.2 0.5-3.3 0.3 3.1 0.4 1.4 0.3-2.8 0.2 1.4 0.1-0.3 0.7 0.1 0.2-3.3 0.2 4.4 0.2-0.8 0.2-2.7 0.5 1.2 0.7 1.9 0.1-1.2 0.1 0.6 0.2-3 0.1 0.2 1.3 4 0.2-1.8 0-2 0.1 3.7 0.1-0.6 0.1 1 0-4.6 0.6 4.8 0-0.6 0-0.5 0-1.2 0.3 0.8 0.3-2.4 0.5-1.3 0.3 1 0 1.2 0.5 2.2 0.1-0.3 0.3 0.8 0.1-1.4 0.2-1.6 0.1 2.5 0.1-0.4 0.1 1.5 0.1-0.3 0.5-2.4 0.1-2.3 0.3 3.4 0.1-3.4 0.2 0.9 0-1.5 0.1 2.9 0.1-0.1 0-2.7 0.6 3.9 0.3 1.1 0.1 0 0.1-0.3 0.2-2.2 0-1.8 0.2 1.3 0.6 3.3 0.5-0.8 0 0.6 0.2-1.7 0.1-3.4 1.4 1.3 0.6 0.6 0.1-1.2 0.8-0.3 0.2 4.5 0.5-1 0.5-1.9 0.7 2.7 1.3-4.3 0.8 0.7 1.1-0.9 0.4 3.6 0.1-3.4 0.2 0.2 0.2 1.1 0 0.8 0.3 1.9 0.4 0 1-2.6 0.2 1.7 0.1-0.4 0.3 2 1.1-2.4 0.1-0.4 0.9 3 0.4-1.1 1.3 0.5 0.1-3.2 3.4 0.1 2.1-1.2 5.7 3.1 -56.8 4.6 4 2.6 2 0.1 2-2.6 1.2-0.2 0.1 3.3 0.2-3.7 0.1 3.7 0.3-2.2 0.5 2.1 0-0.5 0.9 0.8 0.2-2.4 0.1-1.4 0.7 1 0.2-2.3 0.2-0.2 0.8 4.6 0-4.6 0.1 4.7 0.3-2.8 0.6 0.8 0.3-2.3 0.4 0.3 0.2 4 0-1.1 0.3-2.5 0.1 0.7 0.6 3 0.2-0.7 0.2-0.6 0.4-0.1 0.4-1.8 0.4-0.7 0.4 0.7 0 0.4 0.2-1.3 0.6 1.2 0.3 2.4 0.1-4.6 0.4 4.9 0.7-1 0.1 0.1 0.4 0.3 0-0.2 0.1 0.2 0.2-3.1 0.8 2.8 0.1-3.5 0.2 3 0-0.7 0.1 0.4 0.2-1.1 0.3-2 0 4.7 0.1-3.9 0.8 1.1 0.1-1 0.5 1.4 0.1 1.3 1-0.3 0.3 0.3 0.1 0.4 0.2-2.2 0.4-1.1 0.1 4.4 0.1-2.5 0.1 1.7 0.1-3.4 0.2 2.8 0-1.7 0.4 2.7 0.4-1.2 0.4-1.2 0.2 1.8 0.5 0.4 0.2-3.3 0.2 1.4 0.3-2.4 0 0.4 0.4 4.5 0.2-2.3 0.1-0.6 0.2 1.4 0.1 1.6 0.2-0.8 0.2-4 0.2 2 0.2 1.5 0.7-4.3 0.1 2.8 1.3 1.1 0.3-3.1 0.2 1.2 0.4 0.8 1 2.1 0.5 1 0.4-5.6 0.8 5.6 0.8-0.7 0-4.6 2.3 4.3 0-1 0.2-1.4 2.7 2.7 1.4-4.1 0.4 3 2.2 0.1 -44 5.8 3.3 1.7 0.4-3.6 2.1 1 0.3 1.5 0.4 0.4 1.1-3.7 1.2 3.8 0.8 0 0-1.8 0.8 1.8 0.4-1.2 1.4-0.3 0.1 0 0.3-0.6 0.8-0.7 0.4-2.1 0.1 2.4 0.2 1.5 0.1-1.3 1 2.8 0-5.2 0.6 4.4 0-4.3 0.5 5.2 0.2 0.2 0.2-2.4 0.1-0.7 0 2.2 0.1-1.3 0.1-1.9 0.1 3.6 0.7-0.6 0-3.6 0.1 3.1 0.1-3.1 0.1 2.4 0.2-2.9 0.2 0.4 0.4 3.6 0.1-2 0 2.6 0.3 0.6 0-2.7 0.6-2.4 0.9 2.6 0.2-2.6 0.2 3.1 0-1.7 0 0.9 0.4 0.7 0-3.2 0.2 0.7 0 2.9 0.5-3.5 0.1 3.2 0.3 0.4 0-1.9 0.2 3.1 0.1-4.7 0.1 2.2 0.3 0.8 0-1.6 0 3 0.2-0.3 0.4-3.7 0.1 3.3 0.2-3 0-0.5 0.5 0.9 0.3 0.6 0.3 0.1 0.3-1.6 0.1 4.9 0.3-4.6 0.4 1.1 0.5 0.4 1.1 0.6 0.3-1.3 0.3-1 1.2 0.9 0 1.4 0.3 1.2 0.3-3.1 1.1 4.1 0.5 0.2 1.5-5.1 0.3 1.5 0.1 3.5 1.2-3.3 0.4 0.7 6.3-1.9 0.6 4.3 -36.7 4 0.5-2.1 0 3.9 0.3-5.2 0.2 1 1.8 1.4 1.4 1.6 0.8-0.1 0.6-0.4 0.2-1 0.3-2.2 0.9 0.8 0.1 4.7 0.1-2.8 0.9-1.4 0 3.9 0.4-2.4 0.3 0.5 0.3-0.2 0.3-0.3 0.8-2.2 0.5 2.7 0.1 1.4 0.8-4.7 0.1 4.2 0.1-3.3 0.1-0.6 0 2.3 0.1 1.5 0.2-4.5 0.4 2.2 0.2-0.9 0.2 2.1 0.2 1 0.1 0.8 0.4-0.5 0-1 0.2-1.7 0.2 3.9 0.2-2 0.2-2.1 0.3-0.9 0.4 1.7 0.1-0.8 0-0.6 0.4 4.8 0.3-5.1 0 2.3 0.2-0.6 0.1-0.8 0.6 1.3 0-1.1 0 1.5 0.1 0.3 0-0.8 0-1.3 0.1-0.2 0 2.5 0.1 1.7 0-4.5 0.1 2 0.2-2.8 0.1-0.4 0.1 4.3 0.4-2.9 0.1 0.7 0 1.9 0.1-2.8 0-0.2 0 2.7 0.1-0.8 0.3 2.5 0-3.9 0.2-0.7 0.2 3.6 0.1-2.4 0.1 0.1 0.1-1.6 0.2 0.1 0.4 5.1 0.5-1.9 0.1-2.3 0 3.6 0.1-1.3 0.3 0.1 0.5-2.9 0.5-0.4 0.2 0.9 0.2 0 0.1 1.9 0.1-0.1 0 2.1 0.1 0.3 0.1-3.6 0.3 3.6 0.4-3.2 0.3-1.4 0.3 4.5 0-3.7 0.6 1.5 1.4 1.4 1.4-3.9 0.7 0.5 1.5 0.8 4.4 3.7 -34.3 1.5 0.6-1.2 3.5 3.6 1.4-0.8 2.4-1.9 0.4 3 0.3-2.7 0 2.9 0.1-2.3 0.1-0.3 0.2-1.5 0.2 5.4 0.1-3 0.6-1.2 0.8 1.3 0.2 0.6 0.2 0 0.4-2.9 0.2 2.2 0.1 0.3 0.2 2.2 0.1-0.7 0-2.8 0-0.5 0 1.5 0.2 2.3 0-4.5 0.1 4 0-2 0.1-1.5 0.2 2 0.1 1.4 0-0.2 0.1 0.4 0.2-3.8 0 4.7 0.1-1 0-3.9 0.1 3.5 0.1-1.6 0 3.2 0.4-3.7 0.1 1.1 0.2 2.7 0.2-2 0.1 1.3 1.1 0.5 0.4-1.4 0.1-4 0 2.1 0.4 3.5 0.1-2.1 0-1.4 0 3.7 0.2-0.5 0.2-4 0.1 1.8 0-1.5 0.1 3.6 0.2-3.9 0 4.1 0.3-0.8 0.2-3.3 0.1 2.1 0-1.9 0.1 0.8 0.2 2.1 0.1 0.1 0.3-0.9 0.4-1.8 0.1 1.2 0.1 0.1 0.3 2 0.1-3 0 1.1 0-0.4 0.3-1.2 0.3 0.7 0.3 0.6 0.2-2 0.3 1 0.1-0.3 1-1.4 0.1 1 1.6-1.1 0.8 2.5 2-0.4 -22.7 4.6 4.6 0.3 2.4 0 0-1 0.1 1.1 2-0.3 1.6-1 0.8 1.3 0.3-1.1 1.2 0.7 0.4-0.3 0.4-0.6 1.5 0.4 0 0 0.2 0.9 1.3-1.1 2.3 0 6.9 0.6" fill="none" marker-start="url(#mg)" marker-mid="url(#mg)" marker-end="url(#mg)"/>
<path d="M228.1 94.2l-6.6 5.9 5.5 0 18.3 0 8.2 0 19.7 0 23.8 0 -3.8 5.5 -30.6 6.7 5.7 0.1 18.1 0 5.7 0 4 0.1 -44.2 9 6.6-2.2 34.1 2.2 -35.8 6 15.8 0 7.2-2.8 6.8-0.3 7.3 2.1 -32.2 3.2 0.6 4.7 2.7-1.9 20.4 1.3 10.1-0.6 3.1 0.7 -88.6 6.8 0.4-0.5 46.9 0.2 6.4-2.2 3.7-0.7 4.1 2.3 9.4-2.8 6.9 0.2 -76.2 7.7 12.4 1 32.5-2.4 22.3 2 8.8-1.9 3.6-0.5 0.9 0.4 1 0.5 4.4-2.2 0.1 2.7 -79.8 6.5 20.6-0.5 26.4 2.3 17-4.8 2.1 0.8 10.1 0.3 2.4 3.4 -101.2 4.7 3-1.3 33.3-0.8 32.6 2.2 10.7-0.9 7.5-2 1.5-0.3 4.1 1.4 4.4-1.8 0.7 5.2 -70.6 4.2 29.5-1.1 11.8-2.2 6.7 2.1 3.3 2.7 3.2-0.8 1.2-2.4 1.2 1.3 4.2-3.1 0.1 0.6 11.7-1.1 -39 9.8 7.3-2.7 1.5 3.8 1.9-0.9 3.9-2.5 4.9-0.6 3.1 3.1 2.4-0.6 4.5-2.4 1.4 2.9 0.9-2.1 -35.1 8.5 4.8-1.6 18.7-0.8 1.8 0.9 0.4 3.1 0.8-3 3.2 1.3 3.8 0 2.4-1.9 0.8-0.2 1.3-1.4 1.4 1.2 0.9 3.6 0.1-2.4 2.3 2.3 1.1-1.3 -93.6 2.7 45.9-0.1 7.8-0.1 15.6 4.4 6.1-3 15.8 0 0.3 0.1 4 2.3 -46.1 1.6 6.2 1.5 12.3 3.4 6.1-3.1 2.1-1.2 0.7 1.3 3.8-1.3 7.9-0.6 1.1 3.5 4.6 0.5 0.7 0.7 -96.4 2.7 44.5 2.8 6.1-2.1 12 2.6 19.2-4.5 0.1 2.1 4.9 2 4.3-4 5.9 2.9 -72.4 4.5 9.7 2.6 4.6 0.7 7-4.8 1.9 4.2 4.8-3.5 2.8 0.1 15.7 4.8 0.2-4 4.9 1.7 1.5 0 4.5 2.1 0.1-5.2 2.6 3.4 1 1.6 0.2-2.4 3-1.8 6.7 1.1 1.3 2.5 -45 6.6 4.6-2.3 2.9 0.5 8.2-0.7 6.5 0.3 0.5 1.4 1.8 1.3 11.6-5 2.6 0.3 2.7 3 3.2-2.4 -55.7 7.4 9.1 0.7 13.5 1.8 0.8-4.5 3.5-0.6 2.6 4.7 5.4-0.3 8.1-2 9.3-0.6 0.8-0.7 -21.9 5 21.8 1.8 1.4-1.6 1.5 4 -97.5 2.9 37.3 1.1 2.1 0.9 12-2.8 0.4 0.8 0.1 3.2 5.5-3.9 2.7 0.8 2.9-1.4 14.9 0.4 -29.3 5.3 8 3.4 0.5-3.3 1.8 3.5 0.9-2 1.5 2.7 1 1.3 12.5-5.6 6.8 2.2 9.7 3.3 5.9-1.3 0.3-3.7 0.3-0.3 -61.3 11.2 9.6-5.2 11.2 2 3.3 0.6 9.6 0.7 1.2 1.1 5.4-1.3 5-1 8.3 2.7 2.2-4.7 3.2 3.6 -48.6 4 3 0.8 7.3 1.6 1.5-4.1 6.2 4.8 -35 3.6 7-1.2 3.8 1.9 8.3-1.3 15.7 0.9 2-2.4 8.8-0.4 5.4 2.9 7.8 1.1 1.7 1.1 0.8-4.7 3.5 3.8 -50.2 5.5 0.6-2.3 0.2 2.8 9-0.4 4.6-2.8 1.7 4 2.6 0.2 10.5-3.2 0.2 2.4 16.3-0.5 1.9-1.2 5.7 1.2 -35.5 5 9.6 2.1 13.5-1.8 2.3-3.4 -28.5 5.9 4.2 2.2 6 0.1 7.8 0.9 10 0.9 3.2-0.9 2.9 1.9 0.1-3 -23.1 4.1 16.2 5.5 5.6-5.4 2.3 0.5 -100.6 8 51.8 0.2 3 1.2 15.3 0.5 11.1 0.7 5-3.1 0.1 2.6 2.9-3.3 8.1-0.3 3.9 3.9 -55.8 2.6 10.1 0 1.3 2.5 10.2-1.3 11.6 1.1 18.9-3.6 5.2 3.2 -41.6 6.3 16.1 0.6 4.4-2.8 6.7 1.4 4.8 2.4 5.6-5.2 -77.9 11.4 43.3-0.1 13.1-5.1 3.2 3.4 7.8 1.4 0.1-4.2 6.5 0.4 2.5 1.5 1.3-0.3 -17.6 3.9 7.2 4.2 -99.5 3.7 65.3-2.2 8.8 2.4 14.9 2.2 1.3-4 15.1 1.5 3.6 3.1 -86.8 2.8 55.3-1.1 11.7-1.2 4.4 3 14.5 2.4 1.1-5.2 4.9 5.1 -68.5 4.1 56.8-0.2 8.4 1.1 -44.3 1.9 30.7 0 0.8 1.2 -20.3 7.5 25 1.8 5.3-3.1 -32.8 6.9 4.2-1.8 19.3-0.5 0.5 1.5 6.5 0.4 2.1 0.8 2.6-1.6 3.3-1.3 1.7 2.5 -29.4 8.3 26-0.3 -60 3 30.6 3.2 10.2-2.3 7.5-1.6 -36.2 11.8 16.6 1.9 1.7 3.3 7.1-5 17.1-0.9 0.3 10 -33.3 4.1 12.8 0.6 10.2 0.2 2.1-2.5 -6.8 7.3 22.9 2.9 -93.8 2 34.5 4.7 22.1-3.1 8.6 10 4.1 3.1 5.8 2 11.3 0.3 -2.6 14.8 -34.7 4.4 37.1 8.8 -13.3 4 -57.1 14.1 76.4-1.8 -12.3 8.9 0.2-4.1 0.9 2.1 -17.3 3.5 11.2 1.8 9.3 8.3 0 11.7 -3 3.6 11.5 25.5 -7.6 16.8" fill="none" marker-start="url(#mb)" marker-mid="url(#mb)" marker-end="url(#mb)"/>
<path d="M505.5 116.3l34.4 10.6 -36.7 18.8 22.3-2.2 26.4 1 -39.2 5 -13.3 8.3 12.1-1.8 11 0.3 21.4-0.8 -44.3 9.3 3.1-4.2 -10 7 9 1.5 0.2-2.3 0.2 0.8 0.1 3.3 -7.2 2.8 3.9-2.1 4.6 3.6 4.3-0.7 18.7-2.2 9.7 2.2 -38.2 4 5.3 3.4 9.5-3.8 8.5 4.1 8.3-3.9 -36.6 8.2 0.7 0.4 0.3-1.7 22.6-2.1 -25.6 6.2 1.5 1 3.4-0.5 0.6 2.8 2.1 1.2 6.2 0.9 30.4-5.1 0.4 3.4 -44.5 7.2 0.3-4.4 6.5 2.3 6.9 2.2 17.4-4.8 5.4 4.9 13.4-0.5 -42.3 5.5 0.3-3.1 10.1 2.7 7.4-1.5 0.8 1.5 8-3.6 19.9 5.6 22.7-4.7 -74.5 5.2 5.6 5.4 7.3-5 10.3 3.8 8-4.1 7.5 4.4 1.2 0.2 9.6-5.1 13 5.5 24.3-4.5 -87.8 5.8 1.8 2 3.3-0.8 3.2 0.7 11.2 2.6 15-4.3 23.1 2.6 4.6-2.2 -63 9.9 8.5-4.1 4.1 1.2 3.9-1.9 8.1 5.1 7.1-1.9 -32 2.6 1.3 4.5 0.6-4 1 2.7 6.1 1.6 0.3-1.4 2.6-3.5 1 1.8 0.7 1.3 1.1 1.1 10.2-0.4 11.7-2.4 25.6 0.5 -60 4.2 2.9 4.8 0.1-3.9 1.9-0.6 6.7 1.5 2.5-0.8 10.2 4 12.1-3.2 21.7 0.8 89.7-1.4 -148.8 5 2.3 3 3-1.5 3-0.8 8 1.2 1.6-2 3.8 1.3 4.6 1.4 2.3-2.4 12.9 3.4 19.1 1.7 2.6-2.2 1.5-1.6 102.8 1.1 -165.1 8.1 0.7-0.6 1.7-0.7 0.3 1.6 2.1-5.4 1.3 3.8 2.9-2.2 1.5 3.2 2.2-5 6.3 1.9 1.6-1.4 1 3.7 8.4-2 -33.5 5.7 0.5-0.4 2-1.1 2.5-0.1 16.1 1.1 17.3-0.1 58.9 0.6 28.1 2.2 53-2.3 13.6-1.8 -186.1 11.3 1.7-2.6 4.7 1.7 0 1 0.6-3.2 16.4 3 20-1.7 18.9 0 87.6-3.1 23.3 5.3 -179.7 1.5 1.2 2.7 1.3-0.7 0.4 2 0.2-0.4 2.2-1.1 1 1.2 4-4.1 1.1 4.3 2.8-2.9 9.3-1 3 4 2.4-3.2 17.1 3.1 38.2-3.1 0.8 2.9 128.1 0.6 -211.4 5.3 0.2-1.2 0 1.6 0.1-2.1 2.2 0.1 0.7 0.2 0.5-3.3 0.6 0.2 2.1 4.4 3.8-3.1 2.5 3 4.4-4.6 19.8 4.8 6.2-0.2 26-0.7 -70 6.2 0.8 0.8 4.4-2.3 2.1 0.4 2.8-0.8 0.6-0.2 4.6 0 1.5 3.3 19.8-1.9 7.9 1.9 68.4-3.6 -113.2 5 1.1 5.2 0.1-5.1 2.1 0.4 1.4 3.3 8 0.7 2.2-0.2 2.4 0.9 75.4-3.8 -93.2 8.1 3.3-0.2 5.2-1.3 2.7-1.9 31.8 3.7 4.1-3.2 -46.2 7.9 8.1 2.4 0.9 0.4 0.3-5.2 22.7 2.5 9.3-1.3 20.8 1.4 -62 7.9 3.7-3.1 0.5 2.1 1.2 1.5 1.8-1.4 0.1-3.8 0.5 3.4 1.7-3 0.6 0.7 1.8-1 1.6 4.5 11.3-1.9 3.2 1 3.6-1.4 0.7 1.6 19.9-3.7 -51.7 9.1 17.6-1.3 7 2.8 58.4-2.7 -83.4 5 0.8-1.4 5.7 4.7 0.1-1.2 0.7-1 0.1-1 2.7 0.7 1.9-1.1 4.2-0.7 0.7-0.6 3 4.3 15-3 14.7 4.5 2.7-1.9 -42.4 5.4 5.2 2.2 0.6-2.7 13.2 2.3 5.8-0.6 25.5-3.8 23.7 2.8 10.1-0.7 -90.6 5.5 5.8 3.3 1.7-0.7 2.8-2.4 1.2 2.8 5.4-0.1 14.9-5.3 5 1.4 1-1.2 1.3 4.6 2-3.3 -44.1 7.2 11.2-2.1 4.1 1 1.6 3 4.8 1.3 0.3-3 10.5-1.9 35.1 4.7 -66 4.2 31.4 0.3 5.5 1.7 12.9-2.6 -51 8.5 4.2-2.7 15-2.8 4.6 5.6 7.8-0.1 2.7-1.4 11.4-0.6 1.6-2.5 19.4 3.9 -61.3 1.6 1.4-0.6 7.6 1.5 1.5-0.7 12.6-0.9 -27.4 9.2 0.8-1.8 15.3 4.4 0.2-2.7 -14.7 8.4 16.3-3.9 12.1 1.9 44.7 0.7 -61.3 6.2 0.9-4.2 6.5 7.4 7.4-1 22.3 0.1 10.1 3.7 5.1-4.3 5.8 4.9 45.7-1.2 -116.9 4.8 23.2-0.7 7 1.8 6.5 2.1 -38 4.3 91.8 4.1 -78.7 3.8 0.8 0 2.5 5 62-0.6 -75.9 2.9 7.2 4 4.3-5.3 1.8 1.3 18.4 4.2 21.5 1.9 23.2 0.1 -77.2 8.8 5.7-2.9 4.9-1 58.5 5.3 15.2-2.9 -81.2 6 2 1.3 -3.2 8.1 -5.2 16.6 2.1-3 5.6 10 2.5-3.1 31.2 0.5 -9.6 16.5 -28 9 40 17.2 -11.8 12.2 -26 2.4 -4.3 8.9 1.2 8.9 5.3 7.7 11.5-1 -3.9 7.6 -9.3 11.4 -6.1 4.3" fill="none" marker-start="url(#mr)" marker-mid="url(#mr)" marker-end="url(#mr)"/></g>
<text x="165.3" y="86" font-size="16.3" fill="#2f5688" stroke="#2f5688">FBLN5</text>
<text x="165.3" y="105.4" font-size="16.3" fill="#2f5688" stroke="#2f5688">FILIP1L</text>
<text x="185.9" y="123" font-size="16.3" fill="#2f5688" stroke="#2f5688">SLC25A4</text>
<text x="251.9" y="94.2" font-size="16.3" fill="#2f5688" stroke="#2f5688">PAM</text>
<text x="291.3" y="85.7" font-size="16.3" fill="#2f5688" stroke="#2f5688">ATP8B2</text>
<line x1="345.2" y1="100.5" x2="297.2" y2="110" stroke="#2f5688" stroke-width="1.1"/>
<text x="345" y="99.8" font-size="16.3" fill="#2f5688" stroke="#2f5688">GEM</text>
<line x1="313.2" y1="120.2" x2="291.7" y2="112.2" stroke="#2f5688" stroke-width="1.1"/>
<text x="315.4" y="127.2" font-size="16.3" fill="#2f5688" stroke="#2f5688">HSPA2</text>
<line x1="217.5" y1="158.5" x2="266.7" y2="115.2" stroke="#2f5688" stroke-width="1.1"/>
<text x="162.3" y="171.4" font-size="16.3" fill="#2f5688" stroke="#2f5688">MSRB3</text>
<line x1="548.9" y1="81.7" x2="539.9" y2="124.5" stroke="#CC0000" stroke-width="1.1"/>
<text x="551.9" y="85.9" font-size="16.3" fill="#CC0000" stroke="#CC0000">NCKAP1L</text>
<line x1="524.5" y1="103.8" x2="525.5" y2="141" stroke="#CC0000" stroke-width="1.1"/>
<text x="497" y="101.7" font-size="16.3" fill="#CC0000" stroke="#CC0000">CCR1</text>
<line x1="588.2" y1="110.7" x2="553.5" y2="143" stroke="#CC0000" stroke-width="1.1"/>
<text x="591" y="114.4" font-size="16.3" fill="#CC0000" stroke="#CC0000">TTYH3</text>
<text x="457.3" y="119.1" font-size="16.3" fill="#CC0000" stroke="#CC0000">GMIP</text>
<line x1="583.2" y1="141.7" x2="545.5" y2="155" stroke="#CC0000" stroke-width="1.1"/>
<text x="582.8" y="142.1" font-size="16.3" fill="#CC0000" stroke="#CC0000">C5AR1</text>
<text x="400.6" y="138.6" font-size="16.3" fill="#CC0000" stroke="#CC0000">MAPKAPK3</text>
<text x="439.9" y="155.2" font-size="16.3" fill="#CC0000" stroke="#CC0000">MGAT1</text>
<line x1="569.8" y1="164.4" x2="513" y2="156.3" stroke="#CC0000" stroke-width="1.1"/>
<text x="571.2" y="169.7" font-size="16.3" fill="#CC0000" stroke="#CC0000">NRROS</text>
<text x="424.5" y="175.2" font-size="16.3" fill="#CC0000" stroke="#CC0000">HPCAL1</text>
<line x1="586.4" y1="194.3" x2="501" y2="165.3" stroke="#CC0000" stroke-width="1.1"/>
<text x="590.6" y="202.6" font-size="16.3" fill="#CC0000" stroke="#CC0000">PLA2G15</text>
<line x1="299.4" y1="697.9" x2="299.4" y2="66.4" stroke="#000" stroke-width="2.2" stroke-dasharray="6.4 11.8" stroke-linecap="round"/>
<line x1="490.8" y1="697.9" x2="490.8" y2="66.4" stroke="#000" stroke-width="2.2" stroke-dasharray="6.4 11.8" stroke-linecap="round"/>
<line x1="160" y1="590.4" x2="729" y2="590.4" stroke="#000" stroke-width="2.2" stroke-dasharray="6.4 11.8" stroke-linecap="round"/>
<rect x="159" y="66.4" width="570" height="631.9" fill="none" stroke="#333333" stroke-width="1.3"/>
<line x1="203.7" y1="698.3" x2="203.7" y2="704.8" stroke="#333333" stroke-width="1.4"/>
<text x="203.7" y="724.6" text-anchor="middle" font-size="22.0" fill="#4D4D4D" stroke="#4D4D4D">-2</text>
<line x1="395.1" y1="698.3" x2="395.1" y2="704.8" stroke="#333333" stroke-width="1.4"/>
<text x="395.1" y="724.6" text-anchor="middle" font-size="22.0" fill="#4D4D4D" stroke="#4D4D4D">0</text>
<line x1="586.5" y1="698.3" x2="586.5" y2="704.8" stroke="#333333" stroke-width="1.4"/>
<text x="586.5" y="724.6" text-anchor="middle" font-size="22.0" fill="#4D4D4D" stroke="#4D4D4D">2</text>
<line x1="152.5" y1="670.3" x2="159" y2="670.3" stroke="#333333" stroke-width="1.4"/>
<text x="147.9" y="677.1" text-anchor="end" font-size="22.0" fill="#4D4D4D" stroke="#4D4D4D">0.0</text>
<line x1="152.5" y1="516.8" x2="159" y2="516.8" stroke="#333333" stroke-width="1.4"/>
<text x="147.9" y="523.5" text-anchor="end" font-size="22.0" fill="#4D4D4D" stroke="#4D4D4D">2.5</text>
<line x1="152.5" y1="363.2" x2="159" y2="363.2" stroke="#333333" stroke-width="1.4"/>
<text x="147.9" y="370" text-anchor="end" font-size="22.0" fill="#4D4D4D" stroke="#4D4D4D">5.0</text>
<line x1="152.5" y1="209.6" x2="159" y2="209.6" stroke="#333333" stroke-width="1.4"/>
<text x="147.9" y="216.4" text-anchor="end" font-size="22.0" fill="#4D4D4D" stroke="#4D4D4D">7.5</text>
<text x="335.4" y="762.1" font-size="25.6" stroke="#000">log</text>
<text x="371.6" y="766.8" font-size="18.4" stroke="#000">2</text>
<text transform="translate(383.3 751.1) scale(1 1.245)" y="6.58" font-size="25.6" stroke="#000">(</text>
<text x="393.7" y="762.1" font-size="25.6" stroke="#000">Fold Change</text>
<text transform="translate(542.3 751.1) scale(1 1.245)" y="6.58" font-size="25.6" stroke="#000">)</text>
<text transform="translate(97.6 456.7) rotate(-90)" font-size="25.6" stroke="#000">log</text>
<text transform="translate(102.3 420.5) rotate(-90)" font-size="18.4" stroke="#000">10</text>
<text transform="translate(86.6 398.6) rotate(-90) scale(1 1.245)" y="6.58" font-size="25.6" stroke="#000">(</text>
<text transform="translate(97.6 388.1) rotate(-90)" font-size="25.6" stroke="#000">P Value</text>
<text transform="translate(86.6 296.5) rotate(-90) scale(1 1.245)" y="6.58" font-size="25.6" stroke="#000">)</text>
<text x="764.4" y="327.7" font-size="21.6" stroke="#000">Group</text>
<circle cx="783.2" cy="362.5" r="2.95" fill="#2f5688" fill-opacity="0.5" stroke="#2f5688" stroke-opacity="0.5" stroke-width="1.8"/>
<text x="811.8" y="369" font-size="21.6" stroke="#000">Down-regulated</text>
<circle cx="783.2" cy="399.4" r="2.95" fill="#BBBBBB" fill-opacity="0.5" stroke="#BBBBBB" stroke-opacity="0.5" stroke-width="1.8"/>
<text x="811.8" y="405.8" font-size="21.6" stroke="#000">not-significant</text>
<circle cx="783.2" cy="436.5" r="2.95" fill="#CC0000" fill-opacity="0.5" stroke="#CC0000" stroke-opacity="0.5" stroke-width="1.8"/>
<text x="811.8" y="443" font-size="21.6" stroke="#000">Up-regulated</text>
<line x1="247.9" y1="983.5" x2="247.9" y2="1624.5" stroke="#EBEBEB" stroke-width="1"/>
<line x1="383.2" y1="983.5" x2="383.2" y2="1624.5" stroke="#EBEBEB" stroke-width="1"/>
<line x1="518.5" y1="983.5" x2="518.5" y2="1624.5" stroke="#EBEBEB" stroke-width="1"/>
<line x1="653.8" y1="983.5" x2="653.8" y2="1624.5" stroke="#EBEBEB" stroke-width="1"/>
<line x1="142.9" y1="1499.9" x2="738.2" y2="1499.9" stroke="#EBEBEB" stroke-width="1"/>
<line x1="142.9" y1="1308.7" x2="738.2" y2="1308.7" stroke="#EBEBEB" stroke-width="1"/>
<line x1="142.9" y1="1117.5" x2="738.2" y2="1117.5" stroke="#EBEBEB" stroke-width="1"/>
<line x1="180.2" y1="983.5" x2="180.2" y2="1624.5" stroke="#EBEBEB" stroke-width="2"/>
<line x1="315.5" y1="983.5" x2="315.5" y2="1624.5" stroke="#EBEBEB" stroke-width="2"/>
<line x1="450.9" y1="983.5" x2="450.9" y2="1624.5" stroke="#EBEBEB" stroke-width="2"/>
<line x1="586.2" y1="983.5" x2="586.2" y2="1624.5" stroke="#EBEBEB" stroke-width="2"/>
<line x1="721.5" y1="983.5" x2="721.5" y2="1624.5" stroke="#EBEBEB" stroke-width="2"/>
<line x1="142.9" y1="1595.5" x2="738.2" y2="1595.5" stroke="#EBEBEB" stroke-width="2"/>
<line x1="142.9" y1="1404.3" x2="738.2" y2="1404.3" stroke="#EBEBEB" stroke-width="2"/>
<line x1="142.9" y1="1213.1" x2="738.2" y2="1213.1" stroke="#EBEBEB" stroke-width="2"/>
<line x1="142.9" y1="1021.9" x2="738.2" y2="1021.9" stroke="#EBEBEB" stroke-width="2"/>
<g clip-path="url(#cb)"><path d="M500.1 1014l-92.1 129.6 -1.1 8 14.2 1.8 -18.6 12 94.2 5.4 -72.1 4.7 65.8-1.3 0.8 2.1 -85.8 6.4 17.6 0.9 -25.4 5.2 5.1 1 6 0.5 9.9-3.8 71.4 2.5 -88.2 3.2 17.2 2.6 4.5 1.6 58.5-4.7 8.4 4.6 7.6-1.2 -92.7 2.5 16.5 2.8 2.6 0.7 58.6-0.9 5.2-0.6 13.5 2.4 -95 5.3 12-0.8 60.4 0 2.6-1.2 7.1-1.6 0.7 2.8 2 1 -92.5 3 0.8-1.2 0.5 5.1 6.6-0.8 4-2 85.7-1 -96.4 8.2 8.5 0.5 4.9 0.2 0.3-2.2 9.2-0.5 58.6 2.1 0.6-2.5 0.1 3.2 -85.2 3 20.6 4.4 60-0.2 7-0.5 0.3-4.8 0.7 0.8 15.2 3.1 -102.4 4.8 0.8 1.8 5.1 0.3 7.5-1.7 7-0.9 4 2.1 54.7-1.2 -53.9 8.1 1.3-0.8 58.7-1.1 1.2-0.2 7.5 2 12.3-3.2 -101.8 4.8 5.5 1.4 2.2 1 12.2 2.2 1.8-0.5 71.6 0.1 2.3-4.6 6.1-0.7 0 4.9 -97.2 2.9 2.3 1 1.1-1.9 1.2 3.6 2.4-3.4 1.6 3.9 4.6 0.1 0.5-3.8 0.4 0.6 3.6 2.5 49 0.9 24-3.2 -101.2 9.3 4.9-4.2 7.3-1.2 6.9 0.3 3.7 2.5 2.6 1.6 51.7-1.7 3.2-2.6 1.9 2.4 4.3 0 2.9-1.2 6.9 4.4 1.4-2.2 -88.8 4.4 4.2 0.2 3.2 3.2 1.7-4.4 3.2 1.1 2.1-1.6 4.1 2.8 0.3 0.9 0.9-0.2 0.8 0.2 51.6 0.7 8.7 0.5 3.5-2.5 -81.1 6.9 0.8-0.9 6.5-1 0.7-1.8 8.4 4.6 49.1-1.5 1.8-1.6 14.4 1.8 4-3.3 1.4 2.3 3.4 2 -79 6.9 51.9-3.2 2.2 0.1 0.4 3.8 2.5-2.9 2.9 1.9 6.3-3.8 2.1 4.1 1.6-4.8 11.1 2.9 1.2 0 0.7-1.8 0.3-0.9 -102.7 10.3 0.6-2.7 3.6-0.4 0.4 1.1 4.5 1.1 7.6-1.5 2.5 0.3 1.6 2 0.1 0.4 1.2-3.5 0.2 0.4 0.6 3.1 47-2.9 3.2 2.1 1.2 1.1 0.8 0.4 6.8-4.4 2 2.2 1.2-1.4 2-0.1 0 2.7 2.4-1.1 2.5 1 4.2-4.3 0.2 0.2 4.9 2.7 0.6 2.5 0.7-0.5 0.1-5 0.4 4.5 -105.3 2.2 1.3 0.7 2.8 3.3 2.2-3.5 2.7 3.6 1.3-4.9 4.4 4.7 0.4 0.3 1.2-4.2 0.1-0.3 0.4-0.6 1.8 1.7 3.3 1.2 3.8-0.1 2.4-1 0.4-1.6 44.1 4.6 0.4-1.7 1.2-3.3 1.7 3.2 5 1.1 1.7-2.6 3.6 0.2 1.3 2.7 4.9 1 4.3-4 0.9 3.3 2.3 0 0.5-0.2 2.5-3.8 1.4 3.6 -103.4 2 1.2 3 1.6-1.6 1.5 3.4 3.5-1.5 1 1.8 2.5-5.1 0.3 2.5 4 1.7 0.4-3 0.3 0.4 1.3-0.3 2.4 3.4 1.2-1.4 53.9 1.3 2.7-0.8 15.5-1.9 4.3 0 4.4 1.1 2-2.1 -107.1 4.9 1.7 1.2 0.9 3.5 5.9-1 4.3 1.6 4.6-1.9 6.9-3.6 4.3 0.2 44 4.1 6.1 0.8 2.8-0.3 5.4-1.5 0.1-2.4 3.1 1.9 2.1-0.4 1.5 3 7.2 0.2 0.8-4.6 0.4 3 4.3-2.7 -104 5.2 5.9 2.5 4.4 1.5 0.8-3.9 0.9 2.9 0.5 0.8 4.5-2.5 0.6 0.5 0.7 0.7 1-2.4 0 4 3.4-1 0.5-1 1.7-1.2 1.5-1.3 5.4 1.1 40 4.1 2.1-1.5 3.4-0.6 0 2.2 0.3-5 0.4 3.4 2.3 1.5 8.1-2.5 4.1-2.2 2.1 4.8 0.8-0.7 9.6-2.5 0.4-1.8 -106.6 10.1 1.6-4.5 0.1 1.1 3.7 4.3 0.9-3.7 2.1-0.5 3.8 1.1 14 0.4 0.7 0.5 3.9-3.2 2.9 0.3 37.1 1 0.7 3.4 2.6-1.3 0.2 0.8 0.1-2 6.7 0.4 0.2 1.2 2.2-2 0.5 1.1 1 1.5 0.6-0.8 2.4 1.4 0.4 0.1 0.2-1.5 2.3 2.1 3.4-2.8 0.7 1 0.4-1.6 0.2 1.3 0.5-2.8 5.9 0.1 0.2 1.8 1.9-2.3 0.5 1.8 0.5 3.1 1.5-3 -105.6 8.4 2.6-0.1 0.9-1 0.1 0.9 0-0.9 0.6-0.5 0.4-1.4 3.9-0.9 3.8 1.6 0.4 0.1 1 0.7 0.9 1.7 2.6-1 1.6-0.4 1 0.4 0.6-3.2 0.5 0.7 4.1 0.3 0 3.2 2.3-4.1 3.1 3.2 43.9-1 3.1 2.4 2.5-0.1 1.5-2.1 2.2 2.5 1.5-5 3 4.8 1.7-5.2 10.3 3.8 1.4 0.5 3.5-1.2 -104 3.1 0.6 3.3 2.2-2.2 3.8 1.4 3.2 0.5 2.5 0 3.9-2.5 0.1 0.4 0.3 1.9 0.4 0.4 0.5-0.3 0.2-2.1 1.6 3.9 2.1 0.4 1.3-1.2 0.2-1.2 8.3 1.8 1-2.5 0.2-0.3 0.8 0 37.1 1.7 2.1 0 0.1 1.5 0.5 0.4 3.3-3.9 0.8 3.3 0.8-3.4 3.6 2.9 2.5 1.1 0.4-5.4 0.3-0.3 0.3-0.1 1.2 1 7.6-0.8 0.8 0.5 0.5 4.3 1.8-4.3 4.4 4.3 0.3-3 0.2-1.6 -104.9 8.1 1 0.4 1.2 0.9 2.6-4 0 2 0.3-2 1.9 5.2 2.8-0.7 1-2.9 1.3 4 1.6-2.5 2.1 0 1-2.7 0.5 5.1 0.7-5.2 0.6 3.1 0.2 2 0.5-2.5 1-1.4 2.8-0.4 2.4 1.1 4.3-0.8 1.4-0.1 0.4 1.8 1.2 2.3 2.6-2.1 0.8 1.5 0.9-4.3 0.9 0.9 32.3-1 1.5 3 0.8-2.2 1.8 1.2 0.1 1.1 1.5-0.6 1.2 1.5 1.3-1.1 3-2.3 0.5 0.7 0.2 3 6.7-3.2 3.3 2.9 0.8-3.8 0.4-0.6 0.2 5.7 0.5-4.4 2.4 1.3 0.3 2.6 0.3-4.2 3 0.2 0.3 4.8 0.5-5.2 0 3.6 1.7 1.3 1.1-2.3 1.7 2.4 0.8-4.5 -103.2 8.7 0.5-1.1 0.7-2.5 3.1 0.8 0.2 4.6 0.4-2.4 0.2-1.6 0.5 4 2.1-2.2 0.1-3 0.8 0 1.5 2.3 0.2-0.1 0.1-0.5 2.4-2.2 7.8 2.5 0.9 1 5 2.3 0.5-2.2 1.3-0.3 0.2-0.2 3.7 0.7 1.5 0.2 35 0 0.5-1.7 3.1 2.3 0.3-0.4 2.5 0.5 0.5-4.7 1.4 2.9 0.1-0.3 1 0.9 6.4-0.7 0.2-1.4 0.8-1.1 2.8 1.5 1.1 1.4 1.3-0.5 1.1-0.4 3.4 1.4 0.5-0.3 2.2-2.2 0.8 3.2 1.4-4.3 0.7 2.6 2 1.4 0.8-2.3 -106.4 8.2 0.5 0.5 1.3-1.3 0.4-1.5 0.8 3.6 1.2-4.8 0.3 4.2 1.2-4.1 0.9 1.3 0.2-0.6 0.1 3.5 0.1-0.2 0.7-0.3 2.2-2.5 1.4-1.1 0.7 3.5 1.4 1.5 0.4-3.7 5.1 2.5 2.3-3.3 4.2-0.9 0.5 1.4 1.3-0.4 1.1-0.1 3-0.5 1.6 2.7 0.5 0 0 2.2 0.1-5.4 0.3 2.6 2.4 2.4 2.5 0.2 0.6-0.5 29.7-4.5 0.6 2.7 0.8-1.4 0.7 2.8 0.2-1.4 0.3 0.5 0.2-1.6 0.9-0.2 1.2-1.1 1.5 0.8 2.3-1.1 0.8 4.2 2.3-2.6 0.4 3.7 4.2-5.4 1.3 5 1.2-5.2 0.3 5.4 0.4-1.3 0.1 0 0-4 0.3 1.6 2.5 0.4 3 2.2 0.3-4.3 1.8 0.7 1.5 5 0.2-4.1 1.6 1 0.5-1.5 1.6-0.4 0.3 2.5 0 1.2 1.5-0.4 0-2.8 1.1 1.4 2 2.3 -106 3.3 0.4-2.3 0.7 1.8 1.1 0.1 1.6-0.3 0.1 2.1 0-2.3 1.7-0.6 3.1-0.7 1.2 4.3 0.2-2 2 0.8 1.8-2.1 1.6 3.2 0.8-2.7 0.2 1.5 1.7 1.2 2.8-3.7 1 0.2 3.2 4.8 0.1-2.5 0.5 0.3 0.7 0.7 0.7-2.5 1.3 0.6 2.6-1.4 1.2 3.5 0.7-2.1 1.3 0.3 0.2 2 0.2-1.7 1.7 1.7 0.1 0.2 0.9 0.5 1-4.5 30.1 0 0.5 4.3 0.4 0.9 2.2-2.5 0.5-1.3 0.2 1.2 2.1-1.8 2.4 3.2 1.7-2.8 0.4-1.4 3.8 4.4 1.7-3.1 1.8 1.2 1.2-2.8 0.9 0.5 0.1 1.6 0.4 2.6 1.3-0.4 3-3.7 0.8 0.9 1.8-0.4 3 4.5 0.5-5.6 0 3.6 1-3.2 0.3 1.3 3.2 2.4 0.3-1.6 1.3 1.1 -106.4 6.2 0.6-0.3 2.9-2.3 0.2 1.4 4.4 1.4 1.6-3.1 0.4-0.7 0.4 4 1.4-0.7 3-2.9 1.4 0.8 5.3 1.5 1 0.5 1.1-1 1.1 0.6 1.6 1.5 0.7-0.6 0.7-2.4 2.6-0.3 0.2 1.4 0.1-1.2 0.3 1.2 1.1 2.2 0.6-2.7 0.1 2.6 3.7-1.6 2.2-1.4 0.3 3.8 28.4-3.5 1.3 0.4 0.8 1.9 0.5-4 1.1 4.3 0.2-1.3 0-0.9 0.5 3.2 0.3-3.6 2 2.1 1.1-0.7 0.4-1.8 0.8 1.1 0.4-2.1 0.5 0.9 0.3 0.8 0 1.8 0.4 0.1 2.7-2.5 0.6 1.8 0.1-1.1 2.2-0.2 1.2-2.2 0.5 1.3 0.7 3.4 0.3-4.4 3.3 2.1 0.1-2.3 2.9 4.7 0.7-1.9 5 1.5 1.4-3.5 0 4 0.6-4.5 0.1 2.5 0-1 0-1.4 0.3 4 0.8-1 1.2 1.8 0.4-1.6 2.1 1.4 0.4-2.9 1.6-2 0.9 3.1 -107.9 8.3 0.4-2.7 0-0.4 1.5 1 1.1 0.7 0.2 1.5 2.2-2.5 0.7 1.6 0.5-4.3 1.4 1.2 3-1.2 0.2-0.7 0.5 4.6 0.7-4 0.4 4.3 1.4-2.7 0.7 0.3 1.3-0.1 1-2.4 1.7 1.1 0.7-0.6 0.1 2 4.9 3.4 3.2-3.7 0.3 2.7 3.1-1.6 1-1.7 0.4 2.2 0.3-0.6 0.7 2.6 0.5-2.9 0.7-1.3 0.8 3.9 0 0.2 4.8-2.3 0.1 2.4 0.1-2.5 1.5-1 24.4 0.3 0.9 2.8 0.2-3.8 1.2 3.3 0.8-3.3 1.5 3.8 0-5.2 1.2 3.7 1.2-1.4 2.2 2.8 0.1-0.2 0.6-0.2 1.2-0.7 0.8-3.8 0.1 0.2 2.7-0.6 0.2 4.4 0.9 1.1 0.2-2.7 0.2-1.9 0.1 1.9 0-0.4 1 1.9 0.4-2.5 1.1 2.4 0.2-1 0.5-3.2 0.2 0.1 0.5 2.8 1.2 2.2 0.1-3.1 4.1 2.7 0.4-3.9 1.9 4.5 0.9 0.2 1.6-4.1 0.2 1.9 1.3 1.1 1 1.4 3.5-3.3 0-0.1 4-2 -106.4 10.3 0.4-3.1 1.8 0 1.4-1 0.6 2.4 1.4 0.1 0.9-0.7 0.5-0.1 0.3-0.1 1.6-0.2 0.3 1.9 2.3 0.1 0.4 0.7 3.3 0.1 0.5 0.4 0.7-2.3 0.7 1 0.5 0.6 0.1-2.2 1.6 0.5 0.1 0.7 0.3-1.5 0 3.3 2.2-4.4 0.6 2.6 3.3-2.2 0.9-1.3 2.8 3.5 0.9-2.8 2.4 0.2 1.6-0.8 1.1 2.8 0.7-2.6 0.4 1.4 1.5 1.5 1.3-1.6 1 2.3 0.2 1.7 0.5-1.1 1.1-2 0.1-0.4 23.4 2.8 1.6-4.9 0.7 2.1 1.2 0.7 0.8 1.7 2.5-1.4 0.5-2.5 2.9 1.5 0.2-0.8 0.8 0.6 1.2-1.2 0.4 2 0.8 2.3 1.1-0.2 0.7 0.5 1.5-2.5 4.5 0.7 0.1-3 1.2 1.4 0.2 3.7 0.7-4 1.5-0.4 0.3 3.6 0.4-1.6 0.2-2.9 1.1 1.6 0.1-0.6 0.8 3.9 0.8 0 0.6-5.1 0.4 0.9 1.7 4.3 0.6-0.9 0.4 0.6 2.6-1.4 1.2-0.2 0 0.4 1.6-1.6 0.2-1 3.5 3.5 -107.8 1.7 1.6 3 0.8-2 2.4-1.5 0.2 0.5 0.1 5 1-4.1 1.7 3.4 0.1-2.5 0.2-2.1 1 4.4 1.1-2 0.6 3.1 2.4-2.3 0.3 0.9 2.6-3.4 0.1 1.7 1.3-1.8 6-0.7 1.9 2.9 2.3-0.9 0.9 1.1 0.6 2.2 0.1 0 1.1 0.6 1.1-3.7 0.3 0.5 2.3 1.1 0.1 0.3 0.4-1.9 0.8 0.9 0.6-1.5 0.4 1 1.2-1.3 2.1 4.1 1.2 0.2 1.3-3.5 0 1.1 23 1.7 0.3-4.5 0.3 3.5 0.2-2.8 0.6 1.2 0.4 0.3 0.1 1.7 0.9-0.7 0.2 1 0.5-4.5 0 3.1 0.2-1.5 0.1 1.9 0.6 1.3 2.9 0.2 1-2.4 0.2-2.7 0.5 2.3 3.1 1.1 0.3-3.3 1 4.3 0.8-2.9 1.6 0.2 0.3 2.7 1.3-4 0.5 1.8 0.1 0.5 1.8 1.7 1.1-3.6 1.1-0.3 2.5-0.1 0.2-0.3 0.5-0.2 0 2.3 0.6 2.9 0.5-1.8 0.4 0.4 0.1-0.9 0.5-0.4 0.6 3 2.5-2.1 0.3-0.6 0.9-2 0.5 4 0.1 0.8 0.3 0.2 1.7-0.8 0.1-1.2 0.9 0.3 1.6 0.8 1.7-2 1.4-2.2 0.3 1.7 0 2.8 2.2-5.1 -107.3 8.8 0.4 2.4 1.3-2.4 2.5-2.8 3.7 2.4 0.3 1 0-2.4 0.4-0.6 0.7-0.5 3.1 5.3 1.7-0.8 0.4-2.4 0.1 0.6 1.7 0.4 0.1 2.6 0.1-4.8 0.7 2.7 1.1-2.4 0.2-0.7 0.4 0.4 0.1 1.5 1.4-0.7 0.3-1.2 1.3 0.2 1.1-0.3 1.2 1.9 0.2 1.7 0.1-1.2 1.8 3 1.4-4.6 0.1 4.5 1 0 1.3-1.2 0.6-0.7 2.1 1.2 1.3-0.8 2.8 0.6 0.2-3.1 0.5-1.1 0.6 0.3 0.5 0.8 2.8-0.7 1.2 4.2 1.2-0.6 21.5-3 0.1 3.1 0-0.4 3.4-1.9 1.5 0.8 0.5-0.3 1.5 2.6 1.4-2.9 1.5 0.4 0.2 2.4 1.6 0.6 0.6-5.5 0.4 1.5 1.1 2.1 0.2-2.5 0.3 2.6 0.4 1 1.2-3.2 0.7-1.1 2.1-0.4 0.5 1.9 1.5 1.6 1.6-1.2 1.7-1.4 0.1 0.7 0-1.3 0.2-0.7 3.5 1.9 0.1-1.7 0.1 5.5 3.3-3.8 0.1-1.4 0.6 3.8 1.6 1.2 1.5-1.4 0-1.4 0.4 2.6 0.2-4.3 2.9-0.4 -104.2 11 0.9-2.5 1.4-0.3 0.5 1.8 1.9-2.3 0.1-1.1 0.8-1.1 0.6 4 0.7 0.7 0-3.1 0 3.6 0.5-5.3 0.6 4.4 0.6-0.2 1.9-3.1 0.5-0.8 3.6-0.3 0.5 5.2 1.5-3 0.5-1.5 0.1 0 0.1 0.5 0.2 0.1 1.9 3.4 0.9 0 0.4-4.8 0.2 5.4 2.2-0.8 0-3.5 0.4 0.1 1.8 1.4 1.4-1.2 0.9 0.5 1.4 0.1 0.7 3.6 0.5-2.5 0.7 0 0.4 2.8 6.8-1.2 0.4 0.2 0.5-0.4 4.1-4.2 1 3.9 20.4 0.9 2.3-3.2 0.1 0.2 0.2-1.2 0.3 3.4 0.1-3.7 1.3 4.8 0.1-1.9 0.6 2.2 0.3-2.9 0.2 0.6 0.7-2.2 0.4 1.6 0.4-1.1 0.4 0 0.2-1.6 1.7 0 0.4 4.5 0.2 0.8 1.8-1 0.9-4.4 0 4.4 0.1-4.4 1.1 0.3 3.7-0.3 0.1 2.5 0.8-1.4 1.5 4.5 1.3-2.1 0-0.6 0.4 0 1-0.9 1.3-0.2 1.1 2.6 0.2-3.9 0.7 4.2 0.4 1.2 0.3-3.7 0.2 3 1.4-0.8 6.1-4 2 3.5 1.2-1.9 0.7 1 3.3-1.2 0.4 0.7 0.5 2 0-1.2 0.4 1.6 -107.6 1.3 1 1.1 0.5 0.5 0.2 1.4 1.8-0.7 0.4 1.4 1.3-3.1 0.4-0.6 0.1 5.2 3.5-1.4 1.7 0.2 0.1-0.9 0.3-2.1 0.7 0.9 0.7 1.6 0.4-3.3 0.3 3.7 2-1.4 0.1-0.5 0.8-1 1.1 4.7 0.2-1.5 0.8-1.3 3.2-0.4 0.8 0.2 2.6 1.2 0.3-0.5 0.1-2.6 0.4 2.2 0.9-0.8 1 0.4 0.3-2.1 0.5 4.4 0.1-2.7 0.6-1.3 0.2 0.4 0.1-0.4 1.3 3.9 1.7 1 0.5-3.1 1.3 1.6 0.1-0.8 1.3-3.5 0.3 4.6 0.5 0.5 0.8-3.9 0.2 4.1 0.2-1.9 1.8-2.9 0.8 3.9 1.6-2 0.5 2.5 3.4-4.9 18.8 4.4 0.5-3.6 0.9 2.1 3.9-2.1 1.5 3.1 0.2-3.4 2.8 4.5 1.8-1.8 0.2 1.1 1.6-4.4 0.5 5.2 0.6-0.6 0.3-1.3 0 0.2 0.4-2.1 0.4 2.4 0.1-1.3 0.2 1.4 0-0.1 0 0.9 1.8-0.5 1.4-0.2 0.7-0.9 0.5 0.9 0.5 0.1 2.6 1 0.7-2.4 1.1 1.9 2.4-0.1 1.1 1.4 0.2-2.2 0.3-3.3 0.4 4.5 0.9-0.8 0.8-3.6 0.3 1.1 0.1-0.2 0.6 1.4 2-2 0.1-0.3 1.5 2.6 0.4-2.4 2.4 1.4 1.7 0.6 1 0.6 0.4 0.1 -106.5 3.4 1.5 2 0.9 0.1 0.5-2.2 1.7 2.4 2.6-1.4 0.5 0.4 2.3 0.5 2.6 1.5 2.1-4.1 0 5.8 1-4.9 1.4 2.9 0.9-1.4 0.4 2.2 1.5-2.6 0.8 3.1 0.3-4.5 0.6 4.3 1.6-1 1.7-0.1 0.3-2.8 1.1 0.3 3.4 0.6 0.3 2.2 0.8-3.9 0.3 3.9 1.5-2.2 1.6 2 0.3 1.4 1.6-3.6 0.6 1.8 0-2.4 0.8 4.7 0.5-0.9 2-2.2 3.6 0.5 0.1-0.4 3.2-2.6 0.6 5.1 16.6-2.9 0.1-2.4 0.7 4.6 0.2-1.7 0.6-2.7 0.5 2.9 0.8-2.2 0.6 2 2 2 0.5-2.6 3.3 2.4 1.3-1.5 0.7 1.4 1.9 1.2 2.7-4.6 0.9 3.9 0.3-3.5 0.1-0.6 0.6 1.2 0.1-1.9 0.9 2.6 0.6 3 0.3-0.3 1.4-4.4 0.1 3.4 0.3-4.5 1.1 2.1 0.1 3.5 1.6 0.1 0.4-3.7 1.5-0.1 4.2 2.9 0.2-3.8 2.9 3.9 0.1-2 1.2-0.3 0.2 1.8 0.8-1 0.1 2 1-5.5 1.2 4.9 1.9-3.5 1 0.3 2.4-1.6 0.4 3.6 -107.6 5.5 0-0.6 1.4-0.1 1.5 2.7 3-3.6 0.2 1.9 0.5 0.4 0.1 0.8 0.1-4.8 3.5 4.9 0.2-3.8 0.9 0.5 0.3 2 0.5 1 0.3-2.6 2.2 3.9 1.6-3.1 1.1-2.7 1.4 3.1 0.2-2.2 0.3 0 1.2-0.3 0.2 4.2 1.3-1.8 0.3 1.3 1.3-1.2 0.4-1.8 1.8 3.3 0.3-1.2 0.2 0.4 0.1-3.8 2.2 5.1 0.4-1.2 0.5-0.9 0.4 2.7 0.8-3.5 0.8 2.1 0.2-0.2 0.5 1.6 1.5-3.1 0.5 2.8 0.6-1.6 0.2 0.4 0.1-0.9 0 0.2 0.1 0.5 0 1.1 1.7-4 0.2-0.5 0.1 2.7 1.6 1.4 0.5-4.1 0.1 5.2 1.7-2.4 2.6 1.1 1.2-2.2 1.3-0.1 0.1-0.4 0.1-0.6 0.2 0.6 16.7 3.4 1.5-1 0.7-2.5 0.9-1 0.7 3.2 1.9 1.4 0.9-3.8 0.7 2.1 0.2 1.9 1.3 0.3 0.2-4.5 0.2-0.9 0.3 5.2 0.1-3.6 0.2 1.6 0.1-2.3 0.1 0.2 1.4 4.2 1.2-1.5 0.8-1.5 0.4-0.7 0.3 3.6 1.5-0.6 0.1 0.5 1.2-1.4 0.5-2.6 2.4-1.5 0 0.6 0.1 2 0.4-1 4.5-0.6 1.4 1.7 1.2 0.3 0-3 0.6 3.4 0.2-1.7 0.2 4.1 0-5 2.2 3.7 0.8-3.6 0.1 0.7 0.2 2.1 0-3.8 1.2 0.6 1 1.3 0.5-1.4 1 0.1 0.5 5.1 0-0.1 1.1-3.4 0.2 0.9 0.7 1.3 2.5-3.2 0.1-0.2 0.7 0.9 1.5 2.5 -106.1 4.9 0-0.3 0.1-1.7 0.9 1.8 1.9 2.3 1.1-3.4 0.1 3.6 1.3-2.8 1.6 1.1 2.6 1.3 0.6-3 0.8 1.5 0.9-3.2 0.2 0.4 1.4 3.6 1.9-2.9 0.6 2.1 0.7 0.3 1.9 1.9 0.7-0.7 1.5-4.3 0.7 2.9 1.2 1.9 2.9-0.5 0.9-5.2 0.4 4.8 1.5-3.1 0.3 3 0.2-2.8 0.5 0 0.6 0.2 0.4-1.7 0 1.9 0.1 2.9 0.1-3.5 0.2 1.2 0.8 0.9 0.1-1.8 0.4-0.7 1.5 1.8 0.7-2.5 0.5 3.6 0.5 1.2 0-0.6 1.2-0.9 1.1-0.5 0.2 0.4 0.2-0.1 1.5-1.9 1-0.6 1.4 0.1 0.2-0.8 0.2 0.7 0.9 3.3 0.1 1.5 0.1-0.4 0.2-0.4 1.4-3.3 1.4 2.6 0-0.6 16.6-0.1 1.2-2.9 0.4 4.1 0.1-3.1 3.5 0.6 1 0.3 0-0.7 1.1 2 2.4-0.4 0.3-0.6 3.4-2.3 0.5 0.7 1.8 3 0.1-0.7 2-0.1 0.4-1.7 0 0.1 0.3-0.1 0.2 2.4 3.1-1.1 0.1-3.1 0.5 0.6 0.8 0.6 0.3 4.2 1.4-1.8 0.9-2 0.6 1.5 1.7-1.6 1 1.8 3-0.4 0.1 1.5 0.7 0.4 0.4 0.5 1.7-3.8 0.2 3.5 1.4-3.2 1.2-1.6 0.4 4.7 0.3 0 0.9-0.7 0.2-1.3 0-0.7 0.3 0.3 1 2 0.4-4.5 2 0.2 -105.3 6.4 2.3 2.5 0.9 0.9 0.7 0.7 0-0.6 0.8-2.1 0.4-1.7 1.1 4.2 0.7-3.4 1.5 2.5 0.8-0.5 0.4-1.6 0.7-1.5 1.7 3.4 0.9-0.1 0.7-1.2 0.5-2.1 0.1 0.8 0.3 4 0.6-1.4 0.6 0.3 0.3 0.2 0.3 1.1 2.1-4.2 0.1 0.9 0.6 3.9 0.7-4.1 0.2-1.1 0.3-0.5 0 0.2 1.2 2.5 1.1-2 0 3.9 0.6 0.8 1.3-2.5 1 2.2 1.4-0.7 0.2-1.3 0.3-0.8 0-0.3 5.3-0.7 0.2 1.2 5.5-1.7 0.1 1.2 0.5-1.2 0.2 4.7 0.1-0.7 0.5-3.5 0.1-0.5 0.8 0.8 0.4-0.7 0.7 0.5 0.3 2.3 0-1.2 1-2.4 1.2 4.4 0.1 0.1 0.2-0.8 0.4-1.6 2.8 2.3 0.2 0.8 0.2 0.6 13-2 0.3-1.9 0.9-1 1.7 2.1 0 1.6 0.3-3.6 1.1 0.8 0.2 2.1 2-1.8 0.7 1.4 0.9 1.1 0.7-4.6 0.9 1.4 1 1.2 0.1 2.2 1-1 1 0.7 0.3-3 1.2 1.4 1.6 2.6 1 0 0.6-1.3 0.7-1.8 0.1 0.2 1.4-1.2 0.3 1.2 0.1 1.3 0.2-3 1 0.6 0.5 3 0-1.4 0.5-0.6 1.6-1.9 1.8 2.7 1.4 1.1 0.2-2.3 0-0.2 0.2 1 1.2-2.9 0.9 4.1 0.1-2 0.5-1.8 0.1 3.8 0 0.9 0.9-2.3 1.9-2.7 0.1 3.4 0.2 0.2 0.3-2.9 0.1 4.3 0 0.4 2-4.7 0.3-0.4 0.9 3.9 0.2-1.1 0.3-3 0 0.3 2.5 3.2 0.5 0.3 0.3-2.1 0.2-0.7 0.2 1 0.7-2.2 1.1 3.6 0.3 1.2 0.3 1 0.3 0 -105.6 4.4 0-1.8 0.1 2.3 0.3-0.2 0-0.1 0.3-2.1 0.6-0.6 1.2-1.7 1.3 2.4 0-0.3 0.5 0.6 0.1-1.2 0.4 1.6 1.8-0.6 0.3 2.1 2.1-3.9 2.7 2 0 1.6 0.3-0.1 0.1-0.5 0.3-1.6 1.9 0.3 0.4 2.4 2.7-4.5 1.3 4.5 0.1-3.6 0.4 4.6 0.9-4 0.1-0.3 0.2-0.6 0.9-0.5 0 1.3 0.1 1.1 0.5 0 0.2-2.6 0.7 2.3 0.7 2.7 0.3-4.5 0.1 4.7 0-0.7 0.9-2.4 3.7 0.3 0.1 1.9 0.7 0.8 0.1-1.1 0-4 0.5 1.6 1.6 1 0-2.2 0.2 3.9 0.3 0.1 0.3-3.5 0.8 2.4 0.2-1.5 0.4-1.9 0.4 5.4 0.1-2 0.4-0.1 3.2-0.4 0.6 1 1.1-2.1 0.6 2.5 1-1.2 1.4-1.6 1.4 2.2 0.1-1.6 1 2.7 2.4-4.6 1.6 1.8 13.7-0.9 0.3 4.4 0.2-4.4 0.3 0.5 0.7 3.4 1.2-4.3 0.5 4.1 0.8-1.5 0.4-1.2 0.6 2.7 0.1-2.6 2.4 3.6 0.9-4.1 0.2 2.7 0.5-4.6 0 2.5 0.1 1.2 0.7 1.7 0.1-3.5 0.7 0 0.5 3.6 0.1-3.3 0.3 3.5 0.2-4.2 1.2-0.2 3.2 0.4 0.3 3.8 8.8-3.1 0 2.3 0.8-2.1 0-0.6 1.3 0.8 0-0.3 0.3-0.8 1.2 2.4 1-3.4 0.7 2.1 0.4-1.9 0.4 1.7 0.2 2.4 0.1 0.1 0.3 0.1 1.6-3.7 0.2-0.4 0.1 1.5 0.2 1.1 0 2.3 2.5-2.5 1.7-1.9 1.2-0.7 0.4-0.3 2.3 5 0.1-4 0.3 1.4 0.7 2.3 0 0.1 0.2-1.5 -106.7 2.7 0.7 5.4 0.1 0 0.2-4.6 1.4-0.6 0.5 4.5 1.3-1.5 0.3-1.1 0.6 1.9 0.9-4.6 0.8 0.7 1 4.4 0.4-4.1 0.1 1.3 0.1-2 0.4 2 0.2 3 0.8-0.9 0 1.1 0-3.2 1.5 1.1 0.6-0.9 2-0.9 0.7-0.6 0.4 1.6 0.2-1.8 1.1-0.1 0.2 2.8 0.6-2.7 0.3 2.8 0.2-0.3 2.8 2.4 0.4-4.7 0 2.6 1-2.7 0.1 4.3 0.3-2.4 0.8 1.8 1.5-2.2 0.3 0.5 0.1-1.6 0.5-0.7 0.3 3.3 0.2-0.5 0.2-3.1 1.3 5.3 1.3-0.1 0.7-4.9 2.1 1.1 0.9-0.3 3.8-0.9 0.9 4.3 0.8-2.4 1.3-0.6 0.4 2.5 0.4-4.3 1.1 3.5 0.4-0.1 1.6-1 2.5 0 2.5-0.3 0.8-1.7 0.3 5.5 12.9-4.6 0.8 4.6 1.1-2.2 1.8 0.8 0.1 0.5 0-4.6 1.1 1 2.3 3.7 2.4-4.9 0.6 0.5 0.2 0 1.5 1.6 1.5 0.8 0.3 1.7 0.2-2.5 0.8 2.5 0.5-1.1 1.7-3.3 1.8 1.6 0.6-0.7 0.5 3.7 1.1-0.3 0.5-1.6 0.3 1 1.2 0.5 0 0.4 0.6-1.3 0.2 1.5 0.3 0.5 1.7-4.7 1.3 2 0.2 0.1 0.2 1.6 1.1-4.6 0.8 2 0.6-1.7 0.2 2.7 0.1 1.1 1.4 0.7 1.6 0.5 0.7-2.3 1.5 1.4 1.5 1.3 0.4-0.5 1.2-3.2 0.6 2.7 0.1 0.6 1.7-4.3 0.4 3.4 0.9-3.3 0.8 4 0.2-0.9 1-2.5 0.7 1.2 -106.8 4.9 0.7 0.3 1.6-1.8 0.9 2.9 0 1.7 0-1.2 0.3-1.2 1.4-2.4 1.1 0.7 1.5 4 0.3-1.7 2.7-0.8 0.8 2.7 1.3-1.3 0.8 1.6 1-1.2 1.1-0.4 1.5-2.1 0.1 2.1 0.8-3.5 1.2 2.9 0.5 2.4 0.3-1.6 1.2 1.7 1.6-1 2.7-1.5 1.1 0.4 0.2 0.1 0.1-0.6 1.9 1.4 0.3-4.3 0 1.4 0.7-1.3 0.7 4.3 0.1-0.7 0.2-0.3 0.6-2.8 0.1 4.2 0.7-0.8 0.7-3.9 0.7 1.2 0.1 3 0-2.1 0.2-0.5 1.8-1.4 2.7 2.2 0.7 0.9 0-1.3 0 1.5 0.7-1.3 0.2-1.3 2.2 4.3 0-0.8 0.2-4 0.2 3.5 2.7-0.5 2 0.9 14.3-1.7 0.9 1.6 1.1-1.4 0.7-2.9 0.2 2.2 0.3 2.5 0.7-2 0.9-2.3 1.8 0.1 0.3 0.8 0.6-1.2 0.7 3.6 0.8-2.4 1.9-1.2 0.7 5.6 0.4-1.2 0.1-2.7 0.7 2.3 1-3 0.1-1 0.6 4.4 0.1-1 1.7 0.3 1.3-2.3 1.3-1.5 1.2 2.6 0.2 3.1 0.4-5.8 0.5 4.3 0.4 1 0.3-0.1 1.4-5.1 0.7-0.2 1.2 1.6 0.1 3 0.3 0.2 0.4-4.5 0.9 3.4 1.4-2.2 0.1 1.6 0.1 1.3 1.6-2.8 2.3 3.2 0.6-0.5 2.1-2.7 0.5 2.9 0.2-0.7 0.1 0.6 0.7-0.7 0.2-1.9 1.6 1.8 0.5 0 0.8-3.5 0.1 2.9 1.3-1.9 0.2 4.8 1.2-2.8 0.4-1.7 0.1 2.6 1.6-2.1 0.4-0.4 0.4 1.7 0.8-2.7 -108.1 5.6 0.6 5.2 0.9-1.7 0.5-1.9 1.4-0.7 0.5 0.5 0.1 0.7 1.6 1.3 0.7 0.9 0.2 1.2 2.2-4.4 0.5 1.2 0.1-0.5 0.9 2.7 0.7-0.2 3.7-2.4 0.1 3.6 0.1-0.8 1-3.7 0.8-0.5 0.5 3.2 1.8-0.4 0.4-0.6 0.2-0.5 0.8-2.2 1.1 4.3 0.3-0.7 0.8 1.8 0.2-4.5 0.2 2.2 0.2-1.1 0.1-0.7 0.5-0.7 1 3.6 0.1 0.4 0.6 0.8 1.1-3.5 2.7 0.7 0 1.1 0.3-2.9 0.8 0 0.1 1.1 1.1 0.2 0.3-1.6 0.4 2 0.3-0.2 0.7-0.8 0.2-0.5 0.5 3.5 1.6-4.1 0.8 3.7 2.6-3.9 2.6 1.4 0.6 2.8 2.4-1.7 4.4 3 0.8-2.2 0.1-1.6 11.5 0.3 1.1 1.5 0.1-2.4 0 3.1 0.7 0.9 0.5-0.9 0.3 0.1 1.8-0.9 0.2-0.4 1.5 1.7 0.1-2.6 0.5-0.6 0.1 0.1 1.3 0.4 1.3-2.1 0.3 0.5 1 3.2 2-1 0.2 1.3 2.5-0.8 0.3-1.5 0.3 1 0.5 3.1 0.9-5.6 0.9 5.3 0.8-0.9 0.4-2.4 0.3-0.4 0.2 2.9 0.2 0.7 0.1 0.1 1.1-1.3 0.4 0.2 0.5-4.1 0.2 2.8 0-0.9 1.1 3.2 0.4-2.4 0-2 0.3-0.2 0.3 2.4 0.2-2.5 0.2 1.7 0.3 0.2 0.8-0.9 2.3 0.6 1.5-0.9 0.3 2.9 0-0.7 0.6-3 0.3 0.5 0 0.5 3.1 1 0.3-2.4 0.1 2.3 2.3-2.6 0.1 3.3 0.2-2.6 1.6 3.4 1.1-2.2 1.7-0.9 0.7 1.5 1.1 1.9 0.4-3 0.4 1.9 0.6-1.6 0.1-1.7 0 1.9 1.2 3.3 0.2-4.8 -106.8 6.5 1.4 1.8 0.6 1.6 0.6-0.4 0.2-1 0-2.5 0.5 4 1.1-2.2 2.1 1.2 1.6 2.1 0.6-2.9 2.9-1.1 0 3.6 1.6-0.3 2.5-3.9 2 4.9 1-1.4 1.3-1.5 0.4 2.5 0.2-1.4 0.7 0.7 0.3 1.1 0.3-2.3 0.9 1.3 1.1-1 0.4-2.9 1 2 1-1.5 0.3 0.2 2.1-1.6 0.1 0.2 0.4 5.4 0.1-1.3 2.4-0.9 0.5 1.5 0.3-1.6 0.3-1.3 1 1.4 0.1-2.7 0.6 3.1 0.8 0.4 1.8 0.3 0.6 1.2 1.6-5.3 1.3 5.2 1.7-1.4 0.1-2.3 3.2 0 0.3 2.8 0.5-2.4 0.8 2.5 13.3-2.5 0 1.8 1 0.5 0.1-0.7 0.1 0.1 0.5-0.4 1.6 2 0.3 0.2 2.4-2.4 1.2 0.6 2.6-0.6 0.1 0.6 0.1-2.5 0.2-0.4 1.1 1 0.5 1 0.5-0.3 1.9 2.8 1.5-3.8 0.8-1.9 1.3 2.6 0.3-0.7 0 1.8 1.6-1.7 0.9 0.9 0.1 0.6 2.3 0.6 0.1-0.9 1.6-1.5 0.4 0.1 0.5 3.1 0.2 0.3 0.3-2 0.3-2.7 1.3 0 2.7 1.7 1.9-0.2 0.4-1.4 0.2 3.2 0.7-1.2 0.3 3.1 1.1-5.4 0.4 2.7 0.7 0.8 0.3 0.8 0.4-1.7 0 0.1 0.2 2.3 0.2-4.2 0.9 1.5 1.2-1.2 0.1 2.6 1.7-2.4 0.1-1.4 0.2 2.2 0.6 0.8 0.2 0.4 0.8 2.4 0-4.8 0.3 2.9 0.2-0.5 0.4-0.1 0.1-3.4 0 3.1 1.8-0.4 -106.7 6.2 2.6-1.9 0.7 0.9 0.9 2.7 2-2.4 0.6 1.6 3.7-2.3 0.5 3.7 0.6-3.1 1.8 2.6 2.1-2.2 1.1 3.1 0.3-2.5 1.1-1.2 1.1 3 0.1-2.8 0.7-0.7 0.3 0.5 0.9 0.7 0 3.1 2.3-4.4 0.1 0.7 0 3.6 0.2-0.9 2.2-2.5 0.1 0.5 1.3-2.2 1 0.5 0.2 3.3 0.3-3.2 0.9-0.1 0 1.7 1.4-0.3 2.5-2.4 2.8 5.3 1.2-0.2 1.6-1.8 0.6-1.3 0-1.9 0.9 3.9 0.5-3.6 0.2 4.9 0.2-2.6 0.1 2.9 1.8-1.4 1.2 1 1-1.7 0.4 1.8 0.2-0.7 1-2.7 0.2-0.3 0.8 3.7 0.4-3.5 0 3.4 12.3-3.4 0.3 1.9 0.8 0.3 1.6 1.3 0.3-3.4 1.5-0.8 1.1 4.4 2.8-2.4 0.2-2.2 0.5-0.6 0.9 3 1.3-2.9 1.9 0.3 0.4 0.4 1.2 3.7 0.1-3 0.7 1.9 0.7 2.1 0-4.6 0.8 3.7 0.6-1.6 2.5 0.7 0.2 1.2 0.4-1.5 0.2 2.2 1.1-3.5 1.8 0.7 1.3-2.3 2-0.4 2.4 4.3 0.5-1.4 0.8-2.5 0.7 4.2 1.9-0.1 1.3-1.5 1.2-2.3 1.4 3.4 0.9-0.9 1.2-1 0.9 0.6 1.6-2 2.9-1.2 1.5 0.1 -107.9 10 0.3-3 2.7 3.8 3.3 0 0.3 0.2 0.1-2.3 0.9-0.2 1.8-2.1 0.2 0.3 0.1 0.1 1.1 0.6 0.3 2.4 0.8-1.9 0-1.9 0.3 1.3 1.4 2.2 0.4-2.5 2.7 2.3 0 2.2 0.2-4 0.5-0.8 0.2-0.5 0.3 3.1 0.7 1.7 0.5-4.9 0.4 1.4 2.6-1.2 1.4-0.4 0.2 4 0.9 1.6 0.3-0.4 1.1-1.8 0.2 1.9 0.2-1.5 2.1-2 1 0.3 1-1.8 0.4 4.5 0.6-0.3 0 0.1 1.9 1.1 5.7-3.3 0.3 1.7 2.5 1.2 1.1-1.1 1-0.4 0.4-2.5 0.8 1.6 0.2-0.6 0.1 3.5 0.7-1.1 1.6 0.8 0-2.9 0.4 0.9 0.1-2.1 0.1-0.1 0 2.2 0.7 2.4 1-4.2 11.2 1.3 0.2-1.8 0.1 2.3 0.1 2.4 0-2.4 0-3.6 0.2 4.9 0.6-4 0.2 4.6 0.1-0.7 0.5-3.4 0.6 4.3 0.6-2.1 1.1-1.1 2.2 1.3 1 0.6 0.9-1 0.3-2 1.3-1.2 0.6 4.5 0.1-2.3 1.9 0.1 1.5 0.9 0.3 1.2 0.2-0.9 0.4-1.8 0.1 2.7 0.7 0.2 1-4.4 0.2 2.1 1.2-2.4 2.2 4.4 0.2 0.8 0.4-0.3 0.6-0.6 0.1 1 0 0.6 0.1-3.2 0.7 0.6 0.1-3 1.5 5.5 0.3-2.9 0.3 1.6 2.2-3.6 2.2 4.5 0.2-1.5 0.9-2 0.2-1.7 0.3 2.6 3-1.9 0.4-0.7 0.7 2.5 0.6 1.4 0.7-3.8 0 2.1 0.4 2.3 0.4-4.1 2.7 4.8 0.4-3.2 1-1.7 0.8 3.9 2.7-2.2 1.4 0.6 -106.9 4.9 1.8-1 0.5 5.2 0.7-5.6 0.2 4.7 0.2-3.1 0.1 4 0.1-4.8 2.1-1.1 0.1 0.7 0.2 2.1 0.2 3 0.3-5.5 0.1 2.4 0.3-2.2 0.6 0.7 1.3-0.4 0 3.7 2.3-0.7 2.5-0.5 0.7 0.5 0.5-0.8 0.2-1.5 0.1 1.7 0.3-0.2 1-0.4 2.4 1 1 0.6 0.3 1.2 1.2-0.1 0.1-2.9 1.3 0.1 0.1-1.7 0.8 0.2 1.3 2.8 0.2 0.7 1.9-0.3 0.7 0.3 0.4-3.3 0.2 0.7 0.9-0.8 0.8 1.2 0.4-1.5 1.4 4.1 0.2-0.9 0.2-0.6 0 0.4 0 1.5 0.2-0.9 0.1 1 0.5-5.4 0.3 0.1 0.1 4.7 0.3 0.4 1-2.9 1.1-1.4 0.2-0.5 0.6 4.4 0.2-2.2 0.2-0.9 0.5-1.7 0.3 1 1.7-0.8 0.2 2.7 1.4 2.1 0.7-0.4 0.1-2.2 0.2 2.8 0 0 1.1-4.7 1 0.3 0.3 0.2 2.9 4.2 0.6-4.2 16.7 0.2 0.4 1.4 0.1-1 0.3 0 0.9 1.9 0.4 0 0.7-3.4 0.4 5.6 1-3.5 1.3 2.4 1-1.3 0.1-1.2 0.6 0.1 0.8-1.7 0.6 0.5 0 0.2 0 2 0.2-3 1.1 2 0 2.4 0.1-2.9 0.7 2.1 0.1-0.8 0 0.1 1.7-2.9 3.1 3.6 0.2-3.5 1.2 3 1.3 1.7 0-1.1 0.4 0 0.4-1.5 0.1-0.1 0.8-1.6 3.1-0.6 1.9 1.9 1.1-0.3 4.8-0.9 0.2 4.2 0.4-3.2 0.1 1.6 2.7 0.9 0.1 0.8 0.7-2.3 0.8 1.7 0.4-1.8 2.5-0.6 1.9 2 0 0.3 1.3-3 0.2-1.3 0.8 4.3 -107.7 2.8 0.5 0.8 1.1-1.2 1.3 1.4 1.3 1.3 0.7-1.5 1 2.8 0.8-3.5 0.4 1 0.3 2.4 0.3 0.8 1.3-0.5 0.3-3.5 0.4 2 0.2-3.2 1.5 0.5 0.4 0.9 0.3 2.9 0.3-2.4 0.8 0.2 0.4 3.2 0.5-3.5 0.6 0.8 1.4-2 0.2 0 0.8 4.8 0.3-2.7 1 2.3 1-4.3 0.5 1.5 0.4 1 1.3 0.6 0.3-2.3 1.7 3.3 0.1-3.7 0.8 1.1 1.5-0.9 0.1 0.2 0.5 2.5 0.1-4 0 3.9 0.5-1.7 0.1 0.6 0.9-0.8 0.1 0.2 1.1 2.7 2.8-4.8 0.3 5.4 1.3-4.2 0.1 3 1.1-2.6 1 3.1 0.5-0.8 0.5-2.1 1.3-1.3 0.6-0.3 1.2 1 0.4-0.3 1.6 1.2 0.3 0.8 0.5-2 0.1-0.2 2 4.5 0.6-0.8 1.1-3.3 0.1-0.3 0.6 3.1 0.3-2.3 0.8 0.5 0.1 2.5 0.5-3.3 11.3 0.1 1.4 2.2 2.2-1.8 0.5-1.1 1.1 2.9 0.8-3.3 0.9 2 2.2 0.4 0.6-2.6 0.8 1.7 0.9-1.4 0.7 0.8 0.4-1.1 0.2 1.3 2.3 3.4 0.1-1.2 0.1-1.6 1 1.1 0-3.5 0.3 3.7 0.7-1.2 1.7-2.2 1.2 2.1 1.8 1.9 0.1-0.4 0.3-1.2 0.1 2.1 0.8-3.7 0.6-0.5 0.2-0.4 0.1 3.3 0-2.3 2.2 2.2 1.4 1.6 0.2-3.1 0.2 2.3 0.5-4.3 0.2 0.7 1.7 4.4 0.2-1.7 2.1-1.5 0.7 0 0.1 1.1 0.7 0.5 0.2-0.8 0-1.4 1.9 3.2 0.2-3 0.1 1.3 0.2 1.5 0.5-1.4 0.3 0.9 0.6-1.7 0.4-0.2 0.4 2.1 0.3-0.1 0.3 1.5 0.9-1.2 0.4-3.6 0.2 3.8 0.6-0.4 0.2-3 0.6 2.1 0.3-0.8 0.3 2.1 1.8-1.1 1.1-1.8 0.4 0.8 0.2-0.6 -173 10.3 9.3-1.7 8 1.5 0.5-1.6 1.3 1.3 21.6-0.9 7.8 0 4.3 1.1 0-1 1.1 0.7 7.5-1.3 4.5 0.4 0-1.4 1-1.6 0.2 0.1 0.3 1.7 0.1 2.2 0.2 0.2 0.9-3.7 1.3 1.3 2.8-1 0.7-1.7 0.2 0.1 0.4 0.5 0.1 0.9 0.4-1.7 0.9 0.8 2 3.2 0.7-2.8 3.2 2.2 1.1-2.5 1.8 0.9 0.2-0.3 0.2-1.7 1.4 3.9 0.8-3.6 0.5 2.9 0.8 0.5 0.5-2.1 0.3-0.9 0 1.4 0.2-0.9 1.4 2.9 1.4-0.1 0.8 0.1 0.4-2 0.6-1.5 0.6 1.2 0.1-0.6 0.2 0.9 0.3-0.1 0.2 3.7 0-0.6 1-1.1 0.5 0.8 0.2 0.5 0.2-4.5 0.7 0.6 0.6 2.6 0.2 0 1.4-1.8 1.2 1.6 0.1-0.5 0.1-2.3 1.6 0.4 1.6 0 1.3 1.7 0.9-0.9 2.6 1.7 1.2 0.6 0.1 1.1 0.7-3.1 1.4 0.7 0.7 2 0.1-1.1 1.5-3.7 11.4 2.7 0.4 1.7 0.1 0.9 2.7-4 0.4 0.7 0.1 3.3 0.3-2.8 0 0.4 0 0 0.1-2.8 0.6 3.2 1-1.9 0.9-1.6 2.6-0.2 0 5.8 0.7-2.9 0.7 2.2 1.8-0.1 0.8-2 0.1-0.5 0.2 0.4 0.2 1.1 0-3.3 0 3.2 0.2 0 0.1-1.4 0.4 2.6 0.3-2.2 0 2.8 0.3-3.1 0-2.7 1.3 1.5 0.1-0.2 1.1 0.9 0.2 0.7 0.3 0.5 0.1 2 0.5-2.4 2.1 2.5 0.9-2 0.2-1.9 0.1 3.5 0.5 0.6 0.1-3.2 0 3.3 3.9-5 0.3 4.5 0.1-0.5 0.4-0.8 0.2-2.7 0.3-0.3 0.7 1.7 2.5-1.3 3.4 1.6 0.4 1.5 0.6-4.5 2.5 4.5 1.5-3.9 1.3 1.6 2.6-0.6 2.2 1.9 0.9 0.9 0.2-3.6 0.1 2.2 32 1.5 4.2 0 -226.3 4.5 3.3 1.7 8.8-1.6 4.7 0.5 2.3 1.2 7.5-4.2 0.2 3.1 6.3 0 3.1 1 5.1 1 1.8-1.3 3.4-3.3 0.7 0.6 3.6 1.7 1-1.2 0 1.8 0.6-1.6 1.2-1.3 0.9 3.8 1.3 0 0.2-0.8 2.9-0.3 1.7-1.9 1.1 2.2 1.8-3.5 2.3 3.7 4.5-0.5 1.5-3.1 2.6 0.8 1.6 4.3 1.4-1.8 1.5-2 1 2 1.6-3.9 1.6 1.4 0.4 3 2.1-1.8 0.2-1.5 0.1 0.9 0.4 0.3 0.2 3.3 6.4-4.5 1.3 1.6 1.2-2.4 0.3 4.8 0.1-0.5 5.4-1.5 1.4 0.4 7.9-0.4 0.1-2.9 1.8 5.1 3-3.9 2.4 2.2 0.2-3.6 0.9 3.4 0.6-0.2 0.6-1.2 0.3 3 0.4-1.1 1.1 1.9 1.5-4.7 1.7 0.4 0.5 3.9 0.6-4.9 1.1 4.3 1.3-1.7 1 2.7 1.1-0.3 0.9-2.6 1.1 1.2 10.4 1.1 0.1-4.7 0.1 4.7 0.1-4.2 1.1-0.1 0.4-0.6 0.1 2.9 0.6 2.5 0.6-0.1 0.1-5.4 1.5 2.9 0-0.4 0.2 0.9 5.5 1.9 0.6-2.9 0.7 1.4 1.5-0.3 1.9 1 0.1-2.7 1.9 2.6 0.1-2.9 0.5 0.6 0.4-1.3 1.5 4.7 0.3-4.9 0.5 4.5 0.3-4.1 0.7 0.1 0.6 4.5 0.5-2.5 1.4-0.6 2.8 1.2 0 1.9 2-1.5 0.3-3.6 0.1 0 1.3 1.9 1.5-0.1 0.8 0.9 2.2-0.9 0.1 1.1 3.4-3 2.2 4.8 0.1-2 0.8 1.8 0.3-2.7 0.3 3.1 0.1-4.5 4.1 2.5 0.9 0 0.7 0.7 2.4-2.9 2.3 3.4 1.7-3.1 1.8 2.5 5.7-4.4 1.8 5.6 2.5-2.1 0.8-1.4 7.5 0.3 0.8 0.9 33.4-1.6 19.2 1.6 -257 3.5 1.1 1.9 7.1-0.3 0.7 0.1 0.2-1.6 5.5-0.9 0.3 5 4.4 0 0.9-4.6 2.5 2.3 4.3-1.4 0.4 0.3 0.3 1 1.8 2.4 4-1.2 3.8-2 1.3-0.5 2.6 0.3 0.5-1 0.6 2.6 0.4 0.9 2.7 1.3 0.5-1.5 0.9-2.5 0.7 3.7 0.2-2.2 2.2-1.1 0.6 0.3 1.2 1.6 0.4-0.8 0.3 2.8 0.6 0 0.1-0.4 2.6-5.1 1.8 3.1 1.4-2.3 0.2 1 0.7-0.8 2.2 1.4 2.8 1.9 0.2-1.9 0.8-2 1.7 2.2 1.3-1.8 0.6 4.7 0.1-5.7 0.9 3.4 0.1-1.2 1 0.3 3.1-0.1 1.4 2.8 0.9-1.3 1.1 0.7 1.1 1 1.7 0.4 1.6-3.5 2.7-2 5.5 2.3 0.6 1.3 0.2-0.1 2.4-1.9 1.9-0.2 1.5 2.5 2.4-1.9 2.5 0.9 0.2-0.6 1 1.7 0.5-2.3 1.8 1.6 0-2.4 2.6 1.1 3.1 2.2 4.6-0.1 0.3-2 0.7-2.4 1.8 4.3 10.3-0.7 1.4 2.1 0.3-2.3 2.6-2.5 0.2 4.5 0.9 0 3.1-5.5 2.3 3.6 0.3-1.7 0.2 1.5 0.6-2.8 0.2 2 1.2-2.3 3.5 0.8 0.1 3.7 0.1-2.3 1.9-0.6 0.4 1.5 0.1-2.5 2-0.7 0.6 1.7 0.7-1.7 0.9 3.7 3.2-2.7 0.3 2.2 0-2.6 0.4 0.3 1.8 2.7 0.5 1.1 0.1-2 0.6 0 0.1-0.2 0.2 3.1 1.8-4.7 0.2 2.3 0.5-1.5 0.3-0.3 0 2.4 0.1-0.7 0 1.6 2.1-3 4-0.6 0.4 1.6 0.3 0.1 2.3 1.8 0.9-2 1.7 2.3 1.2-0.8 0.1-1.6 0.2 1.4 0.4 1 5.3-4.3 3 1.8 1.7 1.4 0.5-1.1 6.2 2.2 5.4-3.2 17.9-0.6 8.3 1.4 28.8-2.1 -250.8 9.5 16.2-4 1.1 4.1 2 1.4 1.6-0.3 2.4-1.4 0.1-1.1 0 2.9 0-0.6 0.4-4.6 1 3.2 2.8 1.3 0.6 0.5 1.1-2.5 1.4-2.5 0.5-0.4 2.2 5.1 1.4-3.5 3.8-0.1 0.9-0.6 0.3 3.3 4-0.3 0.7-0.5 1-1 0.8 1 1.1 1 0.4-1.8 1.1 1.6 0.4-2.4 1.2 1.2 3.3 0.2 2.6-1.8 0.9 1.2 0.4-2.3 2.4 1 0.1 0.8 1.3 2.6 1.1-3.5 1.5 0.9 0.2-1.7 0.6 4.9 0.5-0.2 0.2 0.5 0.3-5.5 1.9 1.1 0-0.2 0.2 2.9 0.1 0.3 2.5-3.3 2.6 4.8 1.7-0.1 2.6-3.9 0.6 1.5 0.7 0.5 0.6-3.3 2.4 3.4 0.1-1.8 0.1 2.1 0.8 0.2 8.8 1.3 4.7-1.9 0.2-2.7 2 0.3 1.8 0.3 0.3-0.6 0.2 1.6 2.1-0.9 0.4 1.9 0.7 1.2 1.9 0.9 0.7-4.8 1.9 1 0.4-1.4 0.7 2.3 0.7-1.3 5.3 3.6 0.8 0.1 10-2.8 0.6 2.9 0.3-2.2 0.8 0.3 0.2-2.1 2 1.2 2.4-1.9 0.6 3.3 0.1-3 0.4-0.5 0.3 1.6 1.9 1 0.3-0.1 0.9-1.2 0.8 1.8 0.8 0.9 2.3-2.3 0.3 1.4 0-0.3 0 2.2 0.9-2.8 0.6 3 0.6-3 0.2-0.1 1 1.3 0.3 0.5 1.9 1.2 1.7-0.9 1-3.9 1.5 0.4 0.5 0.9 2.4 1.5 0.1-2 0.1 1.8 3.8 0.7 0.1-0.9 2 2.6 0.2-4.5 0.4-0.7 0.9 0.6 0.6-0.7 0.3 3.5 1.3-2.6 0.6 2.7 8.9-3.4 0.1 1.6 1.2-2.1 1.1 0.6 0.5 5.1 4-1 5.2 0.4 3.5-1.9 8.5-0.6 2.7-0.8 4.4-2.1 3.4 5.8 -211 1.9 4.8 3.1 5.6-1.3 1.7 1.3 0-0.7 9.7-1.7 1.2-1.4 9.3 4.5 2.2-3 0.1 3.1 0.3-1.3 0.3 1.2 1.4-1.5 0.5-1.3 1.3-0.9 2 3.4 2.6-0.1 0.4 0.8 1.6-1.6 0.1-2 2.6 2.6 2-1 0.1-1 1.2-0.3 1.8 2.3 1.7-2.9 0.1-0.9 2.5 4.5 1.6-1.8 0.9-2.5 0.3 2.6 2.9 1.5 2.3 0.4 2.3 0.1 1.7-3 0.5 2.7 1.5-3.9 0.2 2.9 0.2-1.9 0.3 0.5 0.4-1.4 0.7 1.8 0.2 1.5 0.9-0.9 4.9-0.7 1.1 1.5 1-2.4 1.2 2.4 0.3-1.9 1.7-0.2 3.2-0.4 3.5-0.6 1.4 2.1 2.5 0.2 0.7 1.3 3-3.6 4.8 1.3 1 2.4 0.2-4.5 1.3 2.2 4.4-1.4 1.1-0.2 1.2-0.7 0.1 3 1-1.7 1.2 0.7 0.4-0.3 0.6 1.6 1-0.8 3.3-0.5 9.3-2.5 0 3.2 0 0.7 0.1-0.5 0.2-2 0.6 1.8 0.2-3.4 0.8 0.2 0.3 3.1 0.8-0.1 0-3.4 0.5 5.8 0.3-5.2 4.3 4.5 0-0.9 1-1.3 2.2-2 1.2-0.6 1.1 3.4 0.1-3.6 2 3.4 0.6-1 1.5-1.1 0.4-0.6 0.5 3.9 0.9-1.4 0.1-1.4 0.1-0.1 0 2.9 0.1-3 0.1-0.4 0.6 2.2 0.1-0.5 5.3-3 0.3 5 0.6-2.9 0.3 2.2 1.5 1 2.1-2.8 0.5-2 0.7 2.6 0.1-1.1 0.2-0.5 1.5-1.4 0.5 0.2 0.7 5.2 0.9-2.4 2.9 2.3 1.9-3.3 0.6 0.4 2.2 3.1 3-1.9 1.2-0.3 0.6-1.8 2.5 1.1 9.3-0.9 6.2 1 3-1.5 52.2 1.4 8.1-1.9 -281.1 8.2 34.4 0.3 3.4-1.7 18.6 3.5 0.2-1.2 0.3-0.8 3.5-1.8 1.1 1.5 3.9 0.8 0.9-3.6 1.6 2.9 7.1-2.5 0 3.2 0.9-1.5 0.5 0.3 0.1-1.5 5.8 4.5 1.4-2.7 1.3-2.3 0.9 4.1 0.3-3.1 0.2-0.3 4.1 3.4 0.2-4.1 0.2 1.7 1.1-0.3 3.2-0.2 1.8 2.4 1 0 1.9-0.3 0.8-1.7 0.5-1.8 0.4 2.2 0.6-0.9 2.2 0.5 1.9-1.5 0.5 3.5 0.7-0.2 1.5-0.5 0.7-1.2 0.6 1.6 0.9-0.4 1.1-1 3.4-2.2 1.4 1.1 0.2 2.3 1.1 0.1 0 0 0.3-0.9 0.1 0.9 0-2.5 0.3-1 1.7 2 0.9 2.2 0.9-4.4 0.3 0.3 1.1 3.4 0.6-3.2 1.3 4.6 1.9-4.2 2.8 4.6 0.1 0 0.1-2.3 0.1 2.4 0.2-4.1 3.7 2 0.1-0.1 0.8-0.6 2.4-0.8 0.2 2.7 0.9-3.6 1.5 0.3 1.7-0.4 10.2 2.6 0.6 0.9 0.5 0 0.1-1.1 1.2-2.1 0.5 2.4 1.3 1 0.6-3.8 0.3 1.1 0.1 1.1 0.4 1.7 0.8-0.1 0.5 1.2 1.9-5.5 0.4 1.9 1.5-0.9 0 2.3 0.4-3.7 0.6 5.8 0.6-0.7 0.5-2.8 0.8-1.8 0.3 1 2.8 1.8 0.8 2 0.6 0.4 2.2-3.3 0.1 0.5 0.5-2.8 1.7 2.9 1 0.4 4.2-3.1 0.4 4.9 0.1-0.7 0.7-2.2 0.8 2.9 0.4-1.2 0.7 1 1.2 0 1.2-1 0.3-3.6 2.8 0.2 0.6 4.2 0.6-0.2 0 1.2 1-2.7 1-0.6 0.1 3.3 4-3.3 0.7 1.3 0-0.7 2 0.1 0.6-1.2 0.1 0.3 0.1 1.7 3.2-1.3 1-1.6 1.1 1 13.9 0.5 5.9 0.4 37.8 1 -220.6 7.2 2.2-2.7 9.1 0.1 9.1-2.6 0.5 5.2 5.1-1.1 0.6 0.9 1.3-4.7 0.4 2.5 2.5-2.5 4.7 1.3 0.8 2 0.2 0.8 1 1.1 0.9-3 0.3 0 0.9 0 2.2 1.3 1.2-3 0.1 3.2 2.3-1 2.9 1.3 0.6-2.3 0.6 3 0.9-4.4 0.6-0.1 0.6 4.7 1-4.2 0.8-0.9 0.2 1.7 0.6-1.3 0.2 0.5 1.2 1.2 0 1.4 0.7 0.4 0.3-1.1 0 1.6 1.1-2 1.3 0.2 1.4-0.7 0.6 2.5 0.3-3.7 0.4 2.2 0.5 2.3 3.6 0.3 1.2-0.3 0.2-4.1 0.4 3.1 2.5-0.9 0.9-2 2 4.4 0.9-4.3 2.5-0.2 0.2 3 1.3 1 0.5-0.4 2.4-2.2 0.6 0.7 0.9-3.3 0.3 2.8 0.3 1.1 0.8 1.6 1.1-1.8 0.2-0.8 2.6-0.1 0.3-2.4 0.2 4.5 0.2-4 0.2 4 0.2-3.3 0.4 0.1 0.3 2 2.4-1.7 0.5 0.5 5.8 0.5 0.7-1.7 1.1 1.6 0.6-0.4 10.2-2.5 0 3.4 1.7-3.3 0.9 2.6 0.7 0.6 1.6-2.1 0.4-1.2 0.3 0 0 3.6 1.8-1 1.7 0.3 0.6-0.9 0.3 0.9 2.1 0.7 0.7 0.3 0.7-2 1.9 1.3 0.3 1.3 0.6-3.3 0.4 2.3 0.2-1.4 0.8 0.2 0.3 2.1 1.5 0.9 1.7-5.1 2.2 3 0.1-1 0.1 3.5 0.2-3.2 2.9 1.2 0.6 0.6 0.8-0.6 1.9-0.9 1.2 0.9 1.2 1.5 1.3-3.4 0.9-0.5 4.6 3 1.8-3.3 1.1-0.3 0.3 2.4 0.3-3.2 1.1 3.2 0.2 2.5 0.1-4.3 0.4 4.2 0.9-4 0.5 2.6 0 0.3 2.2-2.9 0.7 2.3 1 0.5 0.4-4.1 16.3 5.7 35.1-3.6 2.1 3.5 -237.5 3.6 29.7-2.3 0.6 3.5 5.1-0.2 10.3-3.5 4.8 3.5 0.3-1.1 4-0.6 1-0.8 0.6 3.1 1.4 0.7 1.7-2.3 2.1 1 2.4-1.5 0-1.8 0.2-0.3 0.9 4.9 0.2-2.7 0.4-0.8 2.4 1.3 0.8-1.1 1 0.4 0.1-1.7 2.6 1.1 1.1 2.9 2.7-5 0.5 1.4 0.9-1.2 0.6 2.8 0.4 1.2 0-4.3 1.3 0.1 0 2.5 1.9 1.7 3.9 1.2 1-2.4 0.1-1.8 1.9 2.7 1.6-3.5 1.8 2.3 0.9-1.5 0 0.5 2.9 0.6 0.4 2.1 1.2 0 3.1-1.1 0.6-1.8 0.5 1.5 1.1-2.8 1 0 3.3 0.1 0.5-0.2 3.4 0.8 0.1 3 1.5-3.8 1.1 5.6 0.3-5 4.3 1.6 0.2-0.9 2.5-0.2 2.4 4.1 0.2-1.9 7.9-0.2 0.1 1.7 0.1-0.8 0.7 1.4 0.5-5.6 0.2 3.5 1 0.4 0.3-3.6 0 3.1 0.5-0.7 0.4-0.5 0.2-1 0.4-0.3 0.2 0 0.5 1.1 0.1 1.7 0.2 2 0.2-2.5 0.2 1.5 1-3.3 0.1-0.2 1.4-0.7 1.6 4.5 1.1-1.2 0.9-2.9 0.4-0.3 0.5 2.4 2.2-0.9 2.5-1.4 1.7 3.9 1.9 0.2 0.5 0.1 0.7-1.8 0.4 1.2 2.9 0.4 1.4-3.4 0.6-0.6 0.2 2.8 0.9 0.7 0.9-1.4 0.5 2.6 0.4-2.4 1.5-2.3 0.5 4.4 0.9-3.9 1.3 1.7 0.1 2 0-2.2 1.2 2.3 0.6-2.6 0.4 3 2.2-0.2 0.4-4.8 0.5 5.3 0.2-3.6 1.5 3.3 0.5 0.5 0.1 0 2.3-1 1 0.4 1-1.1 0.1-0.8 0-1.5 1.1 2.1 0.2-3.7 0.2 1.3 0.3 4 10.4-0.4 3.2-2.9 1.7 2 29.2-1.8 7.3 0.5 -270.9 6.6 12-3.5 54 5.1 4.2-4.4 8.8 1.8 10.3 1.4 1.1-0.5 0.9-2.6 0.8 1.4 1.1-1.6 0.1 0.9 0.6 3.2 1.1-3.6 0.1-0.3 0.4 1.2 0.6-1.7 0.6 0.8 0.7 2.2 0.5 1.8 0.1-3 0.7 1 0.5 2.4 0.2-0.7 0.6-2.5 0.3-2 0.2-0.1 0.7 5.6 2-5.7 0.3 2 0.2-0.3 1.2 0.7 0.1 0.1 2.2 0.1 0.2-1.1 0.3-0.1 0 2.3 1.6-3.5 0.8 2.2 1.5-0.8 0.2 0.4 1.5 1.4 0.1 0.2 0.2-1.9 0.1 1.4 0-2.6 0.5 0.6 0.2 2.3 0.2 0.3 1.4-3.2 0.8 4.9 0.2-1 0.2 0.1 1.4-2.8 3.6 2.7 0.1 0.1 0.8 0.7 1.8-2.8 0.1 3 1-3.1 1 3.3 0.1-2.5 2-3 1.9 5.3 0.9-4.1 0.2 2.1 1.8-3.4 0.3 2.5 1.2 0.4 1.2 0.9 0.1-1.6 0.5-0.9 1 0.8 1.4 3.4 1-2.4 0.5-2 0.2 0.2 0.2 0.7 1.4 0.9 2.1 1.7 0.3-0.4 1.1 1.1 0.6-2.3 0.2-1.1 0.1 3.5 2.1-0.7 0.9-4.4 0.4 1.6 0-1.2 0.2-0.4 0.7-0.2 0.9 3 0.3 1.5 0.4-3.4 0.3 3.9 0.3-1.6 0.3 1.5 1.1-1.3 2.4 1.3 0.8-1.7 1.4 0.2 2.5-0.3 0.3 1.7 8.4 0.6 0.1-0.6 0.1-2.4 0.7 1.3 1.7 0.2 1.7-1.1 2 2.1 1.1-3.9 0.7 1.2 0.6 3.1 1.1-1.7 0.8-1.3 0.1 2.3 0.4-4.9 0.1 4.1 2.2-2.7 0.3 2.7 0.3 1.2 0.5-0.3 0.5-0.1 0.1 0.8 1.9-0.1 0.4 0.2 3.4-4.3 0.5-0.4 0.4 2.2 5.2 0.8 0.5-1.3 0.2 2.3 0-4.8 1.4 2.4 1.3-0.5 0-0.8 2.1-0.6 0.7 3.2 0.3 1.8 1-0.7 0.2-2.1 2-2.9 0.8 1.8 1.9 3 1.8-2.5 0.9-2.4 0.4 0.1 1.1 0.5 0 0.6 0.1 2.4 0.1-2.8 0.8 4 0.7-4.6 0.2 4.7 1-2 0.1-2 0.7 0.1 0.7 0.9 1.5 3.1 1.4-4.1 19.9 0.5 1.8-1.2 32.4 0.3 -214.6 10.7 25.4-4.1 5.7 4.4 3.2-3.6 2.9 2.5 0.9-2.9 1.1 1.8 4.5-1.4 0.3 2.9 0.6-3 0.2 0.8 0.3-1 0.2 1.9 0.2-1.9 2.1 4.1 2.4-2.9 0.1-0.5 2.5 2.3 1 1 0.1-2.3 1.5 0.7 0.7 1.4 0.7-0.5 0.8-4.1 0.2 0.3 2 3.4 0.1-3.6 1.5 1.1 0.3-0.6 0.3-0.3 1.8 3.5 0.3-0.9 2.9 0.5 2.4-1.6 0.7 0.6 0.7 1.8 1.7-4.2 2.3 0.1 1.7 4.1 0.6-4.1 1.6 3.3 0-3 0.3 3.5 0.1-2.1 0.2 0.6 3.9-2.7 2.6 0.8 0.6-0.2 0 1 0.5-1.7 1.1 2.8 0.1-0.5 1 1.8 0.1-1.9 0.3 0.7 0.5-0.9 1.2 0.4 0 2.8 1-2.4 0.8-2.9 0.7 2.5 0.6 2.8 0.7-3.2 1.4 2.1 0.1-2.3 1.3 1.3 2.1-3 0.3 0.6 0.2 4.8 0-3.2 0.1-0.2 1.4-2.1 0 4.8 0.2-0.2 0-1.4 7.1-0.6 1.1 1.6 0.2-1 0.8-3 0-0.4 0.9 1.4 1.8 0.7 0.4-1.7 0.2 2.7 0.1-0.2 0.8-0.2 0.1-1.4 1.6 3.5 0.5-0.8 0.3-0.1 0.1-3.8 0.5 3.9 0-3.8 2.2 2.3 0.4 3 0.2 0.1 3.1-0.7 0-0.3 0-3.6 2.5 2.4 1.2-1.8 0.1 0.8 0.7 3.1 0.7-5.1 0.3 0.2 0.2 4.1 0.5-4.3 0.5 5.3 1.8-0.8 0.5-1.7 0-3.4 0.1 2.8 0.1 0.1 0.9 1.5 2.2-2.5 0.4 0.5 1.6 0.6 2.7 2.5 2.6-5.2 0 2.7 0.6-0.3 0.5 1 4-0.9 0.4 3 1-2.3 0.9-2.7 0.7 1.4 0.6-0.7 4.1 3.4 0-3.9 1.3 1.2 0.5-1.8 1.4-0.3 7.5 5.7 3.9-2.6 35.2 2 -284.9 1.3 54.4 0.1 13.7 1 33.8 2.8 4.5-0.3 5.3 0.6 0.8-4.3 1.4 2.8 3.7 0.8 1-4.1 0.6 0.4 0.5 1.3 0.3 3.8 0.9 0.4 0.4-0.8 0.4-2.2 0.4-0.8 0.7 1.2 0.5 0.1 1.1 0.8 0.1-0.5 2.1-1.6 0.3 3.2 1.3-3.5 2.2-1.3 0.2 0.2 1.9 0 0 1.7 0.9 2.2 0.2-2.5 1 1.9 0.3 0.2 1.5-2.2 0.8-0.7 0.2 3.2 0-0.4 0.1 1.3 0 0.4 0.3-0.7 0.5-1.6 0.5 1.1 1.1-0.4 0.2-1.7 0.9 1.9 0.9-0.2 0.2 0.6 0.2 1.1 2.8-0.7 0.6-0.8 1.4 0.2 0.6 0.7 0.9-1.3 1.5-1.9 0.9-1.2 0.7 2.1 0.1 1.7 4.1-2.4 1.9 1.3 0.5-1.8 0.6 2.9 0.4-0.9 0.2 2.1 0.1-0.2 0.2-2.4 1.6 1.8 1.9-5.1 2.1 6 0.2-5.9 1.1 0.3 1.8 3.1 1.4 1.6 0.1-5.1 1 5.8 0.2-5.3 4 5.2 0.8-1.2 1.4-1.2 0.6-2.2 0.8 0 0.2 4.5 0.7-2 7.6-3.5 0.5 2.7 0.4-0.8 0.2-0.6 0.9-1 0.7 1.8 0.2 3.7 0.1-4.7 0.7-0.3 0.8 1.9 1-2.4 0.7 2.9 1.9 1 1.4 0.5 1.4-1.5 1.9-3.1 0.9 1.6 2.4 0.6 0.4-0.9 1.1 0 1.5 3.2 0.1-3.9 1 4 0.3-3.5 0.5 4.2 1.4-4.8 0.8 0.4 0.6 2.9 0-2.7 1.5 0.4 0.7 4.2 0.6-5.8 0.1 3.7 0.7 0.4 0.5-2.1 0.2 0.6 1.9 1.8 3.1-1.3 0.3-0.3 0.4-2.4 0.6 3.6 4.2 1.4 3.3-0.4 0.3 0.9 0.4-3.1 0.4-2.3 0.4 3.7 0.4-1.4 0 2 1.4 0.8 1-1.5 5.4-1.8 0.1 0 0-1.7 1.1 0.2 1.6 3.4 8.2-0.6 0.8-3.5 31.5 0.5 -214 10.5 34.8-4.4 1.2 1.8 5.4-1.3 9.3-0.3 0.4 3.3 1.4-3.4 0 0.7 0.9-0.3 1.3 1.6 1.2-2.8 2 2.9 0.2 0.5 0.6 1.5 1-4.8 0 2.6 0.5 0.1 0.1 2.2 0.3-4.4 0.1 3.6 1.3-0.2 0-3.2 0.6 3.1 1-2.4 0.8 2.3 0.3-2.3 0.7 3.3 0.7-1.1 0.3-0.5 0.9-2.4 0.3 3.3 0.6-3.1 0.9 3.3 0.9-3.5 1.9 0.3 0.6 3.8 1.9 1 0.5-2 0.2 1.8 1-5.3 0.9 0.6 2.8 1.7 3.5 2.9 0.6-2.4 0.4 2.2 0.9-4.3 0.8 3.6 2-2.4 0.1 2.4 0.2-2.5 0-1.9 0.1 3.7 0.5 1 0 0.5 0.1-0.6 0.9 0 2.7-0.7 0.2-2.3 0.3 2 1.3-3.1 0.3 4.5 2.3-4.6 1.1 1.1 0.4 3.1 0.1-1.2 0.2 1 0.6-1.9 1.9 0.8 1.8-0.3 2.1 1.8 0.4-4.3 0.1 1.1 0.4 2.6 0.7-4.5 0.4 3.9 0.6-2.8 0.7 1.6 0.2 1.4 1.7-2.3 0.6 2.2 0.8-2.7 0.2 0.6 5.3 2.2 0.7-3.7 0.2-0.1 0.2 3.8 0.5 0 0.2-4.2 0.3 3.7 0.6-2.1 0.9 0.2 1.5 0.8 3.2 0.2 0.9 0.5 0.8-2 0.9 1.8 0.2-3 3.2 4.4 0.5-1.3 0.5-1.3 0.4 2.4 0.2 0.8 1.5-2.4 0.4-2.6 0.8 2.8 2.9-1.5 1.2 3.8 0.4 0.5 0.6 0.1 1.8-3.4 0.1 2.6 0.1-3.7 0.5 2.9 0.6-0.3 0.4-1.3 1.4 1.4 4.3-3.6 0.6 2.4 0.2 2.1 2.3-3.2 0.2-0.2 2.5-0.2 0 1.6 0.8 1.1 1.2-3.5 0-0.2 1.7 5.1 0.7 0 0-0.1 0.1-3.4 0.9 2.6 1.2-1.1 0.2 0.1 2.3-0.2 0.8-3 0.2 3.6 0.4-0.8 0.8-1 2.8-0.2 14.4 2.4 1.2-1 -161.1 3.1 0.1 2.1 15.6-2 9.4 0.2 0.7 2.2 0.3-0.5 0.8-0.2 0.1 3.6 2.2-2.5 1.3 0.5 0.8 0.1 0.1 0.9 0.4-1.4 2-1.9 2.5 2.2 0.3-2.2 0.3 2.1 0.9 0.9 0.8-3 0.4 3.8 0.6-0.4 0.4-1.7 1.3 2.4 0.1-4.6 0.7 2.3 0.8-1.4 0.1 3 2.5-1.2 0.3-3.3 0 1.1 1-0.8 1.5 2.4 0.5-1.1 1.6 3.5 0.9 0 1.2-2.4 1.1 0.1 0.3 1.7 0-4 0.3-0.4 1.3 5 0.6-0.9 1.2-2.1 1.5 1.2 1.3-0.2 0.5-0.6 0.6-2.3 0.5 0.7 0.2 0.8 0.4 3.7 0.3-5.7 0.1 3 0.4-0.2 0.2 2.8 0.6-3.8 0.1 0.2 1.2 3.4 0.2-0.9 1.8-4.1 0.3-0.2 1.1-0.1 0.5 5.5 0.2-0.6 1.7-0.3 0.3-2.6 0.2 0.6 0.3 2.8 1.7-1.2 1.5-1.8 1.7-0.5 0.1 2.4 0.8 0.3 0.7-1.9 3.8-2.6 0 2.9 0.1-0.9 0-1.1 0.8-1 0.1 4.9 0.6-2.1 2.8-2.3 0.2 3.5 0.4-0.5 4.5 1.7 0.2-2.5 1.2 0.1 0-1.4 0.1-1.4 0.7 3 1.3-0.6 0-2.6 0.2 2.4 0.6 0.1 0.8-1.1 0.2 2.6 1.2 0.3 0.3-3.2 0 0.4 0.7 1.5 0.3-0.8 1.3 1.2 0.3-0.4 0.1-1.4 1 2.4 0.4 0.4 0.8-1.7 0.4-1 0 2.3 0.3 1.5 0.7-0.3 0.2 0 1.1-1.5 0.3-2.1 0.3 3.3 0.1-3.4 0.3 3.1 0.6-2.7 0.6 2.7 0.3 0.3 1.8-1.9 0.3-2.4 0.5 1.9 0.3 0.3 0.6-1.3 0.1 1.3 0.2 1.1 0.1-2.5 0.6 4 2.1-1 1-3.7 1.8 1.4 0.3 2.8 0.3-2 0.5-1.5 0.3 2.3 1.5 0.6 1.1 0.4 0.5-1.2 0.2-1.3 0.4 2.3 1.1-1.9 0.3 0.4 1.2 0.7 1.6 1.1 1.3 0 0.2-3.2 2.7-0.8 1 0.1 1.3 2 0.6-1.2 2.3-0.9 2.2 3.8 0.2 0.6 0.4-0.8 2.3-2.2 0.1-2.1 15.7 0 -134.6 6.9 5.9 0.2 3.9 2.7 0.3-3.4 0.1 4.7 0.7-3.7 0.7-1.4 0.3 1.7 1.7-1.2 0 3 1.6-0.4 0.1 1.5 0.2-0.1 0.2-0.2 0.2-1.4 0.1-0.4 0.4-0.5 3.5-0.4 1.1 2.7 1.9-0.2 0.9-3.4 1.3 2.1 0.2-0.4 0.1 0 0.6-2.3 0.3 1.9 0.4 1 1.6-0.3 0-0.7 0.5-0.3 0-1.4 0.2 3.4 1.6-3.5 0.2 2.9 0-1.5 0.2 2.3 0.7 0.2 1 0.9 0.1-2.1 0.6 1.5 1.1-0.2 0.9-1.4 4.9 2.9 0.3-4.2 0.6 3.8 0.8-0.7 0.2-0.1 1.4-4.2 0.3 2.2 1.1-0.1 0.5 3.3 0.1-2.5 0.2-1.7 0.7-0.4 0.5 4.5 1-4.4 0.9 2.1 0.5-0.7 1.2-2.1 1 4.3 0.2-2 0.5 2.6 2.1-2.5 1.4 2.4 0.8-0.2 1.5-1.6 0.7-0.3 1 0.8 0.1 0.3 0.4-1.5 0.6 0.1 1.5-2 0.1-0.5 0.7 5 0-5 0.2 4.2 1-0.6 0-0.2 0.5-0.2 0.8-2.9 0.3-0.5 2.6 4.3 0.2-0.7 1.1-0.9 0.6 0.3 0-1.3 0.6 1.2 1.7-2.1 0.4 4.3 0.4-5 0.6 5.1 0-2.8 0.9 2.8 1-3.1 1.9 1.7 0.1-3.6 0.7 5.4 0.1-0.9 0.2 0.4 0.1 0.1 0.3-3.3 1.4 3.1 1.3-1.1 0.2-0.8 0.3-3.2 0.3 3.5 0.6-1.7 1.6-0.6 0.5 1.6 0.2-2 1.3 1.8 0.7-2.4 0.4 5.5 1.2-1 0.8-0.4 1.1 1 0.3-5.1 1.8 0 1 1.3 0.8 1.9 0.8 1 0.7-1.9 0.4 1.3 2.8-2.8 2.3 0.8 1.7 0.4 1-1.4 0.3-0.8 0.5 5.3 0.8-2.1 0.6-2.7 1.8 1.8 0 2.8 0.8-0.3 0.4-3.5 1.4 0.1 0.9 3.1 1-0.3 0.6-3.7 0.1 0.7 0.3 0.9 25.8-0.1 -129.6 6.9 2.1-1.7 0.2 2.1 0.8 0 1.2-2.6 3.1 1.8 0.7-1.8 1.1 4.5 0.1-0.9 0.3 0.4 1.4 0.1 1.1 0.2 1-3.3 1 1.8 0.9-2.3 3.2 0.2 1.6 0.2 1.1 3.2 1.1-0.7 2.9 0.9 0.4-3.3 1 3.6 0.4-4.6 1.2 1.7 0.5-1.8 0.1 2.8 0.1-1.1 1.2 2.9 3-3 0.1 0.1 0.3 2.9 0.5-4 1 3.3 1.8 0.6 0.6 0 1.9-0.1 1.4-2.2 0.1-0.6 0.2 0 0.6 1.7 0.7-1.1 1.6-0.5 0.7-1.4 0.1 3.7 0.5-4 0.1 4.4 1-3.6 3.4 3.8 0.2-4.2 0.9-1.2 0.4 4.6 1.2-3.4 0-0.6 0.2 1.4 0.2-0.2 0.2-0.9 0.5 2.9 2 1.2 3 0.1 0.5-0.2 0.6-3.8 0-0.2 0.5-0.5 0.1 1.9 0.2-0.6 1.4-1 0.2 1.4 0.6 3.7 1.2-1.4 1-0.3 0.4 1.9 0.5-5.5 0.8 0.9 0.2 4.1 1-1.3 0.1 1.4 0.2-5.3 0.3-0.3 4.1 3.1 2.5 0.2 0.2-0.6 0 2.8 1.1-5.3 0.2 1.3 0.1-0.3 0.6 3 0.1-3.9 0.8 4.3 0.4-0.8 0.5-1 1.2 2.8 0.2-1.5 1.7-1 0.2 1.4 0.4-1.6 1-2.4 2.1 0.5 0.3 3.6 0.2-3.3 2.6 1.8 1.4-0.1 0.5 2 0.2 0.9 0.6-3 0.4 0.2 0.6-2.2 0.8 0 0.3-0.4 0.2 0.1 0.5 4.6 0.8-4.4 0.3 1.8 0.8 1.8 1 0.1 0.1-0.9 0.5-3.1 0.1 0.9 0.2 3.8 0.2-2.5 0.1 0.2 0.1-1.4 0.8 4.4 0.3-4.8 0 2.4 0.7-1 0.2-0.8 24.4 2.2 -148.5 6.6 12.4-2.5 12.2-1.7 2.3 1.7 0.2 1.1 0.9-2.5 1.5-0.1 1 2.7 1.9 0.4 0.7-1.2 0.4 1.8 2-2.4 0.2 4 0.2-4.1 0.2 0.5 1.1 3.7 0.6-0.2 0.7-3.7 1.3-0.5 0.4-0.4 2.3 4.3 0.6-1 0.3-2.4 2.6 1.5 0 0.8 0.5 0.2 0.2 0.4 1.4-0.6 0.3-2.3 0.1 0.3 0.2 1 1.5-2.5 1.3 4.8 0.2-3.9 0.8-1.4 1 1 0 0.6 0.1 2.1 1.6-0.5 0.7-1.6 0.1 1.8 0.1 2 0.5-5.2 0.1 2.7 0.9-2.7 0.4 1.5 0 3.3 0.4-2 0.1-2 1.6-0.4 2 3.7 3.3-4.3 0.3 2.8 0.2 2.8 0.4-0.5 0.6-4.3 0.8-0.1 2.9 0.4 0.5 3.4 0.3-0.1 0.3-3.8 0.6 1.4 1.4-0.5 0.4 3.4 0.1-3.4 0.9-1.8 0.2 1.6 0.1-0.1 0.5 2.5 0.9-1.9 0 0.6 1.3 0.6 0.2 2.5 4.8-4.5 1 0.4 0.1 3.2 0.5-0.3 0.2-4.5 2 2.9 0.8-0.3 0 2 0.3-2.3 0 3.2 0-5.3 1.3 0 1.2 1.3 0.2-1.2 0.5 4.3 0-0.4 2.8-2.8 0.1 2.1 0.1-0.7 1.3-0.9 0.3-0.7 0 2.2 1.4-3.2 1.1 1.9 1.2-0.7 0.9-1.3 1.2 5 0-0.5 2.4-2.4 1-0.2 1.6 2.1 0.6 0.4 0.3-3.1 0-1 1.1-0.1 1 0.2 0.4 2.8 0.9 2.6 1-5.7 1.8 0.5 0.4 5.2 1.6-5.5 3 3.6 0.3-4.1 0.4 0.3 0.9 2.2 0.6-2.2 0.2 0.2 0.3 2.8 0.8-0.3 0.1 0.9 0.3-3.5 0.3 3.6 0-1.7 -107.7 4.2 7.4 0.5 9.7-0.8 1.9 4 0.3-3.8 1.3 1 0.2-0.9 0.6 2.2 0.5 2.5 0.4-2.4 1.4 1.8 4.6 0.7 0.5-0.6 1-0.5 1.2 1.2 0 0.5 0.8-5.7 0.4 2.7 1-1 0.6 2.8 2-3.1 0.7 4.2 0.6-3.8 0.5-1 0.4 0.3 0.2-0.4 0 1.6 1.4-2.3 0.1 4.9 1-2.6 0.6-1.2 0.9 2.5 0.3-3.5 0.5 3.5 0.6 1.2 1.4 0.3 1.9-2.9 0.2-0.6 0.1 0.1 0.5 0.9 2.6-0.5 0.8 0.4 0.2 1.9 0.4-2.7 0.3 2.5 1.3-0.1 3.6-4 0.4 2.8 0.6 0.4 0.5 2.4 0.1-3.5 0.8-2.2 0.6 1.2 0.4 2.9 0.4 0.7 2.6-1.3 0.6-1.5 1.9 1 0.8 1.5 0-4 1.7 0.4 0.5 3.1 2.1-0.4 0.7-1.8 0-0.8 0.1 1.8 1-0.9 1 1.5 0.2 1.6 3.9 0.7 0.3-3.3 1.4-0.9 1 0.1 0 2.6 1.4 0.9 1.6-1.9 0.7-1.3 0.8-1.3 1 3.4 0-3.4 0.5-0.3 0.2 3.7 0.9 0.9 0.7-2 0.8-0.5 0 0 1 2.1 1.1-1.6 0.1-0.3 0.3-2 2.3 4.4 0.2-0.8 1.2 0.4 0.4-4.7 0.1 3.6 2.9 1.4 0.2-2.2 0.1 0 0.7-1.5 0.5-0.8 0 5.3 0.4-2.9 1.1 0.7 1.2-2.2 0.2 1.8 5.2-2.3 -83.8 6.4 4.1 2.5 0.6-3.2 0.4 1.9 1.6-1.2 0.4 2.7 0.6-2.5 0.1 2.1 0.9-1 0.8 0.3 0.1-2.2 0.2 1.9 0.4 3.2 0.5-1.2 0.5-0.2 0.4-2.4 1.1 2.6 0.1 1.2 0.4-3.3 1.8 2.1 0.1-2.8 0.7-1 1.8 1.7 0.4-1.9 1.3 3.8 1.2 1.5 1.2-1.5 0.1-2.3 3.4-1.5 0.1 3 0 0.7 1.5-3.5 0.6 1.5 0.5-0.4 0.2-1.4 1.1 1.1 0.5-1.4 1.9 3.3 0.1-3.5 0.3 2.2 0 1.4 0-3.3 0.2 4.2 1.1-2.1 0.9 0.2 1 2 1.1-4.4 0 1.9 2.2 3.1 0.5 0.6 0-2 3.2-2.6 2.1 1.7 0 1.6 0.5-1.8 0.8-1.5 0.1 3.5 1.6-3.2 0 2.3 0.2 1.7 0.2-3.5 0.5 0.6 0.6-1.7 1.3-0.5 0.6 0.6 0.5-1.1 0.5 5.7 1.5-3.2 0 0.5 0.1 2.3 1.1-0.7 1.7-4.6 0.5 4.1 0.5-2.9 1.3 2.5 1.1-3.6 0.3 3.8 0.5 0.4 0.5 1.3 0.1-5.2 0.9 1.7 0.4 2.6 0.7 0 0.5-1.9 0.9 1.7 0.2 0.7 2.9 0.1 0.6-2.1 0.1 2.1 0.1-1 0.4 0.3 0.4-2.2 3.2 0 18.9-1.2 -78.7 6.4 2.8 1.1 0 0.5 0.6 1.5 0.3-4.6 1.3 0 0.5 2.4 2-1.3 0 1.5 0.4-2.3 1.2 1.5 0.6-0.4 1.8 2.8 1.1-0.8 0.3 1.2 1.2-4.2 1.8 4.7 1.3-4.1 0.9 4.7 0.2-4 2.2 2.8 0.1-3 2.4-0.3 2.3 2.7 0.1 0.3 0.5-2.7 0.3-0.1 0.5 2 0.7 1.1 1.3-0.5 1 0.5 0.3-1.6 0.5 1.1 0.6-2 0.1 0.8 0.7 1.2 0.9 1.6 0.8-0.2 0.1-0.9 0.3-3.8 0.3-0.4 0.4 0.4 0.4 4.2 0.3-4.4 0.1 4.7 1.3-2.6 0.3 3.2 1.3-0.8 0.1-2 0.2 1.3 0.6-2.9 2.2 0.9 3.6 2.4 0.5-4.3 0.8 1.8 0.1-1.8 0 5 0.2-2.3 0.5-1.2 0.4 2 0.4 0.3 0.3-1.4 0.4-0.5 0.1-2.1 1.5 1.7 0.1-1.2 0.5-0.7 1 0.8 2.1 0.3 -47.7 5.5 0.3-0.4 0.7 2 1.7-2.1 0.9 3.4 0.8-1.4 0.1 1.1 0.9-2.8 0.2 2.6 0.2-1 0.3-1.4 0.8 1.1 0.9-0.7 0.2-0.4 0.1 1.7 0.1 1.6 0.4 1.1 0-2.1 0.3-1 0.5 2.9 0.7-1.9 0.2-0.9 0-0.1 1 2.9 1.7-2.2 0.4-1.9 0.8 2.5 0.6-2.6 0.1-0.1 0 4.8 2.1-2.1 1-2 0.3-0.5 0 2.7 0.3 1.3 1.1-0.3 1.6-4.3 0.1 5 0.8-0.9 0.1-0.3 0-4 0.1 2.6 0.5 1.4 0.3-2.7 0.2 0.3 0.8-0.2 0.9 3.2 1-1.1 0.9 0.4 1.2-0.2 0.8 1.1 0.3-3.9 0.6 3.9 0.3-3.1 0.1 1.7 0.6-3.1 0.4 1.2 0.3 3.3 0.2-2.1 0.4-0.5 0.9 0.1 0.3-2 0.1 5.2 1.7-1 0.4-0.8 0.2-0.9 0.5-2.5 0.5 1.4 0.1-1 0.8-0.1 0.1-0.1 -29.8 6.3 1.1-0.1 4.4 0.6 0.7 1.5 0.6 2 0.2-1.8 0.2-0.4 0.7 1 1 1.9 0.7-5 0.3 3.7 0.4-3.2 0.1 1.7 0.2 1.4 0.2-0.5 0.2-0.2 1.1 0.7 0.6-3.4 1.3 4.2 0.5-0.6 0 0.7 0.1 0.9 0.2-3.5 0.2-0.9 0.1 0.4 2.1 3.5 0.5-0.7 0.1 0.4 0.5-4.2 0.3 4.5 0.5-0.9 0.5-0.4 0.2 0.8 0.2-3.1 0.8-0.5 0.9 2.4 0.7-2.6 0.1-0.4 1.4-0.3 -15.1 5.9 0.2-0.3 0.5 1.3 1 0.6 0-1.2 0.7 1.4 0.2-1.2 0.5 1.3 0.7-1.2 0.8 1 0.7 0.1 0.1-1.8 0.5 0.7 0.1 1.1 0.3-0.7 0.7-1.3 0.3 1.2 1-0.5 0.5-0.3 0.6-0.1" fill="none" marker-start="url(#mg)" marker-mid="url(#mg)" marker-end="url(#mg)"/>
<path d="M228.2 1012l167.4 54 -65.2 7.8 -25.4 9 48-2 5.3 0 -56.6 5.7 22.6 10.3 65.6-0.4 -198.3 17.1 87.3 1 12.9 4.8 -22.7 6.8 35.3 9.1 22.5 6.3 49.3-2.7 19.8 2.7 -176.6 1.6 69.8 5.2 17.7-0.9 36.7-0.9 30.8 2.4 -191.1 0.4 116.1 4.3 81.8-4.5 13.6 0 1.4 2.9 -70.6 7.8 70.8-2.6 -227.7 4.9 122 3.2 28.5-4.1 16.6 1.2 5.1-0.3 8.2-0.2 -142.5 7.5 76.8-2.1 7.1 2.2 58.5-1.5 5.4-0.5 37.9-0.2 -218.7 9.5 64.5 1.4 1.9-2.2 23.1 2 21.5-4.7 21.7 0.2 75.9 3.5 10.4 1.6 -156.6 0.4 42.4 4.7 12.4-1.7 27.7 2.9 32.7-5.6 28 4 -80.9 2.8 10.2 0.8 1.7 1.8 4.5-2.9 15.6 2.9 4.7-1 8.7-2.4 20.6 1.5 19.5 3.1 10.5-3 0.7-1.1 0.3 0.7 -114.5 7 29.8 3.5 8.8-2 13.4-2.6 15.2-1.4 5.1 3.1 12-2.1 0.8 3 5.8-1.4 22.9-1 0.2 2.8 -212.7 7.6 37.5-2.7 55.9-0.3 3-2.6 27.8 0.7 33.5 1.5 16.5 3.3 3-1.6 30.9-3.6 3.2 5.1 -56.7 4 4.3 0.5 28.5 0.8 -144.8 3.6 56.3-1.1 44.2 0.7 21.8 2.9 3.7-3.8 12.7-1.2 4.2 5.5 7.8-1.2 4.6 0.4 -153 4.6 6.9-0.5 27-0.5 20.8 0.6 12.4 2.8 15.7-0.6 7.6-4.5 8.4 0.6 26.3-0.7 11.8-0.2 22.9 1.7 6.5 0.5 -167.9 6.8 3.2-2.4 1.9 3.6 26 0.9 27.7-3.8 18.3 3.1 10.6-1.1 3.4-3.3 0.4 4.2 3.3-2.9 0.4 2.7 15.5-2.2 39.1 0.6 3.4-0.3 6.7-0.3 1.3 2.4 4.5-4.3 -155.9 10.8 23.3-3.1 4.1 2.3 9.9-1.9 5.1-2.3 13.6 0.7 21 2.7 20.5 0 26.6-1.5 4.1 2.3 0.6-0.4 1.6-1.2 7.3 2.6 2.6 0.6 11.6-3.4 5.9 0.4 -162.6 4.2 38.5 0.6 12.6 1.7 33.1-0.3 0.7-1.1 1.5-2 21.6 4.5 8.3-3.7 1.1 3.2 15.1-0.1 0.1-0.9 1.3 1.7 3-4.1 0.1 1.5 3.9 1.2 6.2-2.4 3.2-0.8 3.6-0.1 2.9 0 0.2 0.7 3.6-0.7 3.9 0.3 0.2 2.7 1.5 1.2 -176.1 7 19-4.1 9.6 0.3 4.9 2 3.2 0.3 3.3 1.8 21.5-3.4 1.8 1.5 7.7 1.1 3.9-4.5 22 0.7 21.4 0.6 25.3 0.5 10.2 2 5.8-2.9 4.5-0.5 7.9-0.5 2 2.4 -200.8 7.3 34.4-1.5 24.4 3.3 11.9-3.4 20.3 0.5 11.3-0.8 30.5 3.4 3-5.2 5.8 5 2-4.1 28-0.2 2.6 0.7 4.3 0.7 4.1-1 4.9 2.8 4.1-0.2 5.4-0.7 2.8-3.1 0.6 3.3 2.6 1.6 -206.1 3.4 50.7 0.2 9.5 0.4 7.4 0.5 14-1.8 2.7 1.1 9.9-0.2 24.7 1.6 3.3 0.6 3.1 0.9 16.2-4.5 18.6 3.3 6.4-3 4.3 1.6 3.1 1.4 9.2-2.4 22.8 1.6 -172.5 4.4 3 3.7 11.6-4.5 24.9 1.8 15-1.4 27.3 3 6.2-4.2 8.9 3.5 3.6-1.1 19.7-1.4 4.9 3.3 2.8-3.1 0.8 3.7 3.7-2 6.3-0.7 2.3 0.7 8.7 0.2 6.9 2.4 4.8-0.3 4.2-5.6 4.3 5.6 2 0.2 0.6-1 -174.4 4.4 21.3 2.5 9.4-1.2 11.7-4.5 5.7 3.9 3.1-2.9 4 0.6 22.8 1.6 21.1 1.6 5.7-1.4 6.1-1.7 0.5 0.9 6.2 0.4 0.8-2.2 11.7 1.7 0.2 2.9 4.4-5.3 5.6 3.7 5.7-3 7 5 5.3-3.5 10.9 0.3 0.7-2.3 2.2 0.6 -171.5 8.9 27.6-2 6.8 3.7 35.5-4 15.8 2.7 4.9-0.8 13.1-1.7 0.2-0.7 5 4.8 2.2-2.7 5.2 1.1 5.8 0.8 3.4-0.4 1.1-0.4 1.8-1.9 6.9 2.5 1.7-1.8 14.9 2.2 0.1-2.2 6.7-1 1.5 3.7 6-1.9 3.7 1.2 2.9-4.4 -204.8 7.9 23.3 0 13.9-0.4 10.6 0.1 3.2 0.3 11.7-1.4 6.3 4 1.5-1.4 2.5-1.7 9.8 3.2 34.4-3.9 3.5 3 26.3 0 3.6-2.1 2.2-0.9 9.6 2.3 0.8-1.1 8.7 2.4 3.2-1.3 1.5-2.6 1.4 3.6 12.1 0.1 2.4-3.9 2.9 1.7 2.9 0.9 0.4-0.4 3 1.3 0.2-0.3 1.4-3.1 1.6 4.6 0.2-5 0.4 1.9 0.5-0.2 -161.6 5.1 19.1 1 8.9 1.7 2.7-0.9 4.4 1.5 20.9-1.1 2.2 0.7 9.1-1 3.2 1.4 15.5 0.9 4.8-0.6 6.7 1 11.1-0.3 1.5-5.7 1.5 4.3 0.2-0.7 2.6 1.6 5.5-0.1 3.3-1.1 0.9-2.6 0.8 0.3 11-1.3 7.2 0.1 0.7 4.1 1.1 1.3 14.5-4.9 2.2 4.8 -159.2 0.4 1 1.4 13.7-0.5 0.9 3.9 3.8-3.7 3.1 4.3 13-1.3 2.7-2 0.2 1.3 15.2-0.2 15.8 2.4 0.8-0.7 3.3-1.8 9.3-3.2 1.7 0.7 18.8 0.2 3.9 4.4 5.9-2.8 12.3 1.9 1.9-3.6 0.7 2.4 0.9 1.2 9 1.4 1.1-1.1 2.2-2 0-0.2 5.3 2.1 4.1 0.5 1.1-4.5 3.5 4 1.2-2.3 0.6 0.8 0.2-1.4 0-1.6 0.5 2.2 -167.6 6.2 18.1-1.8 24.5 0.4 2.8 1.6 8.7 1.8 6.5-0.5 3.8 0.2 7.8 1.2 13.1-4.4 1.8 0.1 4.9 4.1 24-4.6 6 4.8 0.9-2.2 1.1-1.7 0.1-1.1 0.6 4.8 1.6-2.3 1.8-0.1 5.4-2.7 6 3.3 2.5-2 5.6 4.2 5.4-2.4 4 2.2 0.5-3.6 0.5 2 0.5-1.7 0.3 1 4-3 2.7 1.3 2.1 2.3 0.1-0.6 0.3-2.4 0.4 1.8 0.3-1.9 -145.6 8.2 7.6-1.5 29 3.9 1.2-3 2.2 0.9 4.1-2.6 19.8 5.1 3.2-2.2 3.8 1.1 0.4-3.6 5 3.3 10-4.1 0.2 3.6 1.5 1.6 6.9 0.5 0.7-4.9 0.7 1.9 4.3 1.8 0.7-3.7 5.5 4.1 6.7-0.4 10.3-4.5 1.6 4 0.9-3.3 0.3-0.8 0.2 4.3 5.7-0.4 4.6-1.6 -103.2 6.7 4.5 2.9 2.5-3.4 6.7-2.2 5.9 2.1 6.2 2 0.9-1.5 0.1-0.5 6.9 0.1 3.2 1.2 3.4 1.9 13.6-2.9 0.5-0.8 5.2-1.8 7.9 0.1 2.1 3.8 1.9 1 4.1-3.6 5.9 4.3 6.5-3.7 1.1 0.3 1.7 1.4 7.2 0.9 1-1.5 1.8-2.8 5.8 1.4 1.2 0.6 4 2.5 -156.1 4.3 48.2 1.9 3.4-1.8 1.7 2.3 0.6-3.4 9.2 2.3 23-2.1 9 3 0.7-0.3 9.4-2 1.2 2.4 7.3-2.1 8.3-2 1.9 0.5 11.5 0.9 0.3 0.1 1.4-1 1.4 1.4 4.1 1.9 0.8-2.4 0.6 0.5 2.5 0.7 3-3.2 0.6-0.5 0.3 2 4.5-2 1.1 0.5 -168.9 10.1 15.5 0.1 15.3 0.4 0.8-1.2 4 1.3 8.3-1.4 7.8-3.3 7.5 5 0.2-4 20.9 0 5.3 2.1 6.4-0.8 5.5-0.8 0.5-2 1.5 1.4 0.9 2.5 3.1 0.9 14.8 0.2 0.4-1.6 5.1-2.6 1.1 1.6 2.3 1.6 3.9-3.2 3.2-0.9 2.4 1.3 7.1-1 1.9 3.7 4.3-0.1 1 0.4 8.9-0.5 0.8-0.6 0.5 1.6 0.1-1.8 1.2 1.3 2.1-0.6 2.3 0.9 1.8 0.9 0.3-3.6 0.1-2 0 4.6 0.2 0.5 -165.6 6.6 6-2.1 1.1 1.9 0.2-0.9 2.1-4.2 2.9-0.2 17.5 3.9 11.4-0.1 4.4-3.5 12.8 4.8 3.4-0.9 6.9 1.4 6.2-5.9 4.1 2.9 4.6 2.6 3-1.6 6.7-2.2 3.1 0.6 7.8-0.5 0.6 1.1 7.6-2.7 4.8 5.6 0.7-2.3 0.4-0.5 1.1-2.3 0.2 1.5 0-1.3 4 3.9 2.3-0.4 1.1 1.5 0.7-3.1 9.8 1.3 4.4-2.7 2.4 3.2 0.7 1.2 1.2-4 0.1 2.5 3.2-2.7 0.4 3.6 4.4 0.7 1.4-5.4 0.6 0.1 1.8 3.4 0.4-0.2 0.9 0.1 0.6-2.5 2.5 2.3 0.2 0 0.9-0.5 1.5 0.7 0.3-3.2 -218 7.7 50.8 1.5 16 1.4 14.2-4 23 2.2 5.2 2.5 10.7-3.5 14.3 2.6 21.4-0.6 2.4-2.8 0.2 1.5 11.5 2.6 1.3 0.1 1.8-4.3 0.6 4 0.4-5.3 1.4 4 1.8 0.2 5.1-0.5 3.8 0.1 2.5 0.4 4.1-3 3.7 4.3 3.7 0.1 0.5-2 1.6-3.4 1.1 4.4 0.3-1 3.5-2.4 6.5-0.8 1.4 4.7 1.9-3.2 0.3 3.2 -164.7 2.3 10.1 1.3 6.2-2.5 11.6-0.1 1.5 0.3 0.6 3.1 5 0.9 3.4-2.2 1.2-0.4 1.5 2.9 3.5-1.4 19.3-3.3 0.7 3.2 2.1 2 4.5-2.7 18.6 0.7 5.3 0.7 3.6-2.8 2.7 0.9 3.6-0.2 5.5-0.5 1.2 3.5 6.1-4.3 1.4 3.8 0.9-4.4 6.3 4.6 1.2-2.4 0.7 3.4 9.9-0.1 1.9-2.7 1 2.8 0.8-1.6 0.8-0.9 4.3 2 3.2-2.9 2.2-2.2 2.8 1.6 6.9-1.5 0.1 3.9 0.6 0.4 0.9-3.3 1.7 1.5 0.2-2.7 -175.8 8.8 35.8-1.4 0.4 4.5 0.2-5.6 20.2 4.9 12.1-1.7 3.1-2.1 6.6 3.1 4.4 1.3 12.2-4.5 5.5-0.3 1.2 3.7 0.5-2.9 5.6 1.8 3.1-1 1.5-0.3 2.2-0.2 0.3 3 1.8-3.9 1.5 1.3 2.9 2.3 7.3-3.7 2.6 2.4 0.5-3.5 4.5 4 0.6 0.3 0 0.1 2.8-1.2 3.8-2.6 1.9 4.3 1.1-4.7 0.6 3.7 3.7-0.3 2.8-0.8 2-2.1 1.3 5.2 1.9-5.7 0.9 1.2 4.3 1.7 0.2-2.1 3.1 2.9 4.6-2.5 1.1 2.9 1.1-3.1 0.3 4.3 0.4-3.8 0.4-1.7 1.2 2.9 0 2.4 -142 5.6 24.6-1.8 27.2-2.5 8.8 0.9 0.6 0.6 6.2 1.1 0-2.7 7.5 4.7 4.2 0.5 3.7-2.9 4.5 0.7 3-1 3.2 0.4 0.4 1.8 0.9-0.3 0-4.3 0.1 2.2 1.9-0.9 1.7 1.6 0.9-2.4 3.8 1.4 2.3 1 0.7-2.2 0.2 2.2 0.1 1.4 0.8-1.9 0.8 1 0.3 0.3 0.3-2.4 3.3-0.5 1.9-0.2 0.8 3.4 0.2 0.5 6.9-1.6 1.8 1.7 4.8 1.2 3.4-3.9 0.4 2.1 3.8 1.4 0.6-0.9 2.4-3.2 0.6 1.8 1.1-2.3 0.8 2.6 0.2-1.9 -189.2 5.9 45.4 0.5 4.8-0.5 11.9 4.2 4-0.1 5.4-1.6 0.8-0.6 4.6-1.4 20.8 3.1 14.9-0.8 10.6-4.3 1.3 1.9 0.7 0.1 0.7 3.8 2-5 1.3 3.2 0.6-4.1 0.9 5.6 5.6-1.2 0.1 0.7 0.5 0 0.5-4.2 1.1 0.1 0.2 3.7 0.7-4.4 3.5 1.7 0.8-0.2 3.6 0.3 0.7 1.3 2.8-2 0.3 2.8 1.1 0.6 1.3-0.7 3.5-3.3 1.3 2.6 1.3-3.3 5.2 5.7 4.6-5.1 0.9 1 2.7 1.8 0.4 2.3 4.6-4.9 0.4 1.7 0.9 2.4 0.6-3.5 0.7-0.5 0.4 4.8 0.5-0.3 1.3-3.8 0.3 1.4 0.7 1.2 2.3-1.5 0.2-1.9 1.1 0.3 0.1-1.2 0.3 4.4 0.2-2.2 0.7-1.4 0.3 1.5 0.4-0.7 -148.4 7 0.6-0.4 6 0.3 8.9-1.6 16.5 3.4 5.1-1.6 5.9-1.2 7.5 3.8 11-1.3 3.5 0.6 9-1.9 2.1 3.2 5.3-4.6 0.6 0 1.2 1 0.6-0.9 0.4 2.1 4.3-2.1 5.4 3.2 2-0.2 0-0.2 2.5 0.9 3.8-2 3.2-1 0.6 2.4 0.1 1 0.7-4.7 1.7 0.9 6.8 1.7 1-2.3 1.8 1.1 1 1.4 1.8-0.7 4.3 0.8 0.6-3 1.9 2.9 0.7 0.3 2.2 0.1 12.1-2.5 0.7-1.4 0.5 2.1 0.6 0.7 0.7-1.7 0 1.1 0.4 2.9 0.4-3.5 0.8 0.9 0.4-2.4 -146.7 9.5 1.5-0.7 19.7 0.4 12.9-3.1 10.1 3.1 0.3-2.1 11.7 4.3 9.8-1.2 4.4 0.9 7.7-4.4 1.4 4.4 5.5-4.7 3-0.3 0.3 2.6 2 1 0.7 1 1.6 0.8 1.4-0.7 0.2-3.7 2.6-0.4 0 1.5 1.1 3.2 1.1-5.2 0.8 2.2 0.4-1.1 1.8-0.3 0.3 0.2 0.3 3.2 0.2-3 0.1 1.3 1.7-2 1.5 3.2 0.3 0 0.3 0.3 0.3-2.3 1 3.1 0.1-4.1 0.9 2.6 0.1-2.2 0.9 1.9 0.7-0.4 4.8-0.1 1.6 1.1 3.8-3.3 2.9 4.8 0.4-3.2 0.4 2.9 0.3-2.2 3.2 1.4 0.1 0.2 1.2-3.6 0.9-0.7 1 2.7 0.3-0.1 1.1-1.6 3.3-1 0 0.7 0.1 4.2 1.6-2.7 0 0 0.3-0.4 0.2 1.7 0.1 0.1 1.1-0.4 1.2 1.5 3.1-0.8 0.2 1.4 1.7-5.2 0.1 4.8 0-2.1 0.1 1.8 0.1-0.6 0-2.3 0.1-0.7 1 3.1 0 0.1 0.2 0.1 0.5 0.9 0-0.8 -146.2 2.2 6.2 4.5 6.8-4.8 15.8 1.8 3.7-1.2 12.9 4.6 8.3-5.1 7.6 5 2.5-4.8 2.4 2.5 3.5 0.7 9.6-2.1 0.9 0.4 3.8-0.3 1.8 1.4 1.6-2.1 0.1 0.7 1.7 0.8 0.1 2.1 0.8-3 0.1-0.9 0.3 2.5 1.2 0.7 0.8-3.9 0.5 1.8 3.1 1.2 0.5 1.5 0.4 0.6 0.2-1.5 0-1.8 0.3-2 0.9 2 1.5 3.5 1.8-1.5 0.5-4 2.9 1 1 2.9 0.1-3.4 0.5 1.5 2.3 0.7 0.7-1.7 1.4 4.3 3.7-1.8 1-2 2.2 3.2 0.3-0.8 0.2-3.5 0.5 2.7 0.7 0.3 0.1 1.4 1.2-3.4 0.6-0.8 1 4.1 1.1-0.7 0.3-1.6 1.1 1.1 2.1 1.8 1.8-4 0.3-1.1 0.5 4.2 1-1.7 3.7-0.4 0.5 1.4 1.6 0.1 0.7-2 0.1-1 0.7 3.4 1.3-0.1 0.4 0.8 1.8-0.1 2-4.7 1.4-0.2 0.2 1 0.2-0.7 0.6 1.9 0.2-1.5 0.3 2 0 0 -142.2 7.4 24.9 1.2 5-3.5 10.5-1.8 0.1 3.2 22.2 2.6 1.8-4.1 3.1 0.7 3.3-0.9 2 3.8 0.8-1.7 0.1-2.7 7.2 2.4 0.1-3 1.5-0.1 0.2 4.8 5-3.9 1.1-0.7 2.3 2.7 1.1 2.8 2.3-2.4 1.3-0.8 0.9-0.4 0.2 2.2 1.9 1 0.5-4.2 1.2 2.8 2.6-2.6 1.4-1.6 2.1 4.7 2.1-4.6 3 0.2 1.5 3.8 1.2 0 3.9-1.2 0.2 2.4 1.9-3.6 1.4 2.5 0.8 0.3 0.2-1.2 0.9 2.2 0.1-5.2 1.7 4.9 0.7 0 1.5-1.3 2.2-1.6 1.5-1.9 0.3 0.9 0.6 3.7 0.8-1.1 0.7-2.6 0.2 2.9 0-0.9 0.7 0.7 0.3 1.5 0.6-2.7 1.2-1.5 0.1-0.1 0 3.4 0.5 0.6 1-4.3 0.9 1.1 0.3 3.8 2.5-1.2 -140.2 5.6 27.4 0.2 13 0.4 8-4.1 5.4 3 7-2.4 3.9 2.4 3.4-0.2 0.8-1.5 0.4 0.3 0.8-0.9 1.3 1.9 1.9-1.4 2.6 2.1 3-2.7 1.8-0.3 1.4 4.8 0.7-0.5 1.9-3.5 0.2 0.9 0.3 2.3 2.1-3 2.6 2.8 2.6-2.5 0.9-2.2 2 3.2 1.1-2.4 0.2 3.6 1.7-2.9 0.4 1.5 0.6 1.7 1.7-0.9 2-0.7 0.4 2.3 1.6-4.4 0.4 2.8 0.5 0.6 0.7-1.2 1.9 1.6 0.2 0.4 0.6-0.1 0.1-2.3 2.9-0.8 2.8 1.5 0-2.2 0.4 0.2 0.1 3.7 0.4-0.1 0.3 0.4 0.3-4.4 0.8 2.6 0.7-2.2 3.6 1.8 0.5-1.2 1.4 0.2 0.4 2.6 0.1-4.2 0.7 3.4 0.3-1.4 0.8-1.6 6.9 4.3 1.2-3.7 2.5-0.2 1.6-0.2 0 1.9 1.4-2.6 0.1 1.6 0.2 2.8 0.2-4.2 -138.3 8 7.8-2.7 3.2 1.6 0.8 0 1.7-0.7 12.2-0.2 13.6 0.3 7.5 1 1.7 2.5 4.6-4.2 2.9 1.4 2-0.7 1 3.8 0.2-1 7.4 1.7 1.3-5.2 1.1 5 2.5-1.8 1.4-1.5 0.6-1.2 1.2 1.5 0.8 0.9 0.2 2.6 1.4-2.5 1.1 0 0.4-1.3 2.8 1.6 4.2-0.7 2.1-0.8 0.1 0 0.7 0.7 4.4 2.3 1.1-3.3 0.9 2.1 1.2-0.2 0.6 2.1 0.2-4.3 1 0 0.9 0.1 0.8 3.8 0.8-4.7 2.2 1.6 0.2 0.7 0.3 2.5 1.4-2.6 1.9 0.5 2.9 1.8 1.2-1.8 1.3 0 0.2 0.3 0.6-1.1 0.3 0.4 0.6-1.9 0.4 1.9 0.2 0.5 0.9-3.2 0.1 0.8 1.4-0.5 1 2.3 0.1-2.4 1.4 1.7 0.2 0.2 0.2 1.8 2-1 0.5 0.1 0.5 0.7 0.8 0.1 0-3.6 6.3 3.6 1.3-2.2 0 3.6 1.9-2.6 0.1-1.2 0.9 1.1 0.3-1.6 0.4-0.3 0.6 2.7 0.4-2.2 0.2-1 0.2 4.1 0.2-2.4 1-2.1 0.6 4.3 0.2-0.8 -192 7.2 22.6 0.6 6.2-1.8 39.1 2.3 31.7-3.4 0.9-1.1 7.9 1.2 9.7-1.3 0.3 1.4 2.1-1.5 1.9 1.7 5.9 0.2 0 1.9 0.5-3.3 0.3 1 1.7 1.9 1.2-2.6 0.6-2 2 0 1 4.3 0.7-1.3 0.6-2.1 0.2 2.2 0.1 0.4 0.1-0.8 1.5-1.6 0.3 4.1 0.9-1.9 1.7 1.7 1 0.6 0.4-5 0.2-0.3 1.3 0.6 2.1 1.4 0.3 0.9 3.8 0.8 0.1-1.2 1 1.9 0.7-1.9 0.7 2.1 0.5-0.3 1 0.5 1.8-3 0.5 1.2 0.5-1 2.8-0.3 0.2 3.3 0.2-3.1 0.2 3.2 0.3-0.3 4.6-0.5 1.8-2.4 0.1-1.6 0.4 2.5 0.9 2.5 1.1-2.6 1.9 0.6 1.1 0.4 1.3-2.9 0.3 0.3 0.9 2.6 2-1.8 1-2.2 1.3 0.9 0 0.2 0.5 4.4 0.3-0.6 2.4 0.1 0.3 0.2 0.2-4.4 0.9 3.4 2.4 0.9 0.5-3.6 0.1 1.1 1-0.3 1-1.5 1.5 4.7 0.1-4.4 1.3 3.5 -117.8 4.8 1.7 0.8 4.4-2.4 5.2-1.5 4 1.4 8.3-0.5 0.3 1 9.6-1.1 2.5 3 7.4-0.1 0.8 0.6 3.3-0.9 1-3.5 0.8 5.4 1.4-4.6 1.4-0.3 0.2 5 0.3-1.1 0.1-0.8 4.1 1.3 0.7-3.9 3.1 1.5 3.7 1.4 0.2-0.9 4.2-3.2 0 5 0.4 0.7 0.2-2.1 2.8-1.6 0.1 1.9 0.6-2.1 1.1 1.9 0.8 1.2 3-3.3 0.1-0.3 0.6-0.1 0.9-0.9 0.5 3.2 0.4 2.2 0.5-4.3 0.1 1.7 1-0.4 0.9-1.7 0.5 0.7 4.1 2 2.2-0.5 1.8 1.4 0.5-1.3 0.7-3.4 0.1 2 1 1.7 0.3-3.1 0.9 5.4 0.6-2.9 1-2.9 1.7 0.1 0.7 2.3 0.3 0.4 1.6-2.4 0.8 0.5 1.4 3.6 0.3-2.1 0.2-1.7 0.3 3.1 0.2 0 0.8-3.1 0.8 2.7 1.9-2 1.4 3.1 0.3-3.7 0.3-0.5 0.6 5.4 0.5-0.5 3-0.1 0.2-2.6 0.2-1.2 1.4 1.9 0.1-0.5 0.3-1.3 0.2-0.3 0.4-0.4 0.6 4.1 0.6-4.4 0.3 4 -127.3 2.7 1.2 0.3 2.8-0.8 17 4.7 18.6-2 11.1 1.5 1.6-0.5 1-0.7 1.2-2.8 7.1 3.4 2.8-2.6 1.4 3.1 2.3-3.8 0.9 1.9 0.2 0.7 1.6 1.7 3.4-5.1 4.1 2.4 1.2 2.1 0.6-3.6 0.6 3.6 5.4-2 1.3 0.5 1.2-0.7 1.5 0.5 0 1.4 0.9-2.5 0.2-0.7 2.3-0.2 0.8 2.1 1.2 2.1 0.3-4.7 1 4.4 1.6-2 0.1 1.5 1.2 1.5 0.5-0.1 1.4-3.5 0.5-1.8 0.1 0.9 0.4 0.7 1.4 0.4 0.6-1.9 2.5 0.7 1 1.3 0.1 3.2 0.2-2.5 0.5-0.1 0.4-1.7 1.3 0 0 2.9 1.1-3.9 1.3 1.4 0.5 2.4 0.6 1.4 0.2-1 0.1-3 0.1 2.4 3.5-1.9 0.6 2.7 0.1-3.1 0.7 1.5 0.2 0.3 0-3.5 0.5 1.4 0.2 1.3 0.2 2.6 0.3-1.4 0.1-1.8 1.2-1.7 0.8 4.6 0.4 0.4 0-3.7 0.8 3.1 0.8-4.8 1 0.1 0.4-0.1 0.8 5.5 -118.5 4.8 9.6-3.6 0.3 2.8 28.2-3.1 5.7 1.7 3.8-0.5 2.3 1.2 0.1-1.4 1.5 3.6 1.5-4.9 0 5.5 0.7-0.5 0-5.2 0.5 3.2 0.5 1.4 2.4-1.7 0.5 1.7 0.1-4.5 4.1 3.5 1.1-2.2 2.8 4.5 0.8-1.3 0.1-3.3 0.5 3.1 0.3-1.8 0.3-2 0.1 3.4 0.3-1.6 0.6-1 0.3-0.7 1.5 3.2 0.3 0.1 0.3-3.9 1.7 1.9 0.9-1.5 1.2 2.1 0.3 0.7 0.2 0 0.7-2.2 0.7-0.9 0.1 4.8 2.2-2.1 0.1-0.6 1.2 1.3 2.8 1.2 0.7-3.9 1.2-0.3 0.2 2.1 1.1 3 0.5-4 0.9 1.5 0.2-1.9 1.5 1.6 0.2 2.7 0.4-1.4 1.2 0.2 2 1.1 0.8-3.8 0.3 0.6 0.7 2.6 0.1-4.2 1.3 0.5 0.2-1 0.3 0.4 2.2 3.3 2.9 0 0.1-2.5 2.4 2.2 2-0.7 0.1 0.1 0 0.8 0.4-2 0.1 2.8 0.7-4.6 0.1 2.5 0.5-1 0.1 2.2 0.6-2.5 0 3.9 0.1-2 0.1-1 0.6 3.3 0.2-3.6 0.5 1.1 0.1-2.2 0.6 4.5 0.3-2.7 2.8 2.4 1.7-5 0.8 3 0.1 0.9 1.3 1.7 -83.5 3.2 11.7 2.5 0.2-3.8 5.1 1.7 2.7-2.5 0 4.2 0.3-1.7 1.6-0.7 0.5 2.9 0.2 0.4 1.6-0.5 0.1-2.7 0.8-1.7 1 0.4 1.7-1.3 2.1 0.2 1.9 3.4 2.4 2.1 0.1-2.3 4 0.2 0.2 2.1 0.1-2.9 3.5-1.2 1.3 3 0.1 0.7 1.1-1.6 0.7 1.6 0.7-4.7 1.4 2.1 2.3 2.2 0.6-3.2 1.2 2.7 1.3-2.9 1.3 1.6 1.9-0.9 0.5-0.4 0.9 4.1 0.7-5.2 1.2 5.2 0.2-3 0 2.7 0.3-2.4 1.5-1.8 0.5 4 0.3-5.2 0.6 2.3 2.3 3.1 0.1-0.9 1.1-3.1 0.2 3.9 0-1.8 0.3-2.2 0.6-0.6 3.9 4.4 0.1-3.1 0.2 0.1 0.1 0 2 1.7 0.2-3.3 0.5 0.5 0.7 2.8 2.3-0.7 0.5-2.4 0.6 2.7 0.4 0.9 0.1 0.3 0.6-0.9 1.4 1.6 0.4-4.3 0.8-0.4 0.3 5.2 0.4-4.3 1-1.5 0 5.6 0.4-5.4 -110.3 5.8 12.8 2.9 1.5 2.1 4.2-3.5 0.2 2.1 5.1-1 6.9 1.4 2.2 0.5 2.4-0.2 2.6 1 1.1-3.9 1.4 3.4 0.1-4.1 4 3.8 0.3-3.9 0.4 3.6 1.1-4.3 3.8 5.5 1.3-0.3 0.6-1.4 0.2 1.8 0.1-2.2 1.4-2.8 1.1 1.1 0.9-0.8 0.7 4 0.5-4.1 1 5.1 0.1-2.7 0.3-2.8 0.4 4.5 0.5 0.3 0.7-4.8 0.7 2.3 0.1-2.7 0.4 2.8 1.7 1.4 0.6-2.2 0.7 0.5 0.1 1.5 0.5 0.7 2.3-0.8 0 0.9 1.2-3.8 0.7 0.9 0.3 1 2.2 0.4 0.5 1.2 0.1-0.7 0 1.3 1.4-4.2 1-0.8 0.1 2.2 3.2-0.4 0.7 0.2 0.2-1.6 1.2 1.7 1.3 0.3 0-1.7 0.9-0.6 0.2 5.5 2.2-5.3 0.7 0.2 0.2 5.3 0.7-5.4 0.1 1.4 0.5 3.4 0.1 0.5 0.9-0.9 0-1 0.3 1.3 0.9-4.7 0.5 0.7 0.4 0.5 0.3 2.7 0.3 0.4 0.9-4.9 0.3 0.4 0.2 1.3 1.1 0.1 1.9-1.7 0.3 4.8 1.2-4.1 0.5 4 1.3-2.9 1.5 3.1 1-2.6 0.2 3.2 2.1-1.2 0.6 0.3 0.4-3 0 2.5 0.2-1.1 0.5 1.2 4.1-0.6 0.1-2.5 1 3.9 0.4-4.8 -99.6 11 7-1.4 9.1-1.6 6.3-1.2 2.8 1 4.8 3.6 0.3-3 3.3 2.7 0.9-4.2 0.2-1.1 0 3 0-1 0 2.6 0.1-0.6 1.2-2.1 0.2 0.7 0.1-2.7 0.2 4.2 0.2-2.3 0.9 1.4 0.9-3.3 1 2.5 0.4-1.2 2.8 2.4 0.2-0.4 4-1.4 0.3 0.7 0.1 1.3 0.4-0.1 0.6 1 0.2-4.1 3.2 0.4 1.2 2 0.1-1.8 0.2 4.4 1-0.8 0.3 0 0.2 0.2 0.5-2.5 0.2-0.4 0.1 2.2 1.2 0.5 0.4-2.5 1.1 2.8 0.6-3.8 2 2.4 2.9-1.6 0.3 2.3 0.1-1 0.4 1.9 2-4.1 0.4 3 0.9-2.2 1.9 1.9 0.5-1.7 0 2.9 0.1-0.3 1.1-2.7 0.4-1.5 1.6 3.7 0.4 1.3 0.1-0.8 2.2-2.9 1.4 3 1.2-1.3 0.9-2.7 0.9-1 0 3 0.4-2.8 0.7 3.3 0-1.2 0.3 0.6 0.2 2.4 0.3 0 0-2.8 0.3 0.3 0.4-0.2 0.5 0.9 1.4 1.1 0.4 1.3 0.1-4.9 0.9 1.2 1.7-1.6 0.2 0.9 2.4 2.2 0.2 0.2 0.2-0.9 0 0.7 0.7-2.5 0.1 1.5 1.2 1.4 0.5-3 0.2 3.9 0.1-2.5 0 3.4 0.5-4.3 0.9 4 0.4-3.8 0.3 2.1 0.1-3.3 0.4 0.7 0.4 4 0.6-1.9 0-3 0.1 0.4 0.5 0 0 4 0.9-1.4 0-3.4 0.3 4.2 0.1-3.7 0.4 1.4 -106.1 7 10.7 2.5 4.3-2.6 0.8 0 10.3 1.3 2.8-2.4 5.1 0.7 2 1.3 0.8-1.9 1.4 1.8 0.6-0.7 0.9 2.3 0.7-5.1 3.6 0.8 0.5 1.2 0.8 1.8 0.4-1 0-0.8 0.6 1.1 1.5 1.2 2.6-0.3 3.9-2 0.9 1.3 0.1-3.3 1.2 3.8 0.2-3.2 1.9 5.2 0.1-3.7 0.2 2.7 0.9-2.2 0.6 1 0.8-1.3 0.5 1.4 0.2-0.8 1.9-1.7 0.3 0.1 1.8 4.2 1-3.2 1.3 3.1 0.2-1.7 0.1-1.2 0.2 0.4 0.6 1.9 1.5-0.7 0.1-1.5 1 2.9 0.8-0.2 2.2-4.3 0.6 2.9 1.8 0.6 0.5-2.6 1.6-0.1 0.6 0.4 0.3-0.7 0.2 0.5 0.4 2.5 0.1-0.2 1-2.7 0.8 2 0.4-2.1 0 2.9 0.6-4.4 1.7 0 0.4 0.6 0.4 4.9 0.4 0 2.5-1.6 0.4-3.8 0 1.5 1.4-0.3 2.6 3.1 1.3-0.1 1.3-3.2 0 0.3 0.7 3.8 1.6-4.9 0 4.5 0.9-2.9 0.2 0.5 1.7 2.5 2 0 0.5-3.8 0.1-1.2 0.2 3.8 0.2-2.3 1 1.7 0.6 0.6 0.1-2.1 0.1-0.6 0 4.5 -80.5 2.2 3.1 3.3 6.2-3.9 0.5 4 3.2-5.1 0.3 0.3 2.1 2.7 2-1.9 3.2-0.3 0-0.1 2 5.1 0.4-4.9 1.6 1.2 0.1 2.5 2.1-1.9 2 1 0.7-2.6 0.3 2.2 0.7-3.2 1.7 4.8 1-4.3 0.6 3.3 0-3.4 0.2 1.2 0.5-0.3 0.8 4.4 0.2-3.7 0.4-1.4 0.5 3.5 0.9 1.4 0.7-1.2 0.9-1.9 0.5 0.5 0.1 1.9 0.4-2.4 3.1-2.5 1.1 5.6 0.5-0.6 0-3.4 0.6-0.9 0 4.4 1.8-4.3 0.4 0.9 0.1 2.5 0.1-0.4 0.3 0.9 0.1 0.8 1.7-3.5 0.3-1.9 2.4 4.9 0.1-0.1 0.6-2.2 0.2-1.6 1.9 4.4 0.4-4.3 0.2 2 1.4 1.3 0.4-4 0.1 0.5 1.3 1.5 0.5-0.2 0.3 3.1 1.3-0.8 0.3-4.5 1.1 5.7 0.5-4.9 2.1 2.4 0.5 2.5 0.7-1.4 0.8-3.9 0.1 5.1 1.9-3 0.5 0.1 0.5-0.5 1.5-1.8 0.3-0.4 0.5 2 0.2-2 0.2 1.1 0 1 0.8 2.6 0 0.8 0.2-0.8 0.9-2.4 1.2-0.7 0.2-0.7 0.1 3.2 0.2-1 0.2 1.2 0.5-2.4 0.1-1.3 0.1 1 1 3.2 0.1 0.7 0.1 0 0.2-1.2 0 0.4 0.2-1.4 1 2 0.1-1.8 0.3-0.7 0.2-2.6 -78.3 7.5 4.9 1.4 0 2.3 2.9-4.6 1.4 3.6 1.6-4 3.2 4.1 4.2-3 0.5 2 3.6-2.9 0.1 4.4 1.8 0.6 1.5-0.3 1.8-4.3 0.4-0.1 1 4 0.5-1.8 0.2 0.7 1.5-3.2 0.6 4.3 1.6-4.4 0.3 2.6 3.7 1.6 0.1-1.9 1.8-2.4 0.7 0.5 0.9 4.4 1.6-1.4 0.4-2 0.3-1.5 1-0.5 0.1 4.7 2-1.1 1.4-3.6 0.3 2.3 1.6 3.6 0.1-5.1 0.9 3.4 0.3-2.9 0.7 1.4 1.9-0.2 1.4-2.2 0.1 1 1.8 1.3 0.9 3.3 1.2-0.2 1.2-1.8 2.1 1.8 1-4.3 0.8 0 0.9 4 0.1 0.3 0.4-1.4 0.5-3.3 0.6 4.2 0.8-4.7 0.2 2.5 0.8 2.5 0.5-5.1 1-0.3 0.3 1.3 0.2 0.2 0.1 2.3 2.3 1.2 0.4 0.4 0.6-5.4 0 5.5 0-2.5 4.1-1.6 0.2 3.7 0.2-3.7 0.2 0.4 -81.7 7.7 4.4-2 5.1 0.3 0.1 0.5 1.6-2.3 4.9 5.5 1.4-1.8 0.9 1.1 0.5-3.6 0.5 1 0.7 0.7 0.9-0.2 1 1.8 0.1-2.8 0.2-1.6 0.1 2.1 0.1-1.7 3.9 1.9 0.3 2.6 0.5-4.6 1 4.7 0.1-5.1 0.6 0.6 0.1 1.8 0.1 1.7 1.7-1.4 0.2-2.3 2.6 5.3 1.6 0.1 0.1-1.1 0.8-0.4 2.1 0.6 1-0.7 0.6-2.6 0.9 3.8 0.6-4.2 1.2 1.9 0.7-1.9 1.1-0.3 1.6 4.1 1.4-1.1 0.6-1.4 0.2-2.5 0.3 5.7 0.1-4.3 0.4 1 0.1 0.6 1.6 2.2 0.8-2.1 0.2-1.9 1.1 1 0.8-1.4 1.2 0 0.5 2.5 0.2-1.9 0.1 0.1 0.3-1.1 0.3 5.3 1.2-4.6 0.1 4.2 0.6-2.6 1.1-2.1 1.2 5.2 0.7-5 0.1 3.4 0.6 0 1-1 1.4 0.5 0-1.2 0.7-0.4 0.2-1.2 2.2 1.6 0.7 0.8 0.2-3.2 1.3 4.5 0.5-0.8 0.8 1.4 0-4.5 1 1 0-1 0.6 1.4 0.5 2.1 1.2-0.8 0.1-2.2 0.4 2.3 0.1-2.3 1.5 4.3 0.1-0.1 0.5 0.1 0.8-0.5 0.1-4.2 0.1 1.3 1.7-1.4 1.1 4.8 1-0.8 -75.8 6.2 3.9-3.1 3.2 0.4 6.3 1 0.7-1.6 0.4-0.8 3.5 0.2 0.9 3.3 0.7-1.3 1.1 2.7 0.3-3.6 0.8 0.1 1.2-1.6 0.3 4.2 0.1-0.2 1.2-3.2 0.9 1.1 0.2-1.9 0.1 1.4 0.7-0.9 0.6 4.4 0.2-3.4 0.7-1.8 2.2 5.5 1.9-5.1 1.3 3.5 0.5 1.6 0.6-4.3 1.1 4 1-3.8 0.2-0.8 0.5 1.1 1.4-0.3 2.6 3.2 0.1-2.3 2.2-1.8 0.9 4.7 0.5 0 0.6-0.2 0-1.3 1 1.1 0.2-0.2 2-4.7 0.7-0.3 1.2 1.6 0.3-0.1 0.5 2.9 1-3.7 0.4 4 0.1-0.7 0.7-3.8 2 4.9 0.6-3 0.3 1.4 0.6 2.1 0.4-2.1 0.6 0.3 0.2 0.2 0.6 0.1 1.8-0.2 0-0.3 0.6 2.3 0-2.9 0.4-0.6 0 1.1 0.1 2.1 0.6-0.4 0.2-2.6 0.6-2 0.2 5.2 0.2-1.7 0.5-2.4 0.2 2.4 0.4 0.3 0-0.2 0.8-3.5 2.3 2.7 0.1 2.3 0.5-5.6 0.2 2.4 0 1.2 0.1-3 0.5 0 0.5 1.3 0.7 2.3 0.3 0.2 0.1-1.2 1.1 2.1 1.5-2 0-1.6 0.7 2.7 0.5-4.2 0.2 5 0.1-3.6 0.7 4.1 0.1-1.5 0.2-2.7 -81.6 8.3 2.9-2.4 14.7-0.5 1.3 2.3 2-1.3 3 1.5 1-3.4 2.2 1.7 0.7-0.8 0.6 2.4 0.9-3.3 0.5 1.3 0.8 1.7 1.3-0.3 1.3 0.5 1 0.4 2.6-2.8 1.4 2.5 0.2-0.3 0.1-0.7 0.1 1.3 0.4-1.1 2 0.3 0.4-1.6 0.8 1.7 1.6-2.1 2.4 1.6 1.4-1.6 0.4 1 0.8-0.8 1.6 2.2 0.3-0.6 0.1-2.4 1.2 2.6 0.4-2.6 1.7 1.8 0.1-1.3 5.2 2.2 1.5-2 1.7 2.5 0.7-0.8 0.5-2.2 0.3 3.4 0.8-3.4 0.8 2.9 3.2-3.2 0.2 0 0.3 3.6 0.7-1.2 0.1 0.6 0.6-1.5 0.2 0.8 1.6 1.1 0.8-1.2 0 0.4 1.1-1 2.2 0.7 1.5-1.4 0.4 1.6 0.1-1.6 0 2.8 2.4-2.5" fill="none" marker-start="url(#mb)" marker-mid="url(#mb)" marker-end="url(#mb)"/>
<path d="M601.6 1027.5l-64.7 57.1 -23.3 50.1 23.7 11.3 -8.3 25 -18.7 7.2 23-0.6 -26.7 6.1 0.3 3.1 33.8-1.3 -34.3 11.3 16.3-2.3 1.5 1.8 2.1 2.5 -20.1 7.6 0-2.2 0.6 1.6 9 0.1 18.8 2.8 -28.9 4.5 0.9-2.9 1.2 3.6 6.5-0.7 -6.2 3 15.2 3.7 42.2-3.7 -55.8 9 17 1.7 1.5-5.6 9.7 2.5 -27.1 6.3 5.4-1.6 20.8 1.4 -31.2 6.3 5.8 0.8 6.1-0.9 5.2 0.7 31.6-3.7 -45.2 6.3 1.3 5.5 8-3.1 23.8-1.8 14.1 4.6 -49.9 3 7-0.9 5.1 1.6 12-1.6 -25.5 4.9 1.8 2.8 10.3 0.1 0.5-1.1 12.6 1.1 -25.3 7.4 3.4 0.7 23.5-1.3 5.6-3.9 -31.7 6.7 1 1.8 4.4 1.5 4.5-1.8 4.3 2.5 22.9-0.8 1.2-2.5 -39 6.5 14.3 1.6 3.3-1.7 59 3.1 -63.2 4.2 10.1-3.4 0.2 1.2 0.8 0.3 0.1-0.2 4.8 4.5 7.1-2.5 4.7 0.6 0.1 0.4 10 0.5 42.4-2.1 -89 4.7 3.1 4 2.1-0.9 3.6-0.4 8-3 3.5 3.5 7.8-1.6 12 0.2 117 1.9 -160.7 5.5 1-2.7 2.2-0.5 2.4-1.1 2 2.5 6.1-2.1 2.3 3.3 9.6-3 31.7 0 9.2-1.1 138.7 1.6 -205.5 6.3 0.8 0.1 0.5 3.8 2.2-5.8 0.3 2.5 2.7 2.5 3.8-3.5 4.1 3.7 0.1-2.9 0.6 0.1 2.4-1.2 6.8 1.9 11.2-1.6 0.8 0.6 7.2 2.5 2.7-1.8 27.1-1.6 92.4 0.5 -165.4 7.2 2.9-1.4 0.3 1.2 9.4-2.2 6 4.2 57.2-2.5 4 2.6 27.1 0 -108 6.9 5.4-1.8 0-1.8 0.7 0.3 0.4 0.8 2 1.4 3.1-4.3 1.1 5.1 0.3-2.9 14.6 1.4 6.8-3.5 1.3 4.6 -31.9 5.9 15.1-0.2 11.7-2.2 15.3 3.4 98-0.8 -142.9 5.1 1.5 1.6 0 0.1 1.9-4.4 2.7 3.5 0.2-3 0.2 1 0.1-2.2 1.9-0.6 0.5 3.7 11 1 137.2-3.5 -152.6 6.8 1.1 0 2.3 1.9 1.2-0.6 1.6 0 2.1 1.4 4-3.5 0.5 4.5 0.5-1.9 2.7 1.6 3.9-4.2 3.3 3.6 1.1-3.8 4.9 3.1 5.4 0.7 1.8-3.8 1.3 0.4 15.3-1.1 27.5 4.8 -86.3 4.9 2.3-1.2 0.7 2.1 4.7-3.1 1.4-0.2 0.4 1.5 0.6-1.8 2.2 1.1 2 1.3 1.7 0.9 0.7 0.4 0.7-2.7 20.6-0.5 47.4-1.1 14.8 4.4 -100.1 5 1 1.3 0.7-0.4 0.2-1.8 1 2.3 0.1-3 0.1 2.4 1.3-1.4 0.2-0.2 1.7 1.1 2.8-3.8 3.4 3.7 0.5-0.1 0.7 1.1 0.5-2 0.8 2.5 4.2-2 2.4 0.5 3.2-4 5.8 1.9 6.9 0.1 2.5 1.4 0.4 1 1.8-4.3 2.1-0.5 16.3 5.2 6.7 0.4 -66.7 3.1 0.9 2.8 0.5-5.6 1 2.6 1 0.6 0.6 2.5 0.1-5.3 0.3 2.4 2.6-1.7 7.3-0.3 0.1 2.5 2.2 1.2 0.2-3.5 5.5-0.7 2.4 1.5 3.8-1.6 1.5 5 12.2-3.4 7.8 2.5 6.3-3.3 -56.7 8.7 0 0.1 1.3-2.4 0.4 4.3 1-1.7 1.8-1.8 0.9 1.7 0.2-3.8 0.7 5.7 0.1-5.5 0.8 3.3 2 0.2 0.5-1.2 0.7 0.2 0-1.5 0.5 2.9 1 0.2 0.3 1.6 0.8-2.1 6.8 0.9 2.7-3.1 3.8 0.8 4.4 3.4 7.8-4.9 102.2 0.3 1.9 4.5 -141.6 5.1 0.2-3.4 0.9 0 0.5 2.5 1.1-1.3 0.1-0.3 2-1 0.4-1.2 0.1 1 3.9 1.4 0.2 2.6 0 0 0.6-2.6 2.2 2.9 0.3-1.3 2.7-2 1.5 0.3 0.6 0.6 3.8-2.7 3.4 4.8 10.2-3.3 0.1-0.5 9.9 3.5 4.6-3.4 17.9 3.2 6.7-1.5 6.7 1 0-0.3 11.3-2.7 7.8 3.8 -100.8 2.6 2.4 4.3 0.2-1.7 0.8 1.1 0.1-4.3 0.3 2.5 1.4-2.6 0 3.9 1.4 0.3 9.9-4.2 0.3 3.3 2.3-1.8 0.8 0.9 1.6 0.3 1.3 0.7 11.7-3 9.6 1.8 0.1 2.5 15.7-0.7 0.4 0.1 37.2 0.6 29.3-1.4 41.6-1.2 -167.5 4.7 0.2-0.6 2-0.6 0.8 4 1.6-3.3 0.4 4.5 0.3-2.3 0.8-0.9 0.4 1.5 0.9 1 0.1-2.8 0.4 2.9 0.2 0 1.2 0.1 0.1-1.3 1.2 0.7 0.6-0.1 0.1-0.3 5.5 1.6 0.8-2.3 2.1 1.7 0.2-4.1 1.9 2.8 0.1-1 1.3-2.8 2.7 3.5 0.7-2.3 0.3 4.3 0.4-0.3 3.2 0.1 1.4-4 4.4 1.8 0.3-2.9 1.9 4 9-2.1 22.2-1.1 10.5-0.7 76.7-0.1 -157.2 7.3 0.3 2.4 0.3 1 2.6-2.4 0.6 2.1 2.3-2.8 0.8 1.5 0.7-1 0.6 2 1.1 1.2 0-3.9 1.8 0.7 0.5-1.3 9.6-0.5 0.7 3.5 1.9-1.2 13.2 0 0.3-1 8.7 0.5 3.4 1.4 3.9-1.4 11.5-2.3 87.4 0.5 -151.1 5.9 0.9 0.1 0.9 2.2 1.2 0.3 1.4 1.3 0.2 1.2 0-0.6 0.8-4.2 0.1 2.9 5-0.4 4.1-0.3 0-2.9 0.1 1.4 3 2.2 0.3-1.7 10.3 0.1 5.1 3.2 2.8-1.5 2.4-2.8 0.7 4.9 0.9 0 14.6-2.6 5.6 2.5 113.5-3.5 -175.3 5.8 1.3-0.8 0.6 3.1 0.4-1 1.1-1.3 1.3-1.2 0.8 4.4 0.1-1.8 0.9-1.1 0-2.2 2.4 0.7 0.1 4.8 2.6-0.1 0-3.1 1.2-1.9 0.1 0.4 2 1.9 2.3 2.2 4.1-3.8 4.1 1.4 3.2 1 4.7 0.9 6.4-1.2 5.1 2.1 9.6-4.6 11 2 1.8 1.1 10.7 1.2 7.6-0.3 25.7-1.5 -110.9 5.4 0.4-2.4 1.8 2.1 1.9 2.8 0.8-3 0.3 3.6 0.5-3.5 1.3 2.9 0.9-2 1.6 1.2 1.1-3.5 0.3 1.4 0.9 1.9 1-4.3 0.2 4.9 0.9-4.3 1.9 0.8 0.9 2.9 1.4-3.3 4 3.7 4.4-1.7 1.3-0.4 3.4 2.1 2.7 0.1 2.4-3.2 2.4-1.2 0.6 1.5 0.2 0.4 7.1 1.7 0.8 1.7 3.7-2.2 13.5-1.7 4.5-1.6 4-0.1 6.2 5.8 12.3-2.5 8.7 0.3 19.8-0.2 5.2 0.9 -125.8 6.5 0.8-0.6 0.2-4.2 0.5 2.6 0.9-1.3 0.1 2.2 0.3-2.3 3.4 3.8 0.5-0.4 4.2 1.1 0.7-1.5 0.1 0.5 0.3-2.9 1.1 0.3 0.7-0.1 0.1 0.5 0.3 0.5 0.1-2.5 0.1 0.1 0.2 4.9 0.6-3.7 3.3 0.7 1.9 2.6 3.7-3.7 0.2-1 0 5.5 1.8-1.4 1.3-4.4 2.2 4.9 2.4-1 2.9 1.2 2.4 0.3 9.2-1.7 16.2 1.4 6.8-0.5 11-0.3 84.5-1.6 -165.1 3.6 0.2 4.8 0.5-2.2 0.2 0.9 0.8-1.8 0.5 3.5 0.9-4.1 0.1 2.9 0.3-3.6 1.2 2.9 0.5 0.8 0.5-1.5 1.3 2 0.1-4.7 1.6 2.8 3.2-2.9 0.8 0.8 1 3.9 0.6-4.4 0.2 3.9 2.2 1.3 0-1.6 0.5 0.6 2.2-3.5 2.2 3.1 0.3-2.2 1.7-0.4 0.5 3.4 0.2-1.2 3.4-0.7 5.8-0.5 2.5 0.5 16.4 0.1 8.7-1.9 10.7-0.7 6.3 5 69.9-2.1 3.2-3 -150.3 8.9 0.4 0.9 0.5-2.2 0.1-0.8 1 4.2 0.2-0.1 0.9-0.6 0.2 0.7 0.9-1.5 1.8-1.4 0.6-0.5 0.1-0.6 0.2 2.4 0.3-1.5 0.1-2.3 2.6 0.3 0.8 4.9 6.4-1.6 1.5-0.3 1.4 1.2 0.8-2.4 2.2 2.6 2.1-2.5 1.5-0.1 0.8-0.3 3 0.5 0.5 1.7 0.6 1.1 12.1-3.6 7.7 1.2 6.4-2.3 26-0.1 11.4 1.4 0.3 0.2 21.3 1.7 20.2 0.1 -138 3.1 0.2 1.9 0.3 1.3 0.1-0.8 0.4 0.9 0.1 1.1 0.1 0 0.1-1.6 0.6-2.2 0 1.8 0.1-0.1 0.1 1 2-1.1 0.6-2.1 0.3 0.4 1.1 2.5 1.2 1.9 0.8-0.3 1.2-4.9 0.1 4.3 0.1-4.7 1 2.1 1 0.3 0.4 2.3 1.2-2.9 0.6 3.8 2.5-2.8 0.7-0.9 0.6 2.4 0.9-0.3 1.1-3.7 0.2 4.2 0.2-4.8 1.9 3.4 0.7-2.1 2.6 1.7 0.2-2.5 0.4 0 1.2 1.3 0.8-1.5 0.7 4 1.7-2.5 1.2 1.8 9.9-2.4 28.8-0.9 -69.8 8.6 0.3-2.6 0-0.3 0.1-0.1 0 4.9 0.1-2.7 0.1 0 0.5-2 0.7 3.9 0.2 1.7 0.6-1.2 0-3.2 0.1 2.5 0 0.6 0.7-1.7 0.2 2.4 0.5-0.2 1.9-2 0.4-2.5 2.4 4.7 0.6-2.4 0.7 2 0-4.7 0.8 1.5 0.6 1.5 0.7 2.4 1.1-4.4 0.9 4.1 0.1-3.6 0.1 3.2 0.8-1.2 1.4 0.4 0.4 0.6 0.4-1.5 0.8-3.1 0.6 3 3.3-2.5 1.9 4.5 4.1-4.8 5.8 3.8 3.9-1 0.3 2 0.3-0.3 4.6-4.1 7.7 4.5 69.9-0.5 45.9-3.6 -166.7 8.6 0.8-2.3 0.3-0.9 0.1 5.3 0.6-2.6 0.9-2.6 0 0.8 0.6 1.7 0.2 0 0.4-0.5 1.1-1.9 0.1 4.7 0.6-2.1 0.2 2.6 1.5-4.8 0.3 0.3 0.2-1.3 0.5 0.8 0.5 4.8 0.4-4.5 0 4.7 0.8-2.7 0.4-2.6 0.3 3.3 0-1 0.1 2.8 0.4-4.9 0.3 0.4 0.1-0.9 0.1 4.1 1.6 0.8 0.8 0.4 0.4-5.4 0.1 3.2 1-0.1 3.4 1.7 0.7 0.7 0.4-3.9 4.9-0.1 3.6-1.2 4.8 1.1 2.2 3.4 1.9-3.7 0.2 0.3 10.5 1.2 105.8 3.2 -153.9 5.6 0.5-3.5 1.3 1.4 0.2-0.9 0.2 1.7 0.2 1.3 0.1-4.2 0 3.3 0.2-1.3 0.5 0.7 0.2-2.8 0.4-0.2 0.7 3.6 1.2 1.2 0.1-1.7 1 0.9 0.1-0.4 0.1-2 0.4 1 0.4-2.8 0.8 3.9 1 0.5 0.5-0.1 0.1-3.2 0.1 2.3 0.2 1.3 2.1-4.9 0.9 1.4 2.3-1.3 0-0.5 2.3 2.9 1.7 1.8 0.5-1.1 0.1 0.3 0.2-1.4 0.3-1.9 0.9 0 0.4 0.3 1.5-0.8 0.8 5.6 1.6-0.5 2.4-1.8 9.6-2.9 7.8-0.5 5.4 3.3 10.6 1 19.5-4 82.9 4.2 -164.1 2.7 0.2 0.9 0.6 0.3 0.2-0.6 0.3-1.1 0.4 1.1 0.1-1.5 0.6 4.4 0.6-3.4 1.3-1 0.4 2.2 1.6 3 0.9-2.6 0.5 0.5 0.3-1.5 0.5 1.5 0.2 0.6 0.2-1.6 0.3 1 2.5 0.4 1.6 0.2 0.4 0.9 4.6-3.7 0.3 0.6 1.5 0.3 1.2-0.5 1.7 1.9 2.2 2.1 1.3-3.5 2.3 1.6 1.8-3 2.3 1.9 0.2-0.6 0.4-1.5 1.9 3.1 8.6-2.5 0 1.4 35.6 2 57-2.4 -136.7 8.1 0.2-4.1 0 0.8 0.3 0 0.5 3.3 0.2-0.1 0.2 1.5 0.3-2.5 0.3-2.2 0.6 1.8 0.8 2.8 0-3.9 0.6 0.5 0-1.8 0.4 2.6 0.6-1.5 0.3 0.9 0.6 0.3 0.3-0.1 0.6-1.2 0.3 3.1 0.2-1.9 0.5-2.6 1.1 5.2 0.7-2.3 1.4-1 0.1 1.4 0.1 2.4 0.6-1.5 0.5-3.4 2.4-0.5 1.5 2.7 0.3 0 0.6-1.4 0 0 1.4 2.4 0.6-3.6 0.4 4.1 3.1-1.5 0.1 0.9 3.7 1.9 14.9-0.2 90.6 0.1 0.3-2.1 -131.4 5.8 0.4 1.6 0.2-4.8 1.1 2.8 0.8-1.4 0.3-0.8 0.1-0.1 0.2 1.6 0.6-0.9 0.1 4.2 0.1-0.7 1.3 0.3 0.3 0.4 0.8-4.6 0.2 0.7 0.5 3.1 0.3-2.4 2 0.5 0.7-0.3 0.9 0.6 0.5-2.7 1.7 1.8 0.3 2.7 0.5-0.4 0.5-4.5 0.1 1.4 2.3-1.2 2.1 2.7 0.8 2.1 0.6 0.4 0.4-5.2 0.2 2.4 4-1.7 2.6 1.9 5-0.4 0.7-1.7 0.1 2.9 1.9-0.5 0.3 2.7 2-4 10.6 1.5 0.7 0.1 5.1-3.5 97.9 3.9 -152.9 2 0.2 0.6 0-0.1 0.2 0.3 0.7 4.1 0.2-3.8 0.3 2 0.3 0.3 0-2.1 0.5 3.9 0.1-4 0.2 4.5 0.2-1.6 0.6-2.1 0.2-0.9 0.3 0.8 0.1 0.7 0 2.3 0.1-1.6 0.7 0.7 0.6 0.3 0.2 0.9 0-3.2 0.1-0.6 0.3 0.3 1.5 2.1 0.7-0.1 0.3-0.1 0.3 1.2 0.1-0.3 1 0.7 0.1-0.2 0.6-3.6 0.1 3.1 1.7-0.1 0.8-1.5 1-2.6 0.2 1.6 1 3.1 1.1-0.5 0.3-1.5 0.5-0.5 1.2-0.7 0.8 2.6 1.9-4.3 0.6 4.9 0.6 0 0.7 1 0.4-4.9 0.1 1 0.6-0.6 0.6-0.2 0.5 0.3 2.3-1 3.8 1.8 0.5 1.8 0.5 0.4 1.5 0.9 0.5-4 7.5 4.5 2.4-0.2 10.5-1.1 0.1-2.4 9.3-1 18.1 0.2 55-1 -137.3 8.8 0.2 0.3 0.3-0.3 0.1 2.1 0.4 0.4 0.3-0.4 0.3-4.3 0.2-0.1 0.4 0.2 0.1-0.7 0.2 5.2 0-4.3 0.1 1.8 0.3 2.7 0.2-3.5 0.3 0.9 0-1.1 0.2 1.9 0.5 0.8 0.4-1.9 0.4-0.3 0.5 1.1 1.8-1.2 0 1.7 0.4-0.2 0.3-2.1 0.1 1.4 0.8-2.7 0.7 3.1 0.3-2.2 0.8 3.4 0.5-4.1 0.4 1.8 0.3-2.1 0.8 4.9 0.2-3.1 0.4 3.4 1.2-4.3 0.2 1.7 0.5-1.9 0.6-1.1 0.3-0.2 1 3.7 2.4 2.1 0.9-5 1.8 4.2 0.1 0.3 3.2-4.5 1.2 1.7 5.2 3.5 0.4-3 3.8 0.7 13.4 1.7 0.4-2.4 -49.9 4.2 0.4 1.6 0.4-2.5 0.4 3.5 0.5 0 0.2-1.3 0.1-0.1 0.4 0.4 1.1-1.9 0.5-0.6 0.3 2 0.2 0.6 1 0.9 1.1-2.6 0.1 0 0.1 0.8 1 0.2 1.1 0.9 0.4 0 1.2 0.4 4.9 0 0.3-2.1 0.6-0.6 0.2 0.5 0.4 2.1 3-1.4 0.2 0.9 0.8-0.5 13.1-1 71.6 0.6" fill="none" marker-start="url(#mr)" marker-mid="url(#mr)" marker-end="url(#mr)"/></g>
<text x="195.4" y="1008.7" font-size="16.5" fill="#2f5688" stroke="#2f5688">CRTAC1</text>
<text x="169.4" y="1107.3" font-size="16.5" fill="#2f5688" stroke="#2f5688">FIBIN</text>
<text x="235.1" y="1104.2" font-size="16.5" fill="#2f5688" stroke="#2f5688">ROBO1</text>
<text x="257.8" y="1072.2" font-size="16.5" fill="#2f5688" stroke="#2f5688">MRAP2</text>
<line x1="333.1" y1="1051.7" x2="330.8" y2="1070" stroke="#2f5688" stroke-width="1.1"/>
<text x="307.1" y="1047.6" font-size="16.5" fill="#2f5688" stroke="#2f5688">SULF1</text>
<text x="390.6" y="1051.7" font-size="16.5" fill="#2f5688" stroke="#2f5688">ZMAT3</text>
<text x="337.8" y="1076.3" font-size="16.5" fill="#2f5688" stroke="#2f5688">CTNNAL1</text>
<text x="318.3" y="1097.8" font-size="16.5" fill="#2f5688" stroke="#2f5688">MAGI2-AS3</text>
<line x1="333.1" y1="1114.8" x2="325.5" y2="1099" stroke="#2f5688" stroke-width="1.1"/>
<text x="300.9" y="1131.7" font-size="16.5" fill="#2f5688" stroke="#2f5688">AMOTL1</text>
<text x="382.5" y="1133.7" font-size="16.5" fill="#2f5688" stroke="#2f5688">CASK</text>
<text x="579.9" y="1023.7" font-size="16.5" fill="#CC0000" stroke="#CC0000">CD38</text>
<text x="506.2" y="1080.8" font-size="16.5" fill="#CC0000" stroke="#CC0000">SLC7A8</text>
<text x="457.4" y="1120.7" font-size="16.5" fill="#CC0000" stroke="#CC0000">METRNL</text>
<text x="545.2" y="1121.8" font-size="16.5" fill="#CC0000" stroke="#CC0000">SEMA4A</text>
<line x1="551.5" y1="1152.3" x2="530.5" y2="1169.5" stroke="#CC0000" stroke-width="1.1"/>
<text x="553.5" y="1150" font-size="16.5" fill="#CC0000" stroke="#CC0000">NCF4</text>
<text x="480.6" y="1157.3" font-size="16.5" fill="#CC0000" stroke="#CC0000">CDK16</text>
<text x="549.5" y="1175.5" font-size="16.5" fill="#CC0000" stroke="#CC0000">MXD1</text>
<text x="426.5" y="1195.8" font-size="16.5" fill="#CC0000" stroke="#CC0000">BAIAP2</text>
<text x="545.4" y="1205.8" font-size="16.5" fill="#CC0000" stroke="#CC0000">PIK3R6</text>
<line x1="396.7" y1="1624.1" x2="396.7" y2="983.5" stroke="#000" stroke-width="2.2" stroke-dasharray="6.4 11.8" stroke-linecap="round"/>
<line x1="505" y1="1624.1" x2="505" y2="983.5" stroke="#000" stroke-width="2.2" stroke-dasharray="6.4 11.8" stroke-linecap="round"/>
<line x1="143.9" y1="1471.1" x2="738.2" y2="1471.1" stroke="#000" stroke-width="2.2" stroke-dasharray="6.4 11.8" stroke-linecap="round"/>
<rect x="142.9" y="983.5" width="595.3" height="641" fill="none" stroke="#333333" stroke-width="1.3"/>
<line x1="180.2" y1="1624.5" x2="180.2" y2="1631" stroke="#333333" stroke-width="1.4"/>
<text x="180.2" y="1651.1" text-anchor="middle" font-size="22.29" fill="#4D4D4D" stroke="#4D4D4D">-5.0</text>
<line x1="315.5" y1="1624.5" x2="315.5" y2="1631" stroke="#333333" stroke-width="1.4"/>
<text x="315.5" y="1651.1" text-anchor="middle" font-size="22.29" fill="#4D4D4D" stroke="#4D4D4D">-2.5</text>
<line x1="450.9" y1="1624.5" x2="450.9" y2="1631" stroke="#333333" stroke-width="1.4"/>
<text x="450.9" y="1651.1" text-anchor="middle" font-size="22.29" fill="#4D4D4D" stroke="#4D4D4D">0.0</text>
<line x1="586.2" y1="1624.5" x2="586.2" y2="1631" stroke="#333333" stroke-width="1.4"/>
<text x="586.2" y="1651.1" text-anchor="middle" font-size="22.29" fill="#4D4D4D" stroke="#4D4D4D">2.5</text>
<line x1="721.5" y1="1624.5" x2="721.5" y2="1631" stroke="#333333" stroke-width="1.4"/>
<text x="721.5" y="1651.1" text-anchor="middle" font-size="22.29" fill="#4D4D4D" stroke="#4D4D4D">5.0</text>
<line x1="136.4" y1="1595.5" x2="142.9" y2="1595.5" stroke="#333333" stroke-width="1.4"/>
<text x="130.5" y="1602.3" text-anchor="end" font-size="22.29" fill="#4D4D4D" stroke="#4D4D4D">0</text>
<line x1="136.4" y1="1404.3" x2="142.9" y2="1404.3" stroke="#333333" stroke-width="1.4"/>
<text x="130.5" y="1411.1" text-anchor="end" font-size="22.29" fill="#4D4D4D" stroke="#4D4D4D">2</text>
<line x1="136.4" y1="1213.1" x2="142.9" y2="1213.1" stroke="#333333" stroke-width="1.4"/>
<text x="130.5" y="1219.9" text-anchor="end" font-size="22.29" fill="#4D4D4D" stroke="#4D4D4D">4</text>
<line x1="136.4" y1="1021.9" x2="142.9" y2="1021.9" stroke="#333333" stroke-width="1.4"/>
<text x="130.5" y="1028.7" text-anchor="end" font-size="22.29" fill="#4D4D4D" stroke="#4D4D4D">6</text>
<text x="330.6" y="1688.9" font-size="25.91" stroke="#000">log</text>
<text x="367.2" y="1693.6" font-size="18.62" stroke="#000">2</text>
<text transform="translate(379 1677.9) scale(1 1.245)" y="6.58" font-size="25.91" stroke="#000">(</text>
<text x="389.6" y="1688.9" font-size="25.91" stroke="#000">Fold Change</text>
<text transform="translate(539.9 1677.9) scale(1 1.245)" y="6.58" font-size="25.91" stroke="#000">)</text>
<text transform="translate(97.8 1378.9) rotate(-90)" font-size="25.91" stroke="#000">log</text>
<text transform="translate(102.5 1342.3) rotate(-90)" font-size="18.62" stroke="#000">10</text>
<text transform="translate(86.8 1320.1) rotate(-90) scale(1 1.245)" y="6.58" font-size="25.91" stroke="#000">(</text>
<text transform="translate(97.8 1309.6) rotate(-90)" font-size="25.91" stroke="#000">P Value</text>
<text transform="translate(86.8 1216.8) rotate(-90) scale(1 1.245)" y="6.58" font-size="25.91" stroke="#000">)</text>
<text x="774.3" y="1248.8" font-size="21.99" stroke="#000">Group</text>
<circle cx="793.2" cy="1283.5" r="2.95" fill="#2f5688" fill-opacity="0.5" stroke="#2f5688" stroke-opacity="0.5" stroke-width="1.8"/>
<text x="822" y="1290" font-size="21.99" stroke="#000">Down-regulated</text>
<circle cx="793.2" cy="1321" r="2.95" fill="#BBBBBB" fill-opacity="0.5" stroke="#BBBBBB" stroke-opacity="0.5" stroke-width="1.8"/>
<text x="822" y="1327.5" font-size="21.99" stroke="#000">not-significant</text>
<circle cx="793.2" cy="1358.5" r="2.95" fill="#CC0000" fill-opacity="0.5" stroke="#CC0000" stroke-opacity="0.5" stroke-width="1.8"/>
<text x="822" y="1365" font-size="21.99" stroke="#000">Up-regulated</text>
<text x="0" y="33.7" font-size="43" font-weight="bold" stroke="#000">A</text>
<text x="0" y="983.8" font-size="43" font-weight="bold" stroke="#000">B</text>
</svg></body></html>
